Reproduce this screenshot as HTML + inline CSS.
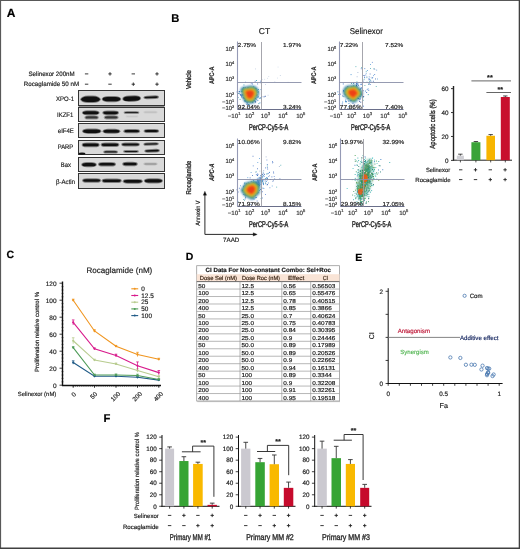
<!DOCTYPE html>
<html><head><meta charset="utf-8"><style>
html,body{margin:0;padding:0;background:#fff;}
body{width:520px;height:549px;overflow:hidden;position:relative;}
svg{position:absolute;left:0;top:0;font-family:"Liberation Sans", sans-serif;will-change:transform;text-rendering:geometricPrecision;}
</style></head><body>
<svg width="520" height="549" viewBox="0 0 520 549">
<defs>
<filter id="bl" x="-20%" y="-100%" width="140%" height="300%"><feGaussianBlur stdDeviation="0.9"/></filter>
<filter id="fb" x="-50%" y="-50%" width="200%" height="200%"><feGaussianBlur stdDeviation="1.1"/></filter>
<filter id="fb2" x="-80%" y="-80%" width="260%" height="260%"><feGaussianBlur stdDeviation="0.6"/></filter>
</defs>
<rect x="0" y="0" width="520" height="549" fill="#fff"/>
<text x="6.80" y="16.80" font-size="12" text-anchor="start" fill="#000" font-weight="bold" stroke="#000" stroke-width="0.18">A</text>
<text x="171.20" y="21.80" font-size="11.2" text-anchor="start" fill="#000" font-weight="bold" stroke="#000" stroke-width="0.18">B</text>
<text x="6.50" y="257.80" font-size="10.5" text-anchor="start" fill="#000" font-weight="bold" stroke="#000" stroke-width="0.18">C</text>
<text x="185.80" y="260.20" font-size="10.5" text-anchor="start" fill="#000" font-weight="bold" stroke="#000" stroke-width="0.18">D</text>
<text x="355.20" y="260.90" font-size="10.5" text-anchor="start" fill="#000" font-weight="bold" stroke="#000" stroke-width="0.18">E</text>
<text x="103.50" y="422.10" font-size="11.3" text-anchor="start" fill="#000" font-weight="bold" stroke="#000" stroke-width="0.18">F</text>
<text x="74.60" y="76.20" font-size="6.3" text-anchor="end" fill="#222" textLength="46.10" lengthAdjust="spacingAndGlyphs" stroke="#222" stroke-width="0.18">Selinexor 200nM</text>
<text x="79.20" y="86.40" font-size="6.3" text-anchor="end" fill="#222" textLength="55.40" lengthAdjust="spacingAndGlyphs" stroke="#222" stroke-width="0.18">Rocaglamide 50 nM</text>
<line x1="84.90" y1="73.90" x2="88.30" y2="73.90" stroke="#222" stroke-width="0.9"/>
<line x1="108.30" y1="73.90" x2="111.70" y2="73.90" stroke="#222" stroke-width="0.9"/>
<line x1="110.00" y1="72.20" x2="110.00" y2="75.60" stroke="#222" stroke-width="0.9"/>
<line x1="131.60" y1="73.90" x2="135.00" y2="73.90" stroke="#222" stroke-width="0.9"/>
<line x1="155.30" y1="73.90" x2="158.70" y2="73.90" stroke="#222" stroke-width="0.9"/>
<line x1="157.00" y1="72.20" x2="157.00" y2="75.60" stroke="#222" stroke-width="0.9"/>
<line x1="84.90" y1="84.20" x2="88.30" y2="84.20" stroke="#222" stroke-width="0.9"/>
<line x1="108.30" y1="84.20" x2="111.70" y2="84.20" stroke="#222" stroke-width="0.9"/>
<line x1="131.60" y1="84.20" x2="135.00" y2="84.20" stroke="#222" stroke-width="0.9"/>
<line x1="133.30" y1="82.50" x2="133.30" y2="85.90" stroke="#222" stroke-width="0.9"/>
<line x1="155.30" y1="84.20" x2="158.70" y2="84.20" stroke="#222" stroke-width="0.9"/>
<line x1="157.00" y1="82.50" x2="157.00" y2="85.90" stroke="#222" stroke-width="0.9"/>
<rect x="78.50" y="105.50" width="86.00" height="2.00" fill="#8a8a8a"/>
<rect x="78.50" y="90.50" width="86.00" height="15.00" fill="#d9d9d9" stroke="#333" stroke-width="1"/>
<text x="74.00" y="101.00" font-size="6.5" text-anchor="end" fill="#222" textLength="17.90" lengthAdjust="spacingAndGlyphs" stroke="#222" stroke-width="0.18">XPO-1</text>
<rect x="78.50" y="107.50" width="86.00" height="14.00" fill="#d9d9d9" stroke="#333" stroke-width="1"/>
<text x="73.30" y="116.80" font-size="6.5" text-anchor="end" fill="#222" textLength="16.30" lengthAdjust="spacingAndGlyphs" stroke="#222" stroke-width="0.18">IKZF1</text>
<rect x="78.50" y="123.50" width="86.00" height="14.00" fill="#d9d9d9" stroke="#333" stroke-width="1"/>
<text x="73.90" y="133.00" font-size="6.5" text-anchor="end" fill="#222" textLength="16.10" lengthAdjust="spacingAndGlyphs" stroke="#222" stroke-width="0.18">eIF4E</text>
<rect x="78.50" y="140.50" width="86.00" height="14.00" fill="#d9d9d9" stroke="#333" stroke-width="1"/>
<text x="73.20" y="148.60" font-size="6.5" text-anchor="end" fill="#222" textLength="15.40" lengthAdjust="spacingAndGlyphs" stroke="#222" stroke-width="0.18">PARP</text>
<rect x="78.50" y="157.50" width="86.00" height="14.00" fill="#d9d9d9" stroke="#333" stroke-width="1"/>
<text x="71.00" y="166.90" font-size="6.5" text-anchor="end" fill="#222" textLength="10.20" lengthAdjust="spacingAndGlyphs" stroke="#222" stroke-width="0.18">Bax</text>
<rect x="78.50" y="173.50" width="86.00" height="15.00" fill="#d9d9d9" stroke="#333" stroke-width="1"/>
<text x="75.10" y="184.10" font-size="6.5" text-anchor="end" fill="#222" textLength="19.10" lengthAdjust="spacingAndGlyphs" stroke="#222" stroke-width="0.18">β-Actin</text>
<g>
<rect x="80.20" y="95.60" width="20.60" height="7.40" rx="8.14" ry="3.70" fill="#101010" opacity="0.450"/>
<rect x="81.20" y="96.60" width="18.60" height="5.40" rx="5.94" ry="2.70" fill="#101010" opacity="1.0"/>
<rect x="101.60" y="96.00" width="19.70" height="6.20" rx="6.82" ry="3.10" fill="#101010" opacity="0.450"/>
<rect x="102.60" y="97.00" width="17.70" height="4.20" rx="4.62" ry="2.10" fill="#101010" opacity="1.0"/>
<rect x="122.20" y="95.40" width="19.00" height="6.40" rx="7.04" ry="3.20" fill="#101010" opacity="0.450" transform="rotate(-2 131.70 98.60)"/>
<rect x="123.20" y="96.40" width="17.00" height="4.40" rx="4.84" ry="2.20" fill="#101010" opacity="1.0" transform="rotate(-2 131.70 98.60)"/>
<rect x="143.40" y="95.50" width="15.60" height="3.60" rx="3.96" ry="1.80" fill="#101010" opacity="0.450" transform="rotate(-2 151.20 97.30)"/>
<rect x="144.40" y="96.50" width="13.60" height="1.60" rx="1.76" ry="0.80" fill="#101010" opacity="1.0" transform="rotate(-2 151.20 97.30)"/>
<rect x="81.90" y="110.30" width="17.70" height="5.00" rx="5.50" ry="2.50" fill="#101010" opacity="0.450"/>
<rect x="82.90" y="111.30" width="15.70" height="3.00" rx="3.30" ry="1.50" fill="#101010" opacity="1.0"/>
<rect x="102.30" y="110.40" width="16.70" height="4.80" rx="5.28" ry="2.40" fill="#101010" opacity="0.450"/>
<rect x="103.30" y="111.40" width="14.70" height="2.80" rx="3.08" ry="1.40" fill="#101010" opacity="1.0"/>
<rect x="123.70" y="111.00" width="15.60" height="3.00" rx="3.30" ry="1.50" fill="#101010" opacity="0.383"/>
<rect x="124.70" y="112.00" width="13.60" height="1.00" rx="1.10" ry="0.50" fill="#101010" opacity="0.85"/>
<rect x="143.40" y="110.80" width="14.20" height="2.80" rx="3.08" ry="1.40" fill="#101010" opacity="0.054"/>
<rect x="144.40" y="111.80" width="12.20" height="0.80" rx="0.88" ry="0.40" fill="#101010" opacity="0.12"/>
<rect x="84.40" y="115.20" width="14.40" height="4.40" rx="4.84" ry="2.20" fill="#101010" opacity="0.324"/>
<rect x="85.40" y="116.20" width="12.40" height="2.40" rx="2.64" ry="1.20" fill="#101010" opacity="0.72"/>
<rect x="103.80" y="115.30" width="14.80" height="4.20" rx="4.62" ry="2.10" fill="#101010" opacity="0.324"/>
<rect x="104.80" y="116.30" width="12.80" height="2.20" rx="2.42" ry="1.10" fill="#101010" opacity="0.72"/>
<rect x="125.40" y="115.10" width="13.20" height="2.60" rx="2.86" ry="1.30" fill="#101010" opacity="0.032"/>
<rect x="126.40" y="116.10" width="11.20" height="0.60" rx="0.66" ry="0.30" fill="#101010" opacity="0.07"/>
<rect x="82.10" y="128.50" width="19.30" height="5.40" rx="5.94" ry="2.70" fill="#101010" opacity="0.450"/>
<rect x="83.10" y="129.50" width="17.30" height="3.40" rx="3.74" ry="1.70" fill="#101010" opacity="1.0"/>
<rect x="102.50" y="128.65" width="17.90" height="5.10" rx="5.61" ry="2.55" fill="#101010" opacity="0.450"/>
<rect x="103.50" y="129.65" width="15.90" height="3.10" rx="3.41" ry="1.55" fill="#101010" opacity="1.0"/>
<rect x="123.40" y="129.10" width="16.70" height="4.20" rx="4.62" ry="2.10" fill="#101010" opacity="0.450"/>
<rect x="124.40" y="130.10" width="14.70" height="2.20" rx="2.42" ry="1.10" fill="#101010" opacity="1.0"/>
<rect x="143.60" y="128.90" width="15.60" height="4.20" rx="4.62" ry="2.10" fill="#101010" opacity="0.450"/>
<rect x="144.60" y="129.90" width="13.60" height="2.20" rx="2.42" ry="1.10" fill="#101010" opacity="1.0"/>
<rect x="81.70" y="142.50" width="18.00" height="4.80" rx="5.28" ry="2.40" fill="#101010" opacity="0.450"/>
<rect x="82.70" y="143.50" width="16.00" height="2.80" rx="3.08" ry="1.40" fill="#101010" opacity="1.0"/>
<rect x="100.60" y="142.40" width="18.80" height="4.60" rx="5.06" ry="2.30" fill="#101010" opacity="0.450"/>
<rect x="101.60" y="143.40" width="16.80" height="2.60" rx="2.86" ry="1.30" fill="#101010" opacity="1.0"/>
<rect x="121.20" y="142.60" width="18.70" height="3.80" rx="4.18" ry="1.90" fill="#101010" opacity="0.450"/>
<rect x="122.20" y="143.60" width="16.70" height="1.80" rx="1.98" ry="0.90" fill="#101010" opacity="1.0"/>
<rect x="143.40" y="142.35" width="15.40" height="3.30" rx="3.63" ry="1.65" fill="#101010" opacity="0.450" transform="rotate(-2 151.10 144.00)"/>
<rect x="144.40" y="143.35" width="13.40" height="1.30" rx="1.43" ry="0.65" fill="#101010" opacity="1.0" transform="rotate(-2 151.10 144.00)"/>
<rect x="103.30" y="150.35" width="14.60" height="3.10" rx="3.41" ry="1.55" fill="#101010" opacity="0.427"/>
<rect x="104.30" y="151.35" width="12.60" height="1.10" rx="1.21" ry="0.55" fill="#101010" opacity="0.95"/>
<rect x="123.20" y="150.05" width="15.60" height="2.90" rx="3.19" ry="1.45" fill="#101010" opacity="0.427"/>
<rect x="124.20" y="151.05" width="13.60" height="0.90" rx="0.99" ry="0.45" fill="#101010" opacity="0.95"/>
<rect x="144.30" y="149.00" width="15.60" height="3.60" rx="3.96" ry="1.80" fill="#101010" opacity="0.450" transform="rotate(-2 152.10 150.80)"/>
<rect x="145.30" y="150.00" width="13.60" height="1.60" rx="1.76" ry="0.80" fill="#101010" opacity="1.0" transform="rotate(-2 152.10 150.80)"/>
<ellipse cx="82.0" cy="153.6" rx="3.4" ry="1.2" fill="#101010"/>
<rect x="81.20" y="162.10" width="15.60" height="5.20" rx="5.72" ry="2.60" fill="#101010" opacity="0.450"/>
<rect x="82.20" y="163.10" width="13.60" height="3.20" rx="3.52" ry="1.60" fill="#101010" opacity="1.0"/>
<rect x="98.00" y="162.00" width="18.00" height="4.60" rx="5.06" ry="2.30" fill="#101010" opacity="0.450"/>
<rect x="99.00" y="163.00" width="16.00" height="2.60" rx="2.86" ry="1.30" fill="#101010" opacity="1.0"/>
<rect x="122.20" y="161.65" width="15.60" height="4.70" rx="5.17" ry="2.35" fill="#101010" opacity="0.450"/>
<rect x="123.20" y="162.65" width="13.60" height="2.70" rx="2.97" ry="1.35" fill="#101010" opacity="1.0"/>
<rect x="143.40" y="162.60" width="14.20" height="2.80" rx="3.08" ry="1.40" fill="#101010" opacity="0.135"/>
<rect x="144.40" y="163.60" width="12.20" height="0.80" rx="0.88" ry="0.40" fill="#101010" opacity="0.3"/>
<rect x="82.10" y="178.20" width="19.00" height="4.60" rx="5.06" ry="2.30" fill="#101010" opacity="0.450"/>
<rect x="83.10" y="179.20" width="17.00" height="2.60" rx="2.86" ry="1.30" fill="#101010" opacity="1.0"/>
<rect x="101.60" y="178.50" width="20.20" height="4.60" rx="5.06" ry="2.30" fill="#101010" opacity="0.450"/>
<rect x="102.60" y="179.50" width="18.20" height="2.60" rx="2.86" ry="1.30" fill="#101010" opacity="1.0"/>
<rect x="122.70" y="178.90" width="20.10" height="4.80" rx="5.28" ry="2.40" fill="#101010" opacity="0.450"/>
<rect x="123.70" y="179.90" width="18.10" height="2.80" rx="3.08" ry="1.40" fill="#101010" opacity="1.0"/>
<rect x="143.80" y="178.20" width="19.20" height="5.20" rx="5.72" ry="2.60" fill="#101010" opacity="0.450"/>
<rect x="144.80" y="179.20" width="17.20" height="3.20" rx="3.52" ry="1.60" fill="#101010" opacity="1.0"/>
</g>
<text x="264.50" y="34.00" font-size="8.5" text-anchor="middle" fill="#222" stroke="#222" stroke-width="0.18">CT</text>
<text x="366.30" y="34.40" font-size="8.5" text-anchor="middle" fill="#222" textLength="33.00" lengthAdjust="spacingAndGlyphs" stroke="#222" stroke-width="0.18">Selinexor</text>
<text x="190.80" y="79.60" font-size="7" text-anchor="middle" fill="#222" textLength="19.00" lengthAdjust="spacingAndGlyphs" transform="rotate(-90 190.80 79.60)" stroke="#222" stroke-width="0.3">Vehicle</text>
<text x="191.40" y="177.70" font-size="7" text-anchor="middle" fill="#222" textLength="33.80" lengthAdjust="spacingAndGlyphs" transform="rotate(-90 191.40 177.70)" stroke="#222" stroke-width="0.3">Rocaglamide</text>
<rect x="248.6" y="97.3" width="0.9" height="0.9" fill="#1a3a8a"/>
<rect x="259.9" y="97.5" width="0.9" height="0.9" fill="#2a64c0"/>
<rect x="248.7" y="95.9" width="0.9" height="0.9" fill="#1f50b0"/>
<rect x="250.5" y="96.7" width="0.9" height="0.9" fill="#4070c8"/>
<rect x="252.2" y="95.5" width="0.9" height="0.9" fill="#4070c8"/>
<rect x="256.7" y="97.0" width="0.9" height="0.9" fill="#3a8ad0"/>
<rect x="245.0" y="89.3" width="0.9" height="0.9" fill="#2a64c0"/>
<rect x="245.0" y="92.0" width="0.9" height="0.9" fill="#3a8ad0"/>
<rect x="260.6" y="97.6" width="0.9" height="0.9" fill="#2a9aa0"/>
<rect x="243.9" y="97.8" width="0.9" height="0.9" fill="#1f50b0"/>
<rect x="246.3" y="103.8" width="0.9" height="0.9" fill="#3a8ad0"/>
<rect x="255.8" y="98.7" width="0.9" height="0.9" fill="#3a8ad0"/>
<rect x="245.1" y="99.4" width="0.9" height="0.9" fill="#2a64c0"/>
<rect x="242.8" y="91.5" width="0.9" height="0.9" fill="#4070c8"/>
<rect x="247.5" y="89.3" width="0.9" height="0.9" fill="#2a9aa0"/>
<rect x="237.6" y="97.1" width="0.9" height="0.9" fill="#2a9aa0"/>
<rect x="246.9" y="103.6" width="0.9" height="0.9" fill="#1a3a8a"/>
<rect x="250.4" y="92.3" width="0.9" height="0.9" fill="#2a9aa0"/>
<rect x="238.7" y="92.8" width="0.9" height="0.9" fill="#1a3a8a"/>
<rect x="242.7" y="96.8" width="0.9" height="0.9" fill="#2a64c0"/>
<rect x="254.3" y="98.3" width="0.9" height="0.9" fill="#2a9ab0"/>
<rect x="242.9" y="105.0" width="0.9" height="0.9" fill="#4070c8"/>
<rect x="258.1" y="96.5" width="0.9" height="0.9" fill="#2a9ab0"/>
<rect x="240.8" y="91.1" width="0.9" height="0.9" fill="#2a9ab0"/>
<rect x="246.6" y="102.2" width="0.9" height="0.9" fill="#1f50b0"/>
<rect x="240.0" y="94.7" width="0.9" height="0.9" fill="#2a64c0"/>
<rect x="257.2" y="83.5" width="0.9" height="0.9" fill="#4070c8"/>
<rect x="249.3" y="92.6" width="0.9" height="0.9" fill="#1a3a8a"/>
<rect x="247.6" y="87.1" width="0.9" height="0.9" fill="#1a3a8a"/>
<rect x="252.0" y="90.5" width="0.9" height="0.9" fill="#4070c8"/>
<rect x="253.9" y="91.3" width="0.9" height="0.9" fill="#4070c8"/>
<rect x="245.3" y="100.3" width="0.9" height="0.9" fill="#4070c8"/>
<rect x="258.9" y="97.8" width="0.9" height="0.9" fill="#3a8ad0"/>
<rect x="249.6" y="89.1" width="0.9" height="0.9" fill="#2a9ab0"/>
<rect x="246.6" y="94.6" width="0.9" height="0.9" fill="#4070c8"/>
<rect x="238.9" y="91.1" width="0.9" height="0.9" fill="#2a9ab0"/>
<rect x="243.6" y="97.4" width="0.9" height="0.9" fill="#1a3a8a"/>
<rect x="245.5" y="97.1" width="0.9" height="0.9" fill="#4070c8"/>
<rect x="253.1" y="93.7" width="0.9" height="0.9" fill="#3a8ad0"/>
<rect x="254.8" y="100.9" width="0.9" height="0.9" fill="#2a64c0"/>
<rect x="242.6" y="95.2" width="0.9" height="0.9" fill="#2a9aa0"/>
<rect x="249.4" y="97.5" width="0.9" height="0.9" fill="#1f50b0"/>
<rect x="245.1" y="99.6" width="0.9" height="0.9" fill="#3a8ad0"/>
<rect x="247.5" y="88.4" width="0.9" height="0.9" fill="#1f50b0"/>
<rect x="244.8" y="87.2" width="0.9" height="0.9" fill="#4070c8"/>
<rect x="257.9" y="89.0" width="0.9" height="0.9" fill="#2a9ab0"/>
<rect x="247.0" y="88.2" width="0.9" height="0.9" fill="#4070c8"/>
<rect x="247.9" y="96.0" width="0.9" height="0.9" fill="#1a3a8a"/>
<rect x="247.0" y="96.6" width="0.9" height="0.9" fill="#3a8ad0"/>
<rect x="247.5" y="95.4" width="0.9" height="0.9" fill="#1f50b0"/>
<rect x="250.1" y="94.5" width="0.9" height="0.9" fill="#3a8ad0"/>
<rect x="236.7" y="91.5" width="0.9" height="0.9" fill="#1f50b0"/>
<rect x="261.3" y="96.3" width="0.9" height="0.9" fill="#1f50b0"/>
<rect x="244.3" y="99.9" width="0.9" height="0.9" fill="#2a9aa0"/>
<rect x="244.9" y="90.8" width="0.9" height="0.9" fill="#2a64c0"/>
<rect x="260.3" y="80.7" width="0.9" height="0.9" fill="#4070c8"/>
<rect x="245.2" y="95.1" width="0.9" height="0.9" fill="#3a8ad0"/>
<rect x="254.1" y="97.5" width="0.9" height="0.9" fill="#2a9aa0"/>
<rect x="241.5" y="95.6" width="0.9" height="0.9" fill="#1f50b0"/>
<rect x="263.6" y="96.4" width="0.9" height="0.9" fill="#1f50b0"/>
<rect x="244.5" y="100.8" width="0.9" height="0.9" fill="#2a64c0"/>
<rect x="250.2" y="90.0" width="0.9" height="0.9" fill="#1a3a8a"/>
<rect x="255.6" y="88.2" width="0.9" height="0.9" fill="#2a9aa0"/>
<rect x="237.8" y="93.1" width="0.9" height="0.9" fill="#2a9aa0"/>
<rect x="250.9" y="87.9" width="0.9" height="0.9" fill="#2a9ab0"/>
<rect x="242.0" y="94.4" width="0.9" height="0.9" fill="#1f50b0"/>
<rect x="256.1" y="80.0" width="0.9" height="0.9" fill="#2a9ab0"/>
<rect x="251.4" y="98.3" width="0.9" height="0.9" fill="#4070c8"/>
<rect x="249.7" y="90.6" width="0.9" height="0.9" fill="#1f50b0"/>
<rect x="240.9" y="94.9" width="0.9" height="0.9" fill="#2a64c0"/>
<rect x="251.6" y="88.6" width="0.9" height="0.9" fill="#3a8ad0"/>
<rect x="245.0" y="81.8" width="0.9" height="0.9" fill="#4070c8"/>
<rect x="253.2" y="86.4" width="0.9" height="0.9" fill="#2a9aa0"/>
<rect x="255.1" y="93.1" width="0.9" height="0.9" fill="#3a8ad0"/>
<rect x="255.1" y="98.1" width="0.9" height="0.9" fill="#2a9aa0"/>
<rect x="252.2" y="101.7" width="0.9" height="0.9" fill="#1f50b0"/>
<rect x="253.4" y="89.3" width="0.9" height="0.9" fill="#1a3a8a"/>
<rect x="245.5" y="100.9" width="0.9" height="0.9" fill="#2a9ab0"/>
<rect x="243.5" y="84.5" width="0.9" height="0.9" fill="#2a9ab0"/>
<rect x="249.1" y="91.0" width="0.9" height="0.9" fill="#3a8ad0"/>
<rect x="242.7" y="97.6" width="0.9" height="0.9" fill="#2a64c0"/>
<rect x="254.7" y="80.8" width="0.9" height="0.9" fill="#4070c8"/>
<rect x="241.0" y="96.5" width="0.9" height="0.9" fill="#2a64c0"/>
<rect x="249.5" y="91.2" width="0.9" height="0.9" fill="#3a8ad0"/>
<rect x="257.4" y="95.7" width="0.9" height="0.9" fill="#4070c8"/>
<rect x="251.1" y="91.7" width="0.9" height="0.9" fill="#2a9ab0"/>
<rect x="244.8" y="91.0" width="0.9" height="0.9" fill="#2a9aa0"/>
<rect x="253.9" y="100.2" width="0.9" height="0.9" fill="#2a64c0"/>
<rect x="264.8" y="95.8" width="0.9" height="0.9" fill="#1a3a8a"/>
<rect x="257.4" y="99.9" width="0.9" height="0.9" fill="#3a8ad0"/>
<rect x="239.6" y="98.9" width="0.9" height="0.9" fill="#2a9ab0"/>
<rect x="250.9" y="93.6" width="0.9" height="0.9" fill="#3a8ad0"/>
<rect x="248.9" y="98.4" width="0.9" height="0.9" fill="#1f50b0"/>
<rect x="246.8" y="100.5" width="0.9" height="0.9" fill="#2a9ab0"/>
<rect x="258.4" y="103.2" width="0.9" height="0.9" fill="#2a9aa0"/>
<rect x="256.6" y="89.7" width="0.9" height="0.9" fill="#2a9ab0"/>
<rect x="254.8" y="91.3" width="0.9" height="0.9" fill="#1f50b0"/>
<rect x="252.2" y="96.8" width="0.9" height="0.9" fill="#1f50b0"/>
<rect x="256.0" y="95.2" width="0.9" height="0.9" fill="#3a8ad0"/>
<rect x="242.5" y="88.6" width="0.9" height="0.9" fill="#3a8ad0"/>
<rect x="253.0" y="99.9" width="0.9" height="0.9" fill="#1a3a8a"/>
<rect x="251.5" y="95.8" width="0.9" height="0.9" fill="#1a3a8a"/>
<rect x="242.9" y="93.7" width="0.9" height="0.9" fill="#2a9ab0"/>
<rect x="251.9" y="83.5" width="0.9" height="0.9" fill="#2a64c0"/>
<rect x="250.0" y="98.8" width="0.9" height="0.9" fill="#2a9ab0"/>
<rect x="255.0" y="97.9" width="0.9" height="0.9" fill="#2a64c0"/>
<rect x="250.8" y="82.6" width="0.9" height="0.9" fill="#4070c8"/>
<rect x="243.1" y="107.4" width="0.9" height="0.9" fill="#1f50b0"/>
<rect x="241.4" y="93.9" width="0.9" height="0.9" fill="#4070c8"/>
<rect x="239.8" y="94.0" width="0.9" height="0.9" fill="#1f50b0"/>
<rect x="258.1" y="91.5" width="0.9" height="0.9" fill="#2a9aa0"/>
<rect x="260.5" y="89.2" width="0.9" height="0.9" fill="#3a8ad0"/>
<rect x="251.6" y="92.0" width="0.9" height="0.9" fill="#2a64c0"/>
<rect x="246.2" y="97.4" width="0.9" height="0.9" fill="#1a3a8a"/>
<rect x="250.1" y="96.6" width="0.9" height="0.9" fill="#1a3a8a"/>
<rect x="249.1" y="97.1" width="0.9" height="0.9" fill="#2a9ab0"/>
<rect x="255.0" y="101.6" width="0.9" height="0.9" fill="#1a3a8a"/>
<rect x="247.1" y="97.6" width="0.9" height="0.9" fill="#3a8ad0"/>
<rect x="253.9" y="93.7" width="0.9" height="0.9" fill="#2a64c0"/>
<rect x="244.8" y="98.2" width="0.9" height="0.9" fill="#1a3a8a"/>
<rect x="251.6" y="91.7" width="0.9" height="0.9" fill="#4070c8"/>
<rect x="255.7" y="94.3" width="0.9" height="0.9" fill="#4070c8"/>
<rect x="251.6" y="99.0" width="0.9" height="0.9" fill="#1a3a8a"/>
<rect x="246.6" y="98.2" width="0.9" height="0.9" fill="#4070c8"/>
<rect x="249.0" y="94.9" width="0.9" height="0.9" fill="#2a9aa0"/>
<rect x="245.3" y="94.0" width="0.9" height="0.9" fill="#2a64c0"/>
<rect x="259.5" y="102.4" width="0.9" height="0.9" fill="#3a8ad0"/>
<rect x="252.6" y="94.1" width="0.9" height="0.9" fill="#2a9aa0"/>
<rect x="248.3" y="106.1" width="0.9" height="0.9" fill="#3a8ad0"/>
<rect x="249.6" y="97.3" width="0.9" height="0.9" fill="#4070c8"/>
<rect x="254.9" y="87.9" width="0.9" height="0.9" fill="#2a9aa0"/>
<rect x="244.2" y="98.2" width="0.9" height="0.9" fill="#1f50b0"/>
<rect x="242.1" y="90.9" width="0.9" height="0.9" fill="#2a64c0"/>
<rect x="248.2" y="104.0" width="0.9" height="0.9" fill="#3a8ad0"/>
<rect x="248.1" y="95.4" width="0.9" height="0.9" fill="#2a64c0"/>
<rect x="243.3" y="87.2" width="0.9" height="0.9" fill="#2a64c0"/>
<rect x="246.9" y="92.1" width="0.9" height="0.9" fill="#2a9aa0"/>
<rect x="254.0" y="90.0" width="0.9" height="0.9" fill="#2a9aa0"/>
<rect x="255.8" y="94.3" width="0.9" height="0.9" fill="#2a9aa0"/>
<rect x="248.8" y="93.4" width="0.9" height="0.9" fill="#1a3a8a"/>
<rect x="250.2" y="97.1" width="0.9" height="0.9" fill="#3a8ad0"/>
<rect x="249.7" y="97.9" width="0.9" height="0.9" fill="#2a9aa0"/>
<rect x="245.2" y="89.7" width="0.9" height="0.9" fill="#3a8ad0"/>
<rect x="248.4" y="100.7" width="0.9" height="0.9" fill="#3a8ad0"/>
<rect x="248.7" y="104.2" width="0.9" height="0.9" fill="#2a9aa0"/>
<rect x="251.1" y="94.7" width="0.9" height="0.9" fill="#1f50b0"/>
<rect x="246.6" y="93.4" width="0.9" height="0.9" fill="#4070c8"/>
<rect x="250.2" y="100.4" width="0.9" height="0.9" fill="#1a3a8a"/>
<rect x="252.5" y="89.3" width="0.9" height="0.9" fill="#4070c8"/>
<rect x="238.7" y="91.3" width="0.9" height="0.9" fill="#1f50b0"/>
<g filter="url(#fb)">
<path d="M258.86,94.10 L258.55,95.21 L257.98,96.22 L257.31,97.10 L256.72,97.95 L256.30,98.90 L255.94,100.01 L255.46,101.19 L254.70,102.23 L253.65,102.96 L252.43,103.33 L251.16,103.43 L249.90,103.41 L248.66,103.33 L247.42,103.13 L246.25,102.72 L245.22,102.03 L244.38,101.14 L243.73,100.14 L243.21,99.12 L242.81,98.10 L242.50,97.10 L242.28,96.10 L242.07,95.11 L241.77,94.10 L241.33,93.00 L240.86,91.73 L240.59,90.33 L240.79,88.96 L241.57,87.85 L242.81,87.16 L244.22,86.86 L245.56,86.75 L246.73,86.62 L247.78,86.37 L248.82,86.05 L249.90,85.79 L251.03,85.69 L252.19,85.75 L253.36,85.93 L254.53,86.25 L255.67,86.75 L256.68,87.47 L257.47,88.42 L258.03,89.51 L258.42,90.65 L258.71,91.79 L258.88,92.94 Z" fill="#2350a8"/>
<path d="M258.14,94.10 L257.86,95.12 L257.34,96.05 L256.72,96.86 L256.18,97.64 L255.79,98.52 L255.46,99.54 L255.02,100.62 L254.32,101.58 L253.35,102.25 L252.23,102.59 L251.06,102.69 L249.90,102.67 L248.76,102.59 L247.62,102.41 L246.54,102.03 L245.59,101.40 L244.82,100.57 L244.22,99.65 L243.75,98.71 L243.37,97.78 L243.09,96.86 L242.89,95.94 L242.70,95.03 L242.42,94.10 L242.02,93.09 L241.58,91.92 L241.33,90.63 L241.52,89.37 L242.24,88.35 L243.37,87.72 L244.67,87.44 L245.91,87.34 L246.99,87.22 L247.95,86.99 L248.90,86.69 L249.90,86.45 L250.94,86.36 L252.01,86.41 L253.08,86.59 L254.16,86.88 L255.21,87.34 L256.13,88.00 L256.86,88.88 L257.38,89.88 L257.74,90.92 L258.00,91.98 L258.16,93.04 Z" fill="#178c9c"/>
<path d="M257.33,94.10 L257.08,95.02 L256.61,95.86 L256.05,96.59 L255.56,97.30 L255.21,98.08 L254.92,99.00 L254.52,99.98 L253.89,100.85 L253.02,101.46 L252.00,101.76 L250.94,101.85 L249.90,101.83 L248.87,101.76 L247.84,101.60 L246.87,101.25 L246.01,100.68 L245.32,99.94 L244.78,99.11 L244.35,98.26 L244.01,97.42 L243.76,96.59 L243.57,95.76 L243.40,94.94 L243.15,94.10 L242.79,93.18 L242.39,92.13 L242.17,90.97 L242.34,89.83 L242.99,88.91 L244.01,88.34 L245.19,88.09 L246.30,88.00 L247.27,87.89 L248.14,87.68 L249.00,87.42 L249.90,87.20 L250.84,87.12 L251.80,87.17 L252.77,87.32 L253.75,87.59 L254.69,88.00 L255.52,88.60 L256.18,89.39 L256.65,90.29 L256.97,91.24 L257.21,92.18 L257.36,93.14 Z" fill="#35ad3c"/>
<path d="M256.26,94.10 L256.04,94.89 L255.64,95.60 L255.16,96.23 L254.75,96.84 L254.44,97.51 L254.19,98.29 L253.85,99.13 L253.31,99.87 L252.57,100.39 L251.70,100.65 L250.79,100.73 L249.90,100.71 L249.02,100.66 L248.14,100.51 L247.31,100.22 L246.57,99.73 L245.98,99.10 L245.52,98.39 L245.15,97.66 L244.86,96.94 L244.65,96.23 L244.49,95.52 L244.34,94.82 L244.13,94.10 L243.82,93.32 L243.48,92.42 L243.29,91.42 L243.43,90.45 L243.99,89.66 L244.86,89.18 L245.87,88.96 L246.82,88.88 L247.65,88.79 L248.40,88.61 L249.13,88.38 L249.90,88.20 L250.70,88.13 L251.53,88.17 L252.36,88.30 L253.19,88.53 L254.00,88.88 L254.71,89.40 L255.27,90.07 L255.67,90.84 L255.95,91.65 L256.15,92.46 L256.28,93.28 Z" fill="#d6d126"/>
<path d="M255.19,94.10 L255.00,94.76 L254.67,95.35 L254.27,95.87 L253.93,96.37 L253.68,96.93 L253.47,97.59 L253.18,98.28 L252.73,98.90 L252.12,99.33 L251.39,99.55 L250.64,99.61 L249.90,99.60 L249.17,99.55 L248.44,99.43 L247.75,99.18 L247.14,98.78 L246.64,98.25 L246.26,97.66 L245.96,97.06 L245.71,96.46 L245.53,95.87 L245.40,95.28 L245.28,94.69 L245.11,94.10 L244.85,93.45 L244.56,92.70 L244.41,91.88 L244.53,91.07 L244.99,90.41 L245.71,90.01 L246.55,89.83 L247.34,89.77 L248.03,89.69 L248.65,89.54 L249.26,89.35 L249.90,89.20 L250.57,89.14 L251.25,89.17 L251.94,89.28 L252.63,89.47 L253.30,89.76 L253.90,90.19 L254.36,90.75 L254.70,91.39 L254.93,92.06 L255.10,92.74 L255.20,93.42 Z" fill="#f28a1c"/>
<path d="M253.93,94.10 L253.79,94.60 L253.54,95.05 L253.24,95.45 L252.97,95.83 L252.78,96.26 L252.62,96.76 L252.40,97.29 L252.06,97.76 L251.59,98.09 L251.04,98.25 L250.47,98.30 L249.90,98.29 L249.34,98.26 L248.79,98.17 L248.26,97.98 L247.79,97.67 L247.42,97.27 L247.12,96.82 L246.89,96.36 L246.71,95.90 L246.57,95.45 L246.47,95.00 L246.38,94.55 L246.24,94.10 L246.04,93.60 L245.83,93.03 L245.71,92.40 L245.80,91.79 L246.15,91.29 L246.71,90.98 L247.34,90.84 L247.95,90.79 L248.47,90.74 L248.95,90.62 L249.41,90.48 L249.90,90.36 L250.41,90.31 L250.93,90.34 L251.46,90.43 L251.99,90.57 L252.50,90.79 L252.95,91.12 L253.31,91.54 L253.56,92.03 L253.73,92.55 L253.86,93.06 L253.94,93.58 Z" fill="#ee3f15"/>
</g>
<rect x="265.0" y="84.0" width="0.7" height="0.7" fill="#9ab0d0"/>
<rect x="257.1" y="93.3" width="0.7" height="0.7" fill="#9ab0d0"/>
<rect x="259.9" y="82.7" width="0.7" height="0.7" fill="#9ab0d0"/>
<rect x="268.4" y="76.1" width="0.7" height="0.7" fill="#b8c8e0"/>
<rect x="264.4" y="78.9" width="0.7" height="0.7" fill="#b8c8e0"/>
<rect x="277.7" y="66.7" width="0.7" height="0.7" fill="#b8c8e0"/>
<rect x="255.0" y="68.6" width="0.7" height="0.7" fill="#9ab0d0"/>
<rect x="261.8" y="79.0" width="0.7" height="0.7" fill="#b8c8e0"/>
<rect x="277.0" y="77.7" width="0.7" height="0.7" fill="#b8c8e0"/>
<rect x="279.9" y="75.3" width="0.7" height="0.7" fill="#9ab0d0"/>
<rect x="287.7" y="81.9" width="0.7" height="0.7" fill="#9ab0d0"/>
<rect x="267.2" y="77.9" width="0.7" height="0.7" fill="#b8c8e0"/>
<rect x="274.5" y="81.6" width="0.7" height="0.7" fill="#9ab0d0"/>
<rect x="267.7" y="94.8" width="0.7" height="0.7" fill="#9ab0d0"/>
<line x1="237.50" y1="41.50" x2="237.50" y2="109.50" stroke="#959ab5" stroke-width="1.1"/>
<line x1="237.50" y1="109.50" x2="301.50" y2="109.50" stroke="#6a6f8a" stroke-width="1.0"/>
<line x1="261.50" y1="42.00" x2="261.50" y2="109.50" stroke="#9c9ca4" stroke-width="0.9"/>
<line x1="237.50" y1="82.50" x2="301.50" y2="82.50" stroke="#8a90a8" stroke-width="0.9"/>
<text x="234.20" y="51.30" font-size="5.9" text-anchor="end" fill="#333" stroke="#333" stroke-width="0.18">10<tspan font-size="3.89" dy="-2.48">5</tspan></text>
<text x="234.20" y="66.00" font-size="5.9" text-anchor="end" fill="#333" stroke="#333" stroke-width="0.18">10<tspan font-size="3.89" dy="-2.48">4</tspan></text>
<text x="234.20" y="81.30" font-size="5.9" text-anchor="end" fill="#333" stroke="#333" stroke-width="0.18">10<tspan font-size="3.89" dy="-2.48">3</tspan></text>
<text x="234.20" y="97.30" font-size="5.9" text-anchor="end" fill="#333" stroke="#333" stroke-width="0.18">10<tspan font-size="3.89" dy="-2.48">2</tspan></text>
<text x="234.20" y="104.10" font-size="5.9" text-anchor="end" fill="#333" stroke="#333" stroke-width="0.18">−10<tspan font-size="3.89" dy="-2.48">1</tspan></text>
<text x="234.20" y="110.10" font-size="5.9" text-anchor="end" fill="#333" stroke="#333" stroke-width="0.18">−10<tspan font-size="3.89" dy="-2.48">2</tspan></text>
<text x="240.50" y="117.90" font-size="6.2" text-anchor="end" fill="#333" stroke="#333" stroke-width="0.18">−10<tspan font-size="4.09" dy="-2.60">1</tspan></text>
<text x="254.20" y="117.90" font-size="6.2" text-anchor="end" fill="#333" stroke="#333" stroke-width="0.18">10<tspan font-size="4.09" dy="-2.60">2</tspan></text>
<text x="270.00" y="117.90" font-size="6.2" text-anchor="end" fill="#333" stroke="#333" stroke-width="0.18">10<tspan font-size="4.09" dy="-2.60">3</tspan></text>
<text x="287.50" y="117.90" font-size="6.2" text-anchor="end" fill="#333" stroke="#333" stroke-width="0.18">10<tspan font-size="4.09" dy="-2.60">4</tspan></text>
<text x="305.30" y="117.90" font-size="6.2" text-anchor="end" fill="#333" stroke="#333" stroke-width="0.18">10<tspan font-size="4.09" dy="-2.60">5</tspan></text>
<text x="237.80" y="47.00" font-size="5.8" text-anchor="start" fill="#222" textLength="18.29" lengthAdjust="spacingAndGlyphs" stroke="#222" stroke-width="0.18">2.75%</text>
<text x="301.30" y="47.00" font-size="5.8" text-anchor="end" fill="#222" textLength="18.29" lengthAdjust="spacingAndGlyphs" stroke="#222" stroke-width="0.18">1.97%</text>
<text x="237.80" y="108.90" font-size="5.8" text-anchor="start" fill="#222" textLength="21.87" lengthAdjust="spacingAndGlyphs" stroke="#222" stroke-width="0.18">92.04%</text>
<text x="301.30" y="108.90" font-size="5.8" text-anchor="end" fill="#222" textLength="18.29" lengthAdjust="spacingAndGlyphs" stroke="#222" stroke-width="0.18">3.24%</text>
<text x="214.30" y="75.30" font-size="6.8" text-anchor="middle" fill="#222" font-weight="bold" textLength="17.50" lengthAdjust="spacingAndGlyphs" transform="rotate(-90 214.30 75.30)" stroke="#222" stroke-width="0.18">APC-A</text>
<text x="268.70" y="129.70" font-size="8.4" text-anchor="middle" fill="#222" textLength="39.20" lengthAdjust="spacingAndGlyphs" stroke="#222" stroke-width="0.4">PerCP-Cy5-5-A</text>
<rect x="352.8" y="95.9" width="0.9" height="0.9" fill="#4070c8"/>
<rect x="347.5" y="90.6" width="0.9" height="0.9" fill="#2a9aa0"/>
<rect x="351.4" y="97.3" width="0.9" height="0.9" fill="#1f50b0"/>
<rect x="365.1" y="90.6" width="0.9" height="0.9" fill="#3a8ad0"/>
<rect x="347.4" y="86.1" width="0.9" height="0.9" fill="#1f50b0"/>
<rect x="348.6" y="96.7" width="0.9" height="0.9" fill="#4070c8"/>
<rect x="359.1" y="100.8" width="0.9" height="0.9" fill="#1a3a8a"/>
<rect x="360.3" y="101.7" width="0.9" height="0.9" fill="#1a3a8a"/>
<rect x="360.0" y="88.6" width="0.9" height="0.9" fill="#1a3a8a"/>
<rect x="350.7" y="87.2" width="0.9" height="0.9" fill="#1f50b0"/>
<rect x="353.1" y="86.2" width="0.9" height="0.9" fill="#2a9ab0"/>
<rect x="357.0" y="83.6" width="0.9" height="0.9" fill="#1f50b0"/>
<rect x="356.0" y="85.1" width="0.9" height="0.9" fill="#1a3a8a"/>
<rect x="351.3" y="91.7" width="0.9" height="0.9" fill="#2a64c0"/>
<rect x="357.1" y="97.4" width="0.9" height="0.9" fill="#2a64c0"/>
<rect x="348.0" y="97.8" width="0.9" height="0.9" fill="#2a64c0"/>
<rect x="346.8" y="87.8" width="0.9" height="0.9" fill="#1a3a8a"/>
<rect x="353.2" y="97.9" width="0.9" height="0.9" fill="#4070c8"/>
<rect x="356.1" y="84.6" width="0.9" height="0.9" fill="#1f50b0"/>
<rect x="355.3" y="92.0" width="0.9" height="0.9" fill="#1f50b0"/>
<rect x="362.6" y="97.2" width="0.9" height="0.9" fill="#2a9aa0"/>
<rect x="357.5" y="83.4" width="0.9" height="0.9" fill="#3a8ad0"/>
<rect x="352.4" y="89.7" width="0.9" height="0.9" fill="#1a3a8a"/>
<rect x="348.8" y="88.5" width="0.9" height="0.9" fill="#2a9ab0"/>
<rect x="347.6" y="97.8" width="0.9" height="0.9" fill="#1a3a8a"/>
<rect x="352.5" y="95.2" width="0.9" height="0.9" fill="#1a3a8a"/>
<rect x="351.4" y="91.7" width="0.9" height="0.9" fill="#3a8ad0"/>
<rect x="348.4" y="100.6" width="0.9" height="0.9" fill="#1a3a8a"/>
<rect x="350.2" y="100.3" width="0.9" height="0.9" fill="#2a64c0"/>
<rect x="345.7" y="94.2" width="0.9" height="0.9" fill="#1a3a8a"/>
<rect x="356.6" y="95.8" width="0.9" height="0.9" fill="#4070c8"/>
<rect x="351.0" y="100.0" width="0.9" height="0.9" fill="#4070c8"/>
<rect x="342.3" y="95.5" width="0.9" height="0.9" fill="#1f50b0"/>
<rect x="358.5" y="108.2" width="0.9" height="0.9" fill="#4070c8"/>
<rect x="360.1" y="94.2" width="0.9" height="0.9" fill="#2a9ab0"/>
<rect x="332.3" y="92.7" width="0.9" height="0.9" fill="#2a9aa0"/>
<rect x="342.2" y="101.6" width="0.9" height="0.9" fill="#3a8ad0"/>
<rect x="355.5" y="94.6" width="0.9" height="0.9" fill="#1a3a8a"/>
<rect x="337.4" y="91.4" width="0.9" height="0.9" fill="#3a8ad0"/>
<rect x="345.8" y="88.7" width="0.9" height="0.9" fill="#2a9aa0"/>
<rect x="360.6" y="87.8" width="0.9" height="0.9" fill="#3a8ad0"/>
<rect x="339.9" y="93.7" width="0.9" height="0.9" fill="#4070c8"/>
<rect x="353.5" y="93.6" width="0.9" height="0.9" fill="#4070c8"/>
<rect x="350.3" y="88.3" width="0.9" height="0.9" fill="#1a3a8a"/>
<rect x="356.7" y="97.5" width="0.9" height="0.9" fill="#2a9aa0"/>
<rect x="357.2" y="97.0" width="0.9" height="0.9" fill="#2a9aa0"/>
<rect x="353.1" y="82.8" width="0.9" height="0.9" fill="#2a64c0"/>
<rect x="356.9" y="92.1" width="0.9" height="0.9" fill="#2a64c0"/>
<rect x="357.3" y="90.8" width="0.9" height="0.9" fill="#2a9aa0"/>
<rect x="358.8" y="95.7" width="0.9" height="0.9" fill="#2a9ab0"/>
<rect x="347.9" y="90.7" width="0.9" height="0.9" fill="#4070c8"/>
<rect x="353.4" y="82.5" width="0.9" height="0.9" fill="#2a9aa0"/>
<rect x="362.7" y="99.8" width="0.9" height="0.9" fill="#2a9aa0"/>
<rect x="350.6" y="91.1" width="0.9" height="0.9" fill="#2a9aa0"/>
<rect x="347.9" y="95.4" width="0.9" height="0.9" fill="#2a9ab0"/>
<rect x="341.8" y="103.5" width="0.9" height="0.9" fill="#2a64c0"/>
<rect x="356.4" y="86.2" width="0.9" height="0.9" fill="#1f50b0"/>
<rect x="343.3" y="90.8" width="0.9" height="0.9" fill="#2a64c0"/>
<rect x="359.0" y="91.2" width="0.9" height="0.9" fill="#1f50b0"/>
<rect x="353.2" y="85.4" width="0.9" height="0.9" fill="#2a9aa0"/>
<rect x="339.0" y="94.6" width="0.9" height="0.9" fill="#1f50b0"/>
<rect x="358.0" y="98.0" width="0.9" height="0.9" fill="#2a9aa0"/>
<rect x="352.0" y="97.7" width="0.9" height="0.9" fill="#1a3a8a"/>
<rect x="357.9" y="92.9" width="0.9" height="0.9" fill="#1a3a8a"/>
<rect x="353.5" y="99.9" width="0.9" height="0.9" fill="#1a3a8a"/>
<rect x="349.9" y="95.6" width="0.9" height="0.9" fill="#3a8ad0"/>
<rect x="359.7" y="96.5" width="0.9" height="0.9" fill="#2a9ab0"/>
<rect x="348.5" y="93.6" width="0.9" height="0.9" fill="#2a9aa0"/>
<rect x="360.0" y="93.4" width="0.9" height="0.9" fill="#3a8ad0"/>
<rect x="348.4" y="92.3" width="0.9" height="0.9" fill="#3a8ad0"/>
<rect x="351.5" y="95.6" width="0.9" height="0.9" fill="#3a8ad0"/>
<rect x="345.1" y="101.0" width="0.9" height="0.9" fill="#3a8ad0"/>
<rect x="361.1" y="87.4" width="0.9" height="0.9" fill="#4070c8"/>
<rect x="345.1" y="99.7" width="0.9" height="0.9" fill="#3a8ad0"/>
<rect x="348.8" y="97.1" width="0.9" height="0.9" fill="#2a64c0"/>
<rect x="344.6" y="93.6" width="0.9" height="0.9" fill="#2a9aa0"/>
<rect x="358.3" y="98.2" width="0.9" height="0.9" fill="#1a3a8a"/>
<rect x="356.1" y="83.0" width="0.9" height="0.9" fill="#2a64c0"/>
<rect x="352.4" y="97.7" width="0.9" height="0.9" fill="#4070c8"/>
<rect x="348.9" y="88.8" width="0.9" height="0.9" fill="#2a9aa0"/>
<rect x="360.6" y="84.2" width="0.9" height="0.9" fill="#2a64c0"/>
<rect x="357.7" y="97.7" width="0.9" height="0.9" fill="#2a9ab0"/>
<rect x="358.7" y="89.6" width="0.9" height="0.9" fill="#1f50b0"/>
<rect x="350.5" y="93.6" width="0.9" height="0.9" fill="#2a9ab0"/>
<rect x="345.9" y="92.4" width="0.9" height="0.9" fill="#4070c8"/>
<rect x="353.0" y="96.2" width="0.9" height="0.9" fill="#3a8ad0"/>
<rect x="362.9" y="105.7" width="0.9" height="0.9" fill="#2a64c0"/>
<rect x="362.6" y="90.3" width="0.9" height="0.9" fill="#1a3a8a"/>
<rect x="360.7" y="83.7" width="0.9" height="0.9" fill="#2a64c0"/>
<rect x="351.3" y="93.0" width="0.9" height="0.9" fill="#2a9ab0"/>
<rect x="358.9" y="98.7" width="0.9" height="0.9" fill="#2a64c0"/>
<rect x="349.7" y="89.7" width="0.9" height="0.9" fill="#3a8ad0"/>
<rect x="347.5" y="88.6" width="0.9" height="0.9" fill="#4070c8"/>
<rect x="352.0" y="90.9" width="0.9" height="0.9" fill="#2a64c0"/>
<rect x="348.2" y="106.3" width="0.9" height="0.9" fill="#3a8ad0"/>
<rect x="349.5" y="96.1" width="0.9" height="0.9" fill="#1f50b0"/>
<rect x="360.9" y="93.6" width="0.9" height="0.9" fill="#4070c8"/>
<rect x="352.0" y="98.3" width="0.9" height="0.9" fill="#2a9ab0"/>
<rect x="358.4" y="89.3" width="0.9" height="0.9" fill="#3a8ad0"/>
<rect x="351.5" y="93.1" width="0.9" height="0.9" fill="#4070c8"/>
<rect x="351.5" y="88.9" width="0.9" height="0.9" fill="#2a64c0"/>
<rect x="357.6" y="104.4" width="0.9" height="0.9" fill="#1a3a8a"/>
<rect x="348.7" y="95.6" width="0.9" height="0.9" fill="#1a3a8a"/>
<rect x="347.5" y="96.0" width="0.9" height="0.9" fill="#4070c8"/>
<rect x="358.7" y="94.6" width="0.9" height="0.9" fill="#4070c8"/>
<rect x="348.8" y="97.8" width="0.9" height="0.9" fill="#2a64c0"/>
<rect x="356.1" y="84.7" width="0.9" height="0.9" fill="#1f50b0"/>
<rect x="359.8" y="96.2" width="0.9" height="0.9" fill="#3a8ad0"/>
<rect x="348.5" y="103.1" width="0.9" height="0.9" fill="#3a8ad0"/>
<rect x="348.1" y="94.5" width="0.9" height="0.9" fill="#2a9aa0"/>
<rect x="359.9" y="98.5" width="0.9" height="0.9" fill="#1f50b0"/>
<rect x="354.7" y="97.2" width="0.9" height="0.9" fill="#4070c8"/>
<rect x="354.8" y="92.5" width="0.9" height="0.9" fill="#1f50b0"/>
<rect x="356.9" y="98.0" width="0.9" height="0.9" fill="#3a8ad0"/>
<rect x="361.5" y="94.6" width="0.9" height="0.9" fill="#4070c8"/>
<rect x="355.1" y="94.1" width="0.9" height="0.9" fill="#4070c8"/>
<rect x="343.4" y="96.2" width="0.9" height="0.9" fill="#2a9aa0"/>
<rect x="350.6" y="74.2" width="0.9" height="0.9" fill="#3a8ad0"/>
<rect x="351.0" y="96.7" width="0.9" height="0.9" fill="#1f50b0"/>
<rect x="353.0" y="92.1" width="0.9" height="0.9" fill="#1a3a8a"/>
<rect x="351.1" y="82.9" width="0.9" height="0.9" fill="#2a9aa0"/>
<rect x="350.1" y="94.5" width="0.9" height="0.9" fill="#2a64c0"/>
<rect x="351.9" y="98.6" width="0.9" height="0.9" fill="#2a64c0"/>
<rect x="343.0" y="90.0" width="0.9" height="0.9" fill="#4070c8"/>
<rect x="345.6" y="101.6" width="0.9" height="0.9" fill="#2a9ab0"/>
<rect x="353.9" y="91.2" width="0.9" height="0.9" fill="#1a3a8a"/>
<rect x="346.9" y="94.4" width="0.9" height="0.9" fill="#4070c8"/>
<rect x="355.1" y="98.5" width="0.9" height="0.9" fill="#4070c8"/>
<rect x="359.5" y="94.6" width="0.9" height="0.9" fill="#2a9ab0"/>
<rect x="348.4" y="89.5" width="0.9" height="0.9" fill="#4070c8"/>
<rect x="355.2" y="93.9" width="0.9" height="0.9" fill="#2a64c0"/>
<rect x="352.5" y="102.8" width="0.9" height="0.9" fill="#1f50b0"/>
<rect x="350.3" y="97.3" width="0.9" height="0.9" fill="#1f50b0"/>
<rect x="363.2" y="96.0" width="0.9" height="0.9" fill="#1a3a8a"/>
<rect x="350.9" y="97.6" width="0.9" height="0.9" fill="#2a64c0"/>
<rect x="351.5" y="86.1" width="0.9" height="0.9" fill="#2a9ab0"/>
<rect x="342.8" y="83.5" width="0.9" height="0.9" fill="#2a64c0"/>
<rect x="354.4" y="91.1" width="0.9" height="0.9" fill="#1a3a8a"/>
<rect x="368.3" y="89.8" width="0.9" height="0.9" fill="#4070c8"/>
<rect x="356.5" y="81.5" width="0.9" height="0.9" fill="#2a9ab0"/>
<rect x="338.3" y="94.0" width="0.9" height="0.9" fill="#3a8ad0"/>
<rect x="367.8" y="94.2" width="0.9" height="0.9" fill="#2a9aa0"/>
<rect x="357.9" y="84.8" width="0.9" height="0.9" fill="#1f50b0"/>
<rect x="354.1" y="104.6" width="0.9" height="0.9" fill="#4070c8"/>
<rect x="345.8" y="101.0" width="0.9" height="0.9" fill="#2a64c0"/>
<rect x="346.6" y="93.1" width="0.9" height="0.9" fill="#3a8ad0"/>
<rect x="353.0" y="95.5" width="0.9" height="0.9" fill="#2a64c0"/>
<rect x="345.0" y="94.3" width="0.9" height="0.9" fill="#3a8ad0"/>
<rect x="366.2" y="92.1" width="0.9" height="0.9" fill="#2a64c0"/>
<rect x="352.7" y="95.8" width="0.9" height="0.9" fill="#2a64c0"/>
<rect x="351.7" y="86.9" width="0.8" height="0.8" fill="#4070c8"/>
<rect x="369.0" y="79.3" width="0.8" height="0.8" fill="#4070c8"/>
<rect x="361.0" y="67.3" width="0.8" height="0.8" fill="#2a9aa0"/>
<rect x="357.5" y="72.2" width="0.8" height="0.8" fill="#8aa0c8"/>
<rect x="375.8" y="86.1" width="0.8" height="0.8" fill="#2a9aa0"/>
<rect x="366.6" y="81.7" width="0.8" height="0.8" fill="#2a9aa0"/>
<rect x="367.2" y="70.2" width="0.8" height="0.8" fill="#3a8ad0"/>
<rect x="369.2" y="80.9" width="0.8" height="0.8" fill="#2a9aa0"/>
<rect x="373.4" y="68.5" width="0.8" height="0.8" fill="#2a9aa0"/>
<rect x="371.7" y="77.9" width="0.8" height="0.8" fill="#3a8ad0"/>
<rect x="363.2" y="75.2" width="0.8" height="0.8" fill="#8aa0c8"/>
<rect x="372.9" y="80.8" width="0.8" height="0.8" fill="#2a64c0"/>
<rect x="372.9" y="80.9" width="0.8" height="0.8" fill="#8aa0c8"/>
<rect x="368.3" y="84.2" width="0.8" height="0.8" fill="#2a9aa0"/>
<rect x="372.3" y="77.2" width="0.8" height="0.8" fill="#2a64c0"/>
<rect x="375.2" y="78.9" width="0.8" height="0.8" fill="#8aa0c8"/>
<rect x="355.5" y="66.3" width="0.8" height="0.8" fill="#2a9aa0"/>
<rect x="363.8" y="75.1" width="0.8" height="0.8" fill="#1f50b0"/>
<rect x="366.8" y="89.3" width="0.8" height="0.8" fill="#2a64c0"/>
<rect x="373.9" y="82.1" width="0.8" height="0.8" fill="#1f50b0"/>
<rect x="366.5" y="77.3" width="0.8" height="0.8" fill="#2a9aa0"/>
<rect x="370.1" y="79.7" width="0.8" height="0.8" fill="#2a9aa0"/>
<rect x="377.0" y="78.6" width="0.8" height="0.8" fill="#3a8ad0"/>
<rect x="371.9" y="61.9" width="0.8" height="0.8" fill="#4070c8"/>
<rect x="365.8" y="70.9" width="0.8" height="0.8" fill="#2a9aa0"/>
<rect x="368.8" y="76.5" width="0.8" height="0.8" fill="#4070c8"/>
<rect x="365.4" y="74.6" width="0.8" height="0.8" fill="#2a64c0"/>
<rect x="370.0" y="64.2" width="0.8" height="0.8" fill="#3a8ad0"/>
<rect x="365.8" y="72.8" width="0.8" height="0.8" fill="#3a8ad0"/>
<rect x="363.7" y="79.3" width="0.8" height="0.8" fill="#2a9aa0"/>
<rect x="364.4" y="68.3" width="0.8" height="0.8" fill="#2a64c0"/>
<rect x="364.5" y="85.1" width="0.8" height="0.8" fill="#2a9aa0"/>
<rect x="366.5" y="76.3" width="0.8" height="0.8" fill="#8aa0c8"/>
<rect x="373.2" y="75.3" width="0.8" height="0.8" fill="#3a8ad0"/>
<rect x="362.8" y="80.7" width="0.8" height="0.8" fill="#2a64c0"/>
<rect x="364.3" y="77.4" width="0.8" height="0.8" fill="#2a64c0"/>
<rect x="370.1" y="68.1" width="0.8" height="0.8" fill="#2a9aa0"/>
<rect x="364.0" y="76.7" width="0.8" height="0.8" fill="#2a64c0"/>
<rect x="370.7" y="76.9" width="0.8" height="0.8" fill="#8aa0c8"/>
<rect x="369.7" y="73.6" width="0.8" height="0.8" fill="#1f50b0"/>
<rect x="376.3" y="69.7" width="0.8" height="0.8" fill="#3a8ad0"/>
<rect x="370.5" y="80.7" width="0.8" height="0.8" fill="#1f50b0"/>
<rect x="368.6" y="78.1" width="0.8" height="0.8" fill="#4070c8"/>
<rect x="356.7" y="76.4" width="0.8" height="0.8" fill="#8aa0c8"/>
<rect x="368.5" y="79.4" width="0.8" height="0.8" fill="#2a64c0"/>
<rect x="374.3" y="74.1" width="0.8" height="0.8" fill="#2a64c0"/>
<rect x="360.8" y="68.4" width="0.8" height="0.8" fill="#2a64c0"/>
<rect x="374.4" y="69.2" width="0.8" height="0.8" fill="#8aa0c8"/>
<rect x="374.2" y="68.3" width="0.8" height="0.8" fill="#8aa0c8"/>
<rect x="368.6" y="83.5" width="0.8" height="0.8" fill="#8aa0c8"/>
<rect x="369.8" y="84.0" width="0.8" height="0.8" fill="#1f50b0"/>
<rect x="368.7" y="83.4" width="0.8" height="0.8" fill="#1f50b0"/>
<rect x="370.6" y="81.8" width="0.8" height="0.8" fill="#3a8ad0"/>
<rect x="367.7" y="88.4" width="0.8" height="0.8" fill="#3a8ad0"/>
<rect x="375.0" y="78.1" width="0.8" height="0.8" fill="#8aa0c8"/>
<g filter="url(#fb)">
<path d="M362.72,93.10 L362.66,94.26 L362.30,95.37 L361.63,96.37 L360.72,97.19 L359.74,97.86 L358.85,98.51 L358.12,99.30 L357.44,100.29 L356.62,101.35 L355.53,102.21 L354.20,102.62 L352.80,102.49 L351.50,101.94 L350.37,101.22 L349.36,100.51 L348.42,99.87 L347.53,99.24 L346.72,98.53 L346.02,97.75 L345.41,96.91 L344.80,96.06 L344.17,95.17 L343.59,94.18 L343.19,93.10 L343.06,91.95 L343.20,90.80 L343.54,89.67 L344.03,88.57 L344.69,87.54 L345.59,86.66 L346.74,86.04 L348.04,85.73 L349.33,85.62 L350.53,85.53 L351.65,85.30 L352.80,84.96 L354.04,84.69 L355.31,84.72 L356.49,85.15 L357.45,85.90 L358.24,86.77 L358.95,87.60 L359.73,88.35 L360.57,89.09 L361.39,89.92 L362.07,90.88 L362.52,91.96 Z" fill="#2350a8"/>
<path d="M361.93,93.10 L361.87,94.17 L361.54,95.19 L360.92,96.11 L360.09,96.86 L359.18,97.48 L358.37,98.08 L357.70,98.80 L357.07,99.71 L356.32,100.69 L355.31,101.48 L354.09,101.86 L352.80,101.74 L351.60,101.23 L350.56,100.57 L349.64,99.92 L348.77,99.33 L347.95,98.75 L347.21,98.10 L346.57,97.38 L346.00,96.61 L345.44,95.83 L344.86,95.00 L344.33,94.10 L343.96,93.10 L343.84,92.05 L343.97,90.99 L344.28,89.95 L344.73,88.94 L345.34,87.98 L346.17,87.17 L347.22,86.61 L348.42,86.32 L349.61,86.22 L350.71,86.13 L351.74,85.93 L352.80,85.61 L353.94,85.37 L355.11,85.39 L356.19,85.78 L357.08,86.47 L357.80,87.28 L358.46,88.04 L359.17,88.73 L359.95,89.41 L360.71,90.17 L361.33,91.06 L361.75,92.05 Z" fill="#178c9c"/>
<path d="M361.04,93.10 L360.98,94.06 L360.68,94.99 L360.13,95.81 L359.37,96.49 L358.56,97.05 L357.82,97.59 L357.22,98.24 L356.65,99.06 L355.97,99.95 L355.07,100.66 L353.96,101.00 L352.80,100.89 L351.72,100.44 L350.78,99.84 L349.95,99.25 L349.17,98.72 L348.42,98.20 L347.75,97.61 L347.18,96.96 L346.66,96.27 L346.16,95.56 L345.64,94.82 L345.16,94.00 L344.83,93.10 L344.72,92.15 L344.83,91.19 L345.11,90.25 L345.52,89.34 L346.07,88.48 L346.82,87.75 L347.77,87.24 L348.85,86.98 L349.92,86.89 L350.92,86.82 L351.85,86.63 L352.80,86.35 L353.83,86.12 L354.89,86.14 L355.86,86.50 L356.66,87.12 L357.31,87.85 L357.91,88.54 L358.55,89.16 L359.25,89.77 L359.93,90.46 L360.50,91.26 L360.87,92.15 Z" fill="#35ad3c"/>
<path d="M359.85,93.10 L359.80,93.92 L359.54,94.71 L359.07,95.42 L358.42,96.00 L357.73,96.48 L357.10,96.94 L356.58,97.50 L356.10,98.20 L355.51,98.96 L354.74,99.57 L353.80,99.86 L352.80,99.76 L351.88,99.37 L351.07,98.86 L350.36,98.36 L349.69,97.91 L349.06,97.46 L348.48,96.96 L347.99,96.40 L347.55,95.81 L347.12,95.20 L346.67,94.57 L346.26,93.87 L345.98,93.10 L345.89,92.29 L345.99,91.47 L346.22,90.67 L346.57,89.89 L347.04,89.15 L347.68,88.53 L348.50,88.09 L349.42,87.87 L350.34,87.79 L351.19,87.72 L351.98,87.56 L352.80,87.32 L353.68,87.13 L354.58,87.15 L355.42,87.45 L356.10,87.99 L356.66,88.61 L357.17,89.20 L357.72,89.73 L358.32,90.25 L358.90,90.84 L359.38,91.52 L359.70,92.29 Z" fill="#d6d126"/>
<path d="M358.66,93.10 L358.62,93.78 L358.40,94.44 L358.01,95.03 L357.47,95.51 L356.89,95.91 L356.37,96.29 L355.94,96.76 L355.54,97.34 L355.06,97.97 L354.41,98.48 L353.63,98.72 L352.80,98.64 L352.03,98.31 L351.36,97.89 L350.77,97.47 L350.22,97.10 L349.69,96.72 L349.21,96.31 L348.80,95.84 L348.44,95.35 L348.08,94.85 L347.71,94.32 L347.37,93.74 L347.13,93.10 L347.06,92.42 L347.14,91.74 L347.34,91.08 L347.62,90.43 L348.01,89.82 L348.55,89.30 L349.22,88.94 L349.99,88.75 L350.75,88.69 L351.46,88.63 L352.12,88.50 L352.80,88.30 L353.53,88.14 L354.28,88.16 L354.97,88.41 L355.55,88.85 L356.01,89.36 L356.43,89.86 L356.89,90.30 L357.39,90.73 L357.87,91.22 L358.27,91.79 L358.54,92.43 Z" fill="#f28a1c"/>
<path d="M357.27,93.10 L357.24,93.62 L357.07,94.12 L356.77,94.57 L356.36,94.94 L355.92,95.24 L355.52,95.53 L355.19,95.89 L354.89,96.33 L354.52,96.81 L354.03,97.20 L353.43,97.38 L352.80,97.32 L352.21,97.08 L351.70,96.75 L351.25,96.44 L350.83,96.15 L350.43,95.86 L350.06,95.55 L349.75,95.19 L349.47,94.82 L349.20,94.43 L348.92,94.03 L348.66,93.59 L348.48,93.10 L348.42,92.58 L348.48,92.07 L348.63,91.56 L348.85,91.06 L349.15,90.60 L349.56,90.20 L350.07,89.92 L350.66,89.78 L351.24,89.73 L351.78,89.69 L352.28,89.59 L352.80,89.44 L353.36,89.32 L353.93,89.33 L354.46,89.52 L354.89,89.86 L355.25,90.25 L355.57,90.63 L355.92,90.96 L356.30,91.30 L356.67,91.67 L356.97,92.10 L357.18,92.59 Z" fill="#ee3f15"/>
</g>
<line x1="339.50" y1="41.50" x2="339.50" y2="109.50" stroke="#959ab5" stroke-width="1.1"/>
<line x1="339.50" y1="109.50" x2="403.50" y2="109.50" stroke="#6a6f8a" stroke-width="1.0"/>
<line x1="362.50" y1="42.00" x2="362.50" y2="109.50" stroke="#9c9ca4" stroke-width="0.9"/>
<line x1="339.50" y1="82.50" x2="403.50" y2="82.50" stroke="#8a90a8" stroke-width="0.9"/>
<text x="336.20" y="51.30" font-size="5.9" text-anchor="end" fill="#333" stroke="#333" stroke-width="0.18">10<tspan font-size="3.89" dy="-2.48">5</tspan></text>
<text x="336.20" y="66.00" font-size="5.9" text-anchor="end" fill="#333" stroke="#333" stroke-width="0.18">10<tspan font-size="3.89" dy="-2.48">4</tspan></text>
<text x="336.20" y="81.30" font-size="5.9" text-anchor="end" fill="#333" stroke="#333" stroke-width="0.18">10<tspan font-size="3.89" dy="-2.48">3</tspan></text>
<text x="336.20" y="97.30" font-size="5.9" text-anchor="end" fill="#333" stroke="#333" stroke-width="0.18">10<tspan font-size="3.89" dy="-2.48">2</tspan></text>
<text x="336.20" y="104.10" font-size="5.9" text-anchor="end" fill="#333" stroke="#333" stroke-width="0.18">−10<tspan font-size="3.89" dy="-2.48">1</tspan></text>
<text x="336.20" y="110.10" font-size="5.9" text-anchor="end" fill="#333" stroke="#333" stroke-width="0.18">−10<tspan font-size="3.89" dy="-2.48">2</tspan></text>
<text x="342.50" y="117.90" font-size="6.2" text-anchor="end" fill="#333" stroke="#333" stroke-width="0.18">−10<tspan font-size="4.09" dy="-2.60">1</tspan></text>
<text x="356.20" y="117.90" font-size="6.2" text-anchor="end" fill="#333" stroke="#333" stroke-width="0.18">10<tspan font-size="4.09" dy="-2.60">2</tspan></text>
<text x="372.00" y="117.90" font-size="6.2" text-anchor="end" fill="#333" stroke="#333" stroke-width="0.18">10<tspan font-size="4.09" dy="-2.60">3</tspan></text>
<text x="389.50" y="117.90" font-size="6.2" text-anchor="end" fill="#333" stroke="#333" stroke-width="0.18">10<tspan font-size="4.09" dy="-2.60">4</tspan></text>
<text x="407.30" y="117.90" font-size="6.2" text-anchor="end" fill="#333" stroke="#333" stroke-width="0.18">10<tspan font-size="4.09" dy="-2.60">5</tspan></text>
<text x="339.80" y="47.00" font-size="5.8" text-anchor="start" fill="#222" textLength="18.29" lengthAdjust="spacingAndGlyphs" stroke="#222" stroke-width="0.18">7.22%</text>
<text x="403.30" y="47.00" font-size="5.8" text-anchor="end" fill="#222" textLength="18.29" lengthAdjust="spacingAndGlyphs" stroke="#222" stroke-width="0.18">7.52%</text>
<text x="339.80" y="108.90" font-size="5.8" text-anchor="start" fill="#222" textLength="21.87" lengthAdjust="spacingAndGlyphs" stroke="#222" stroke-width="0.18">77.86%</text>
<text x="403.30" y="108.90" font-size="5.8" text-anchor="end" fill="#222" textLength="18.29" lengthAdjust="spacingAndGlyphs" stroke="#222" stroke-width="0.18">7.40%</text>
<text x="316.30" y="75.30" font-size="6.8" text-anchor="middle" fill="#222" font-weight="bold" textLength="17.50" lengthAdjust="spacingAndGlyphs" transform="rotate(-90 316.30 75.30)" stroke="#222" stroke-width="0.18">APC-A</text>
<text x="370.70" y="129.70" font-size="8.4" text-anchor="middle" fill="#222" textLength="39.20" lengthAdjust="spacingAndGlyphs" stroke="#222" stroke-width="0.4">PerCP-Cy5-5-A</text>
<rect x="260.6" y="163.0" width="0.8" height="0.8" fill="#2a9aa0"/>
<rect x="272.5" y="180.8" width="0.8" height="0.8" fill="#1f50b0"/>
<rect x="272.6" y="162.2" width="0.8" height="0.8" fill="#8aa0c8"/>
<rect x="257.4" y="178.6" width="0.8" height="0.8" fill="#4070c8"/>
<rect x="260.4" y="178.4" width="0.8" height="0.8" fill="#1f50b0"/>
<rect x="264.1" y="174.2" width="0.8" height="0.8" fill="#1f50b0"/>
<rect x="273.3" y="172.7" width="0.8" height="0.8" fill="#4070c8"/>
<rect x="266.5" y="159.6" width="0.8" height="0.8" fill="#4070c8"/>
<rect x="272.1" y="161.0" width="0.8" height="0.8" fill="#4070c8"/>
<rect x="268.4" y="176.1" width="0.8" height="0.8" fill="#4070c8"/>
<rect x="257.1" y="184.3" width="0.8" height="0.8" fill="#1f50b0"/>
<rect x="263.5" y="173.4" width="0.8" height="0.8" fill="#8aa0c8"/>
<rect x="276.3" y="186.7" width="0.8" height="0.8" fill="#2a9aa0"/>
<rect x="266.9" y="164.1" width="0.8" height="0.8" fill="#2a64c0"/>
<rect x="265.7" y="156.5" width="0.8" height="0.8" fill="#8aa0c8"/>
<rect x="269.1" y="172.2" width="0.8" height="0.8" fill="#1f50b0"/>
<rect x="274.3" y="178.0" width="0.8" height="0.8" fill="#8aa0c8"/>
<rect x="267.3" y="168.7" width="0.8" height="0.8" fill="#4070c8"/>
<rect x="262.5" y="187.7" width="0.8" height="0.8" fill="#1f50b0"/>
<rect x="271.8" y="185.6" width="0.8" height="0.8" fill="#3a8ad0"/>
<rect x="271.5" y="176.5" width="0.8" height="0.8" fill="#1f50b0"/>
<rect x="265.4" y="180.6" width="0.8" height="0.8" fill="#1f50b0"/>
<rect x="263.5" y="188.0" width="0.8" height="0.8" fill="#3a8ad0"/>
<rect x="265.0" y="194.1" width="0.8" height="0.8" fill="#4070c8"/>
<rect x="266.9" y="179.5" width="0.8" height="0.8" fill="#1f50b0"/>
<rect x="266.0" y="181.2" width="0.8" height="0.8" fill="#3a8ad0"/>
<rect x="267.2" y="177.8" width="0.8" height="0.8" fill="#2a9aa0"/>
<rect x="259.1" y="158.1" width="0.8" height="0.8" fill="#3a8ad0"/>
<rect x="266.9" y="167.4" width="0.8" height="0.8" fill="#1f50b0"/>
<rect x="255.7" y="171.3" width="0.8" height="0.8" fill="#2a9aa0"/>
<rect x="273.0" y="171.6" width="0.8" height="0.8" fill="#1f50b0"/>
<rect x="252.8" y="165.5" width="0.8" height="0.8" fill="#2a64c0"/>
<rect x="265.4" y="183.4" width="0.8" height="0.8" fill="#1f50b0"/>
<rect x="255.6" y="182.3" width="0.8" height="0.8" fill="#2a9aa0"/>
<rect x="260.7" y="178.9" width="0.8" height="0.8" fill="#3a8ad0"/>
<rect x="257.9" y="184.0" width="0.8" height="0.8" fill="#4070c8"/>
<rect x="266.7" y="184.5" width="0.8" height="0.8" fill="#2a64c0"/>
<rect x="263.1" y="182.7" width="0.8" height="0.8" fill="#2a9aa0"/>
<rect x="252.6" y="155.8" width="0.8" height="0.8" fill="#1f50b0"/>
<rect x="278.9" y="166.1" width="0.8" height="0.8" fill="#8aa0c8"/>
<rect x="267.3" y="173.5" width="0.8" height="0.8" fill="#3a8ad0"/>
<rect x="263.0" y="184.3" width="0.8" height="0.8" fill="#4070c8"/>
<rect x="250.7" y="172.1" width="0.8" height="0.8" fill="#3a8ad0"/>
<rect x="255.9" y="174.3" width="0.8" height="0.8" fill="#2a64c0"/>
<rect x="266.0" y="173.6" width="0.8" height="0.8" fill="#2a9aa0"/>
<rect x="262.7" y="182.7" width="0.8" height="0.8" fill="#1f50b0"/>
<rect x="267.0" y="184.0" width="0.8" height="0.8" fill="#1f50b0"/>
<rect x="270.0" y="179.2" width="0.8" height="0.8" fill="#1f50b0"/>
<rect x="261.8" y="174.2" width="0.8" height="0.8" fill="#1f50b0"/>
<rect x="265.7" y="178.0" width="0.8" height="0.8" fill="#2a64c0"/>
<rect x="269.1" y="175.2" width="0.8" height="0.8" fill="#8aa0c8"/>
<rect x="266.9" y="165.6" width="0.8" height="0.8" fill="#2a9aa0"/>
<rect x="267.8" y="172.9" width="0.8" height="0.8" fill="#1f50b0"/>
<rect x="259.5" y="170.7" width="0.8" height="0.8" fill="#8aa0c8"/>
<rect x="257.1" y="168.4" width="0.8" height="0.8" fill="#1f50b0"/>
<rect x="265.0" y="167.5" width="0.8" height="0.8" fill="#2a64c0"/>
<rect x="273.8" y="176.2" width="0.8" height="0.8" fill="#4070c8"/>
<rect x="267.1" y="177.8" width="0.8" height="0.8" fill="#1f50b0"/>
<rect x="273.1" y="180.2" width="0.8" height="0.8" fill="#8aa0c8"/>
<rect x="269.1" y="171.9" width="0.8" height="0.8" fill="#3a8ad0"/>
<rect x="255.5" y="172.2" width="0.8" height="0.8" fill="#8aa0c8"/>
<rect x="257.4" y="162.1" width="0.8" height="0.8" fill="#3a8ad0"/>
<rect x="263.0" y="173.3" width="0.8" height="0.8" fill="#8aa0c8"/>
<rect x="279.5" y="178.5" width="0.8" height="0.8" fill="#1f50b0"/>
<rect x="256.9" y="174.9" width="0.8" height="0.8" fill="#4070c8"/>
<rect x="272.0" y="162.5" width="0.8" height="0.8" fill="#4070c8"/>
<rect x="274.4" y="179.2" width="0.8" height="0.8" fill="#3a8ad0"/>
<rect x="266.0" y="177.2" width="0.8" height="0.8" fill="#3a8ad0"/>
<rect x="263.3" y="170.3" width="0.8" height="0.8" fill="#8aa0c8"/>
<rect x="280.4" y="164.8" width="0.8" height="0.8" fill="#2a9aa0"/>
<rect x="258.8" y="177.4" width="0.8" height="0.8" fill="#1f50b0"/>
<rect x="257.2" y="175.0" width="0.8" height="0.8" fill="#1f50b0"/>
<rect x="262.4" y="179.9" width="0.8" height="0.8" fill="#3a8ad0"/>
<rect x="263.1" y="182.9" width="0.8" height="0.8" fill="#3a8ad0"/>
<rect x="259.3" y="183.4" width="0.8" height="0.8" fill="#3a8ad0"/>
<rect x="264.9" y="178.2" width="0.8" height="0.8" fill="#2a9aa0"/>
<rect x="260.7" y="184.2" width="0.8" height="0.8" fill="#1f50b0"/>
<rect x="260.0" y="189.2" width="0.8" height="0.8" fill="#1f50b0"/>
<rect x="252.9" y="182.0" width="0.8" height="0.8" fill="#2a64c0"/>
<rect x="261.8" y="177.2" width="0.8" height="0.8" fill="#3a8ad0"/>
<rect x="256.8" y="179.0" width="0.8" height="0.8" fill="#3a8ad0"/>
<rect x="255.9" y="183.8" width="0.8" height="0.8" fill="#1f50b0"/>
<rect x="261.2" y="179.3" width="0.8" height="0.8" fill="#2a64c0"/>
<rect x="263.2" y="184.1" width="0.8" height="0.8" fill="#3a8ad0"/>
<rect x="258.4" y="182.3" width="0.8" height="0.8" fill="#2a64c0"/>
<rect x="261.4" y="180.9" width="0.8" height="0.8" fill="#2a64c0"/>
<rect x="257.6" y="174.3" width="0.8" height="0.8" fill="#2a64c0"/>
<rect x="263.2" y="175.2" width="0.8" height="0.8" fill="#3a8ad0"/>
<rect x="262.2" y="173.8" width="0.8" height="0.8" fill="#2a64c0"/>
<rect x="263.8" y="175.9" width="0.8" height="0.8" fill="#4070c8"/>
<rect x="261.4" y="182.2" width="0.8" height="0.8" fill="#2a64c0"/>
<rect x="267.9" y="182.6" width="0.8" height="0.8" fill="#2a64c0"/>
<rect x="261.7" y="175.5" width="0.8" height="0.8" fill="#2a9aa0"/>
<rect x="257.7" y="180.8" width="0.8" height="0.8" fill="#3a8ad0"/>
<rect x="258.6" y="184.0" width="0.8" height="0.8" fill="#2a9aa0"/>
<rect x="262.2" y="180.9" width="0.8" height="0.8" fill="#2a9aa0"/>
<rect x="265.1" y="182.5" width="0.8" height="0.8" fill="#2a9aa0"/>
<rect x="260.1" y="175.1" width="0.8" height="0.8" fill="#4070c8"/>
<rect x="262.4" y="176.0" width="0.8" height="0.8" fill="#2a64c0"/>
<rect x="259.7" y="179.5" width="0.8" height="0.8" fill="#1f50b0"/>
<rect x="260.0" y="176.8" width="0.8" height="0.8" fill="#2a64c0"/>
<rect x="257.1" y="179.8" width="0.8" height="0.8" fill="#2a64c0"/>
<rect x="256.9" y="179.0" width="0.8" height="0.8" fill="#4070c8"/>
<rect x="261.9" y="180.5" width="0.8" height="0.8" fill="#2a64c0"/>
<rect x="263.6" y="180.6" width="0.8" height="0.8" fill="#4070c8"/>
<rect x="257.3" y="173.5" width="0.8" height="0.8" fill="#4070c8"/>
<rect x="252.2" y="175.0" width="0.8" height="0.8" fill="#1f50b0"/>
<rect x="258.9" y="190.1" width="0.8" height="0.8" fill="#2a9aa0"/>
<rect x="262.8" y="171.8" width="0.8" height="0.8" fill="#3a8ad0"/>
<rect x="257.8" y="180.5" width="0.8" height="0.8" fill="#2a64c0"/>
<g filter="url(#fb)" opacity="0.75">
<path d="M261.73,177.68 L261.97,177.92 L262.15,178.24 L262.26,178.65 L262.29,179.13 L262.25,179.68 L262.14,180.29 L261.96,180.94 L261.71,181.63 L261.39,182.34 L261.02,183.06 L260.60,183.78 L260.13,184.49 L259.62,185.17 L259.09,185.82 L258.54,186.42 L257.98,186.95 L257.42,187.42 L256.87,187.82 L256.34,188.13 L255.84,188.36 L255.37,188.49 L254.95,188.53 L254.58,188.47 L254.27,188.32 L254.03,188.08 L253.85,187.76 L253.74,187.35 L253.71,186.87 L253.75,186.32 L253.86,185.71 L254.04,185.06 L254.29,184.37 L254.61,183.66 L254.98,182.94 L255.40,182.22 L255.87,181.51 L256.38,180.83 L256.91,180.18 L257.46,179.58 L258.02,179.05 L258.58,178.58 L259.13,178.18 L259.66,177.87 L260.16,177.64 L260.63,177.51 L261.05,177.47 L261.42,177.53 Z" fill="#2a7ab8"/>
</g>
<rect x="232.1" y="191.5" width="0.8" height="0.8" fill="#1f50b0"/>
<rect x="252.4" y="183.0" width="0.8" height="0.8" fill="#2a9aa0"/>
<rect x="261.9" y="197.6" width="0.8" height="0.8" fill="#2a64c0"/>
<rect x="242.9" y="194.2" width="0.8" height="0.8" fill="#2a9aa0"/>
<rect x="251.8" y="194.6" width="0.8" height="0.8" fill="#1f50b0"/>
<rect x="244.6" y="190.5" width="0.8" height="0.8" fill="#3a8ad0"/>
<rect x="253.4" y="189.5" width="0.8" height="0.8" fill="#1f50b0"/>
<rect x="250.8" y="181.3" width="0.8" height="0.8" fill="#2a64c0"/>
<rect x="247.4" y="194.5" width="0.8" height="0.8" fill="#3a8ad0"/>
<rect x="254.9" y="186.1" width="0.8" height="0.8" fill="#1f50b0"/>
<rect x="250.3" y="187.2" width="0.8" height="0.8" fill="#4070c8"/>
<rect x="248.8" y="186.6" width="0.8" height="0.8" fill="#3a8ad0"/>
<rect x="255.2" y="194.9" width="0.8" height="0.8" fill="#3a8ad0"/>
<rect x="245.8" y="190.3" width="0.8" height="0.8" fill="#1f50b0"/>
<rect x="252.5" y="193.1" width="0.8" height="0.8" fill="#3a8ad0"/>
<rect x="249.1" y="183.1" width="0.8" height="0.8" fill="#2a9aa0"/>
<rect x="253.3" y="194.7" width="0.8" height="0.8" fill="#3a8ad0"/>
<rect x="249.7" y="204.2" width="0.8" height="0.8" fill="#2a64c0"/>
<rect x="255.0" y="197.4" width="0.8" height="0.8" fill="#3a8ad0"/>
<rect x="237.6" y="201.0" width="0.8" height="0.8" fill="#2a9aa0"/>
<rect x="249.8" y="184.7" width="0.8" height="0.8" fill="#3a8ad0"/>
<rect x="260.7" y="198.2" width="0.8" height="0.8" fill="#2a9aa0"/>
<rect x="252.1" y="195.8" width="0.8" height="0.8" fill="#2a64c0"/>
<rect x="262.2" y="191.4" width="0.8" height="0.8" fill="#4070c8"/>
<rect x="248.0" y="184.4" width="0.8" height="0.8" fill="#2a9aa0"/>
<rect x="247.3" y="191.2" width="0.8" height="0.8" fill="#1f50b0"/>
<rect x="250.5" y="189.9" width="0.8" height="0.8" fill="#3a8ad0"/>
<rect x="255.8" y="187.3" width="0.8" height="0.8" fill="#1f50b0"/>
<rect x="243.1" y="186.4" width="0.8" height="0.8" fill="#3a8ad0"/>
<rect x="246.2" y="183.5" width="0.8" height="0.8" fill="#1f50b0"/>
<rect x="255.9" y="183.9" width="0.8" height="0.8" fill="#2a64c0"/>
<rect x="245.5" y="191.9" width="0.8" height="0.8" fill="#2a64c0"/>
<rect x="254.0" y="188.0" width="0.8" height="0.8" fill="#4070c8"/>
<rect x="248.6" y="183.0" width="0.8" height="0.8" fill="#2a9aa0"/>
<rect x="254.5" y="185.4" width="0.8" height="0.8" fill="#2a64c0"/>
<rect x="246.1" y="186.6" width="0.8" height="0.8" fill="#3a8ad0"/>
<rect x="254.7" y="187.5" width="0.8" height="0.8" fill="#2a64c0"/>
<rect x="245.2" y="194.6" width="0.8" height="0.8" fill="#2a64c0"/>
<rect x="257.8" y="192.1" width="0.8" height="0.8" fill="#3a8ad0"/>
<rect x="247.4" y="177.3" width="0.8" height="0.8" fill="#3a8ad0"/>
<rect x="247.8" y="190.2" width="0.8" height="0.8" fill="#1f50b0"/>
<rect x="246.6" y="191.5" width="0.8" height="0.8" fill="#4070c8"/>
<rect x="242.0" y="189.9" width="0.8" height="0.8" fill="#2a9aa0"/>
<rect x="244.4" y="189.7" width="0.8" height="0.8" fill="#4070c8"/>
<rect x="252.8" y="198.6" width="0.8" height="0.8" fill="#4070c8"/>
<rect x="236.6" y="189.4" width="0.8" height="0.8" fill="#1f50b0"/>
<rect x="249.2" y="192.0" width="0.8" height="0.8" fill="#2a9aa0"/>
<rect x="248.9" y="191.8" width="0.8" height="0.8" fill="#2a64c0"/>
<rect x="245.0" y="193.3" width="0.8" height="0.8" fill="#2a9aa0"/>
<rect x="248.0" y="189.2" width="0.8" height="0.8" fill="#2a9aa0"/>
<rect x="249.7" y="177.5" width="0.8" height="0.8" fill="#1f50b0"/>
<rect x="269.5" y="187.4" width="0.8" height="0.8" fill="#4070c8"/>
<rect x="247.0" y="191.3" width="0.8" height="0.8" fill="#2a64c0"/>
<rect x="253.6" y="183.2" width="0.8" height="0.8" fill="#4070c8"/>
<rect x="244.5" y="183.7" width="0.8" height="0.8" fill="#3a8ad0"/>
<rect x="245.3" y="196.8" width="0.8" height="0.8" fill="#4070c8"/>
<rect x="245.6" y="191.4" width="0.8" height="0.8" fill="#1f50b0"/>
<rect x="244.3" y="182.8" width="0.8" height="0.8" fill="#4070c8"/>
<rect x="243.3" y="199.0" width="0.8" height="0.8" fill="#2a9aa0"/>
<rect x="247.9" y="182.5" width="0.8" height="0.8" fill="#4070c8"/>
<rect x="247.5" y="184.8" width="0.8" height="0.8" fill="#2a9aa0"/>
<rect x="245.0" y="196.7" width="0.8" height="0.8" fill="#2a9aa0"/>
<rect x="244.2" y="191.2" width="0.8" height="0.8" fill="#2a64c0"/>
<rect x="247.4" y="186.1" width="0.8" height="0.8" fill="#2a9aa0"/>
<rect x="251.8" y="189.0" width="0.8" height="0.8" fill="#1f50b0"/>
<rect x="259.2" y="185.1" width="0.8" height="0.8" fill="#3a8ad0"/>
<rect x="245.1" y="189.5" width="0.8" height="0.8" fill="#1f50b0"/>
<rect x="251.4" y="190.6" width="0.8" height="0.8" fill="#2a64c0"/>
<rect x="248.0" y="187.0" width="0.8" height="0.8" fill="#2a64c0"/>
<rect x="240.1" y="185.4" width="0.8" height="0.8" fill="#3a8ad0"/>
<rect x="251.4" y="185.5" width="0.8" height="0.8" fill="#3a8ad0"/>
<rect x="252.1" y="195.9" width="0.8" height="0.8" fill="#1f50b0"/>
<rect x="256.7" y="200.6" width="0.8" height="0.8" fill="#1f50b0"/>
<rect x="253.1" y="190.2" width="0.8" height="0.8" fill="#1f50b0"/>
<rect x="253.2" y="180.3" width="0.8" height="0.8" fill="#3a8ad0"/>
<rect x="246.3" y="190.6" width="0.8" height="0.8" fill="#2a64c0"/>
<rect x="250.2" y="184.6" width="0.8" height="0.8" fill="#2a64c0"/>
<rect x="246.1" y="189.0" width="0.8" height="0.8" fill="#3a8ad0"/>
<rect x="253.7" y="185.0" width="0.8" height="0.8" fill="#1f50b0"/>
<rect x="256.8" y="192.7" width="0.8" height="0.8" fill="#3a8ad0"/>
<rect x="249.1" y="186.6" width="0.8" height="0.8" fill="#3a8ad0"/>
<rect x="238.9" y="187.8" width="0.8" height="0.8" fill="#2a64c0"/>
<rect x="253.3" y="194.6" width="0.8" height="0.8" fill="#1f50b0"/>
<rect x="245.5" y="190.6" width="0.8" height="0.8" fill="#4070c8"/>
<rect x="246.1" y="194.6" width="0.8" height="0.8" fill="#2a64c0"/>
<rect x="252.9" y="195.2" width="0.8" height="0.8" fill="#2a64c0"/>
<rect x="252.3" y="190.7" width="0.8" height="0.8" fill="#2a9aa0"/>
<rect x="251.5" y="188.2" width="0.8" height="0.8" fill="#4070c8"/>
<rect x="237.8" y="191.6" width="0.8" height="0.8" fill="#2a64c0"/>
<rect x="251.9" y="196.1" width="0.8" height="0.8" fill="#3a8ad0"/>
<rect x="244.2" y="199.8" width="0.8" height="0.8" fill="#2a9aa0"/>
<rect x="244.8" y="198.5" width="0.8" height="0.8" fill="#1f50b0"/>
<rect x="251.0" y="186.7" width="0.8" height="0.8" fill="#4070c8"/>
<rect x="248.0" y="194.0" width="0.8" height="0.8" fill="#2a64c0"/>
<rect x="252.8" y="186.4" width="0.8" height="0.8" fill="#4070c8"/>
<rect x="244.7" y="194.2" width="0.8" height="0.8" fill="#2a9aa0"/>
<rect x="254.4" y="186.9" width="0.8" height="0.8" fill="#3a8ad0"/>
<rect x="244.5" y="182.5" width="0.8" height="0.8" fill="#2a9aa0"/>
<rect x="253.9" y="198.6" width="0.8" height="0.8" fill="#3a8ad0"/>
<rect x="243.2" y="186.5" width="0.8" height="0.8" fill="#2a64c0"/>
<rect x="244.4" y="194.6" width="0.8" height="0.8" fill="#4070c8"/>
<rect x="248.7" y="190.0" width="0.8" height="0.8" fill="#2a9aa0"/>
<rect x="251.9" y="191.6" width="0.8" height="0.8" fill="#4070c8"/>
<rect x="243.7" y="185.4" width="0.8" height="0.8" fill="#1f50b0"/>
<rect x="257.5" y="186.4" width="0.8" height="0.8" fill="#1f50b0"/>
<rect x="255.9" y="197.1" width="0.8" height="0.8" fill="#1f50b0"/>
<rect x="252.3" y="188.9" width="0.8" height="0.8" fill="#2a64c0"/>
<rect x="247.2" y="185.2" width="0.8" height="0.8" fill="#3a8ad0"/>
<rect x="253.6" y="192.6" width="0.8" height="0.8" fill="#2a64c0"/>
<rect x="248.1" y="191.7" width="0.8" height="0.8" fill="#2a64c0"/>
<g filter="url(#fb)">
<path d="M260.24,186.37 L260.10,187.56 L259.79,188.69 L259.60,189.72 L259.61,190.76 L259.64,191.86 L259.40,192.97 L258.75,193.95 L257.83,194.75 L256.90,195.49 L256.10,196.37 L255.31,197.47 L254.34,198.59 L253.07,199.36 L251.64,199.51 L250.27,199.06 L249.09,198.34 L248.05,197.69 L247.01,197.23 L245.95,196.84 L244.96,196.30 L244.18,195.53 L243.59,194.64 L243.03,193.75 L242.34,192.89 L241.57,191.96 L241.03,190.87 L241.00,189.68 L241.54,188.51 L242.40,187.50 L243.21,186.59 L243.78,185.63 L244.23,184.55 L244.85,183.47 L245.80,182.63 L247.02,182.16 L248.29,181.98 L249.49,181.80 L250.64,181.41 L251.88,180.89 L253.23,180.53 L254.57,180.61 L255.73,181.17 L256.66,181.99 L257.50,182.82 L258.37,183.57 L259.26,184.33 L259.96,185.25 Z" fill="#2350a8"/>
<path d="M259.51,186.64 L259.38,187.73 L259.10,188.77 L258.92,189.72 L258.93,190.67 L258.96,191.69 L258.73,192.71 L258.14,193.61 L257.29,194.35 L256.44,195.02 L255.70,195.83 L254.97,196.85 L254.08,197.88 L252.92,198.59 L251.60,198.72 L250.34,198.31 L249.25,197.65 L248.29,197.05 L247.34,196.63 L246.36,196.27 L245.45,195.77 L244.74,195.07 L244.19,194.24 L243.68,193.43 L243.04,192.63 L242.33,191.78 L241.83,190.78 L241.81,189.68 L242.31,188.61 L243.10,187.68 L243.84,186.84 L244.36,185.95 L244.78,184.96 L245.35,183.97 L246.22,183.19 L247.34,182.77 L248.51,182.60 L249.61,182.43 L250.68,182.08 L251.82,181.60 L253.06,181.27 L254.30,181.34 L255.36,181.85 L256.22,182.61 L256.98,183.37 L257.79,184.06 L258.61,184.76 L259.25,185.61 Z" fill="#178c9c"/>
<path d="M258.69,186.94 L258.57,187.93 L258.31,188.86 L258.15,189.72 L258.16,190.58 L258.19,191.49 L257.99,192.42 L257.45,193.23 L256.69,193.89 L255.92,194.50 L255.25,195.23 L254.59,196.15 L253.79,197.08 L252.74,197.72 L251.55,197.84 L250.41,197.47 L249.43,196.87 L248.57,196.33 L247.71,195.95 L246.83,195.63 L246.01,195.18 L245.36,194.54 L244.87,193.80 L244.40,193.06 L243.83,192.35 L243.19,191.58 L242.74,190.68 L242.72,189.68 L243.17,188.72 L243.88,187.87 L244.55,187.12 L245.02,186.32 L245.40,185.42 L245.91,184.53 L246.70,183.83 L247.71,183.45 L248.77,183.29 L249.76,183.14 L250.72,182.82 L251.75,182.39 L252.87,182.09 L253.98,182.16 L254.94,182.62 L255.72,183.30 L256.41,183.99 L257.14,184.61 L257.88,185.24 L258.45,186.01 Z" fill="#35ad3c"/>
<path d="M257.59,187.34 L257.49,188.18 L257.27,188.98 L257.13,189.71 L257.14,190.45 L257.16,191.23 L256.99,192.02 L256.53,192.72 L255.88,193.29 L255.22,193.81 L254.65,194.43 L254.09,195.22 L253.40,196.01 L252.50,196.56 L251.48,196.66 L250.51,196.35 L249.67,195.84 L248.93,195.37 L248.20,195.05 L247.44,194.77 L246.74,194.39 L246.19,193.84 L245.77,193.21 L245.37,192.58 L244.88,191.96 L244.34,191.31 L243.95,190.53 L243.93,189.68 L244.32,188.86 L244.92,188.14 L245.50,187.49 L245.90,186.81 L246.23,186.04 L246.66,185.27 L247.34,184.68 L248.20,184.35 L249.10,184.22 L249.95,184.09 L250.77,183.82 L251.65,183.45 L252.62,183.19 L253.57,183.25 L254.39,183.64 L255.05,184.23 L255.64,184.82 L256.26,185.35 L256.90,185.89 L257.39,186.54 Z" fill="#d6d126"/>
<path d="M256.49,187.74 L256.41,188.44 L256.23,189.10 L256.11,189.71 L256.12,190.32 L256.14,190.97 L255.99,191.63 L255.61,192.21 L255.07,192.68 L254.52,193.11 L254.05,193.63 L253.58,194.28 L253.01,194.94 L252.26,195.40 L251.42,195.49 L250.61,195.22 L249.91,194.80 L249.30,194.42 L248.69,194.15 L248.06,193.91 L247.48,193.59 L247.02,193.14 L246.67,192.61 L246.34,192.09 L245.93,191.58 L245.48,191.03 L245.16,190.39 L245.14,189.69 L245.46,189.00 L245.97,188.40 L246.44,187.86 L246.78,187.30 L247.05,186.66 L247.41,186.02 L247.97,185.53 L248.69,185.25 L249.44,185.14 L250.15,185.04 L250.83,184.81 L251.56,184.50 L252.36,184.29 L253.15,184.34 L253.83,184.66 L254.38,185.15 L254.87,185.64 L255.39,186.08 L255.92,186.53 L256.33,187.08 Z" fill="#f28a1c"/>
<path d="M255.21,188.20 L255.15,188.74 L255.01,189.24 L254.92,189.71 L254.93,190.18 L254.94,190.67 L254.83,191.17 L254.54,191.61 L254.13,191.97 L253.71,192.30 L253.35,192.70 L252.99,193.20 L252.56,193.70 L251.99,194.05 L251.34,194.11 L250.73,193.91 L250.19,193.59 L249.73,193.30 L249.26,193.09 L248.78,192.91 L248.34,192.67 L247.99,192.33 L247.72,191.92 L247.47,191.52 L247.16,191.14 L246.81,190.72 L246.57,190.23 L246.56,189.69 L246.80,189.17 L247.19,188.71 L247.55,188.30 L247.81,187.87 L248.01,187.38 L248.29,186.90 L248.72,186.52 L249.26,186.31 L249.84,186.23 L250.37,186.14 L250.89,185.97 L251.45,185.74 L252.06,185.58 L252.66,185.61 L253.18,185.86 L253.60,186.23 L253.98,186.61 L254.37,186.94 L254.77,187.28 L255.09,187.70 Z" fill="#ee3f15"/>
</g>
<line x1="237.50" y1="138.50" x2="237.50" y2="206.50" stroke="#959ab5" stroke-width="1.1"/>
<line x1="237.50" y1="206.50" x2="301.50" y2="206.50" stroke="#6a6f8a" stroke-width="1.0"/>
<line x1="261.50" y1="139.00" x2="261.50" y2="206.50" stroke="#9c9ca4" stroke-width="0.9"/>
<line x1="237.50" y1="179.50" x2="301.50" y2="179.50" stroke="#8a90a8" stroke-width="0.9"/>
<text x="234.20" y="148.30" font-size="5.9" text-anchor="end" fill="#333" stroke="#333" stroke-width="0.18">10<tspan font-size="3.89" dy="-2.48">5</tspan></text>
<text x="234.20" y="163.00" font-size="5.9" text-anchor="end" fill="#333" stroke="#333" stroke-width="0.18">10<tspan font-size="3.89" dy="-2.48">4</tspan></text>
<text x="234.20" y="178.30" font-size="5.9" text-anchor="end" fill="#333" stroke="#333" stroke-width="0.18">10<tspan font-size="3.89" dy="-2.48">3</tspan></text>
<text x="234.20" y="194.30" font-size="5.9" text-anchor="end" fill="#333" stroke="#333" stroke-width="0.18">10<tspan font-size="3.89" dy="-2.48">2</tspan></text>
<text x="234.20" y="201.10" font-size="5.9" text-anchor="end" fill="#333" stroke="#333" stroke-width="0.18">−10<tspan font-size="3.89" dy="-2.48">1</tspan></text>
<text x="234.20" y="207.10" font-size="5.9" text-anchor="end" fill="#333" stroke="#333" stroke-width="0.18">−10<tspan font-size="3.89" dy="-2.48">2</tspan></text>
<text x="240.50" y="214.90" font-size="6.2" text-anchor="end" fill="#333" stroke="#333" stroke-width="0.18">−10<tspan font-size="4.09" dy="-2.60">1</tspan></text>
<text x="254.20" y="214.90" font-size="6.2" text-anchor="end" fill="#333" stroke="#333" stroke-width="0.18">10<tspan font-size="4.09" dy="-2.60">2</tspan></text>
<text x="270.00" y="214.90" font-size="6.2" text-anchor="end" fill="#333" stroke="#333" stroke-width="0.18">10<tspan font-size="4.09" dy="-2.60">3</tspan></text>
<text x="287.50" y="214.90" font-size="6.2" text-anchor="end" fill="#333" stroke="#333" stroke-width="0.18">10<tspan font-size="4.09" dy="-2.60">4</tspan></text>
<text x="305.30" y="214.90" font-size="6.2" text-anchor="end" fill="#333" stroke="#333" stroke-width="0.18">10<tspan font-size="4.09" dy="-2.60">5</tspan></text>
<text x="237.80" y="144.00" font-size="5.8" text-anchor="start" fill="#222" textLength="21.87" lengthAdjust="spacingAndGlyphs" stroke="#222" stroke-width="0.18">10.06%</text>
<text x="301.30" y="144.00" font-size="5.8" text-anchor="end" fill="#222" textLength="18.29" lengthAdjust="spacingAndGlyphs" stroke="#222" stroke-width="0.18">9.82%</text>
<text x="237.80" y="205.90" font-size="5.8" text-anchor="start" fill="#222" textLength="21.87" lengthAdjust="spacingAndGlyphs" stroke="#222" stroke-width="0.18">71.97%</text>
<text x="301.30" y="205.90" font-size="5.8" text-anchor="end" fill="#222" textLength="18.29" lengthAdjust="spacingAndGlyphs" stroke="#222" stroke-width="0.18">8.15%</text>
<text x="214.30" y="172.30" font-size="6.8" text-anchor="middle" fill="#222" font-weight="bold" textLength="17.50" lengthAdjust="spacingAndGlyphs" transform="rotate(-90 214.30 172.30)" style="font-style:italic" stroke="#222" stroke-width="0.18">APC-A</text>
<text x="268.70" y="226.70" font-size="8.4" text-anchor="middle" fill="#222" textLength="39.20" lengthAdjust="spacingAndGlyphs" stroke="#222" stroke-width="0.4">PerCP-Cy5-5-A</text>
<rect x="359.4" y="195.2" width="0.9" height="0.9" fill="#2aa8a8"/>
<rect x="360.3" y="182.8" width="0.9" height="0.9" fill="#1f7a70"/>
<rect x="372.3" y="169.2" width="0.9" height="0.9" fill="#5ab8b0"/>
<rect x="360.0" y="170.9" width="0.9" height="0.9" fill="#1f7a70"/>
<rect x="373.1" y="184.0" width="0.9" height="0.9" fill="#1f7a70"/>
<rect x="354.4" y="195.4" width="0.9" height="0.9" fill="#2aa8a8"/>
<rect x="361.9" y="182.2" width="0.9" height="0.9" fill="#3a9a60"/>
<rect x="380.0" y="171.5" width="0.9" height="0.9" fill="#1f7a70"/>
<rect x="360.5" y="201.3" width="0.9" height="0.9" fill="#3a9a60"/>
<rect x="353.3" y="191.1" width="0.9" height="0.9" fill="#3a9a60"/>
<rect x="367.2" y="191.7" width="0.9" height="0.9" fill="#40c0c0"/>
<rect x="363.3" y="187.7" width="0.9" height="0.9" fill="#2a70c0"/>
<rect x="371.0" y="160.9" width="0.9" height="0.9" fill="#5ab8b0"/>
<rect x="356.0" y="182.0" width="0.9" height="0.9" fill="#5ab8b0"/>
<rect x="359.2" y="178.1" width="0.9" height="0.9" fill="#1f7a70"/>
<rect x="373.3" y="178.2" width="0.9" height="0.9" fill="#2aa8a8"/>
<rect x="362.2" y="191.2" width="0.9" height="0.9" fill="#40c0c0"/>
<rect x="367.6" y="174.9" width="0.9" height="0.9" fill="#2aa8a8"/>
<rect x="367.4" y="174.5" width="0.9" height="0.9" fill="#5ab8b0"/>
<rect x="363.7" y="200.0" width="0.9" height="0.9" fill="#40c0c0"/>
<rect x="362.2" y="186.9" width="0.9" height="0.9" fill="#40c0c0"/>
<rect x="361.3" y="157.4" width="0.9" height="0.9" fill="#2a70c0"/>
<rect x="373.3" y="178.7" width="0.9" height="0.9" fill="#3a9a60"/>
<rect x="366.3" y="173.7" width="0.9" height="0.9" fill="#5ab8b0"/>
<rect x="361.9" y="203.6" width="0.9" height="0.9" fill="#1f7a70"/>
<rect x="354.5" y="164.8" width="0.9" height="0.9" fill="#2a70c0"/>
<rect x="367.2" y="170.6" width="0.9" height="0.9" fill="#5ab8b0"/>
<rect x="361.6" y="161.8" width="0.9" height="0.9" fill="#2a70c0"/>
<rect x="358.2" y="189.9" width="0.9" height="0.9" fill="#2aa8a8"/>
<rect x="362.0" y="172.2" width="0.9" height="0.9" fill="#2aa8a8"/>
<rect x="362.5" y="189.1" width="0.9" height="0.9" fill="#5ab8b0"/>
<rect x="361.5" y="166.9" width="0.9" height="0.9" fill="#2aa8a8"/>
<rect x="365.5" y="202.7" width="0.9" height="0.9" fill="#2a70c0"/>
<rect x="374.8" y="174.6" width="0.9" height="0.9" fill="#40c0c0"/>
<rect x="364.0" y="159.1" width="0.9" height="0.9" fill="#40c0c0"/>
<rect x="366.5" y="169.8" width="0.9" height="0.9" fill="#2a70c0"/>
<rect x="363.2" y="200.7" width="0.9" height="0.9" fill="#3a9a60"/>
<rect x="363.1" y="194.9" width="0.9" height="0.9" fill="#3a9a60"/>
<rect x="370.6" y="166.1" width="0.9" height="0.9" fill="#40c0c0"/>
<rect x="369.6" y="158.4" width="0.9" height="0.9" fill="#5ab8b0"/>
<rect x="359.2" y="195.6" width="0.9" height="0.9" fill="#2a70c0"/>
<rect x="363.1" y="178.7" width="0.9" height="0.9" fill="#5ab8b0"/>
<rect x="365.0" y="160.0" width="0.9" height="0.9" fill="#1f7a70"/>
<rect x="356.7" y="196.2" width="0.9" height="0.9" fill="#2aa8a8"/>
<rect x="365.8" y="174.6" width="0.9" height="0.9" fill="#1f7a70"/>
<rect x="365.9" y="164.5" width="0.9" height="0.9" fill="#1f7a70"/>
<rect x="365.4" y="161.2" width="0.9" height="0.9" fill="#2aa8a8"/>
<rect x="360.3" y="186.8" width="0.9" height="0.9" fill="#40c0c0"/>
<rect x="363.9" y="163.5" width="0.9" height="0.9" fill="#2aa8a8"/>
<rect x="365.3" y="179.8" width="0.9" height="0.9" fill="#2a70c0"/>
<rect x="369.3" y="165.6" width="0.9" height="0.9" fill="#2aa8a8"/>
<rect x="364.2" y="175.8" width="0.9" height="0.9" fill="#3a9a60"/>
<rect x="364.4" y="161.0" width="0.9" height="0.9" fill="#5ab8b0"/>
<rect x="364.5" y="163.7" width="0.9" height="0.9" fill="#5ab8b0"/>
<rect x="371.4" y="184.8" width="0.9" height="0.9" fill="#3a9a60"/>
<rect x="362.6" y="192.4" width="0.9" height="0.9" fill="#40c0c0"/>
<rect x="371.8" y="157.9" width="0.9" height="0.9" fill="#40c0c0"/>
<rect x="372.0" y="174.3" width="0.9" height="0.9" fill="#3a9a60"/>
<rect x="363.1" y="180.9" width="0.9" height="0.9" fill="#3a9a60"/>
<rect x="363.2" y="193.4" width="0.9" height="0.9" fill="#2a70c0"/>
<rect x="367.8" y="179.0" width="0.9" height="0.9" fill="#2aa8a8"/>
<rect x="369.8" y="176.0" width="0.9" height="0.9" fill="#3a9a60"/>
<rect x="367.5" y="195.9" width="0.9" height="0.9" fill="#40c0c0"/>
<rect x="371.2" y="183.0" width="0.9" height="0.9" fill="#5ab8b0"/>
<rect x="361.3" y="178.7" width="0.9" height="0.9" fill="#5ab8b0"/>
<rect x="363.1" y="181.7" width="0.9" height="0.9" fill="#5ab8b0"/>
<rect x="367.9" y="165.5" width="0.9" height="0.9" fill="#5ab8b0"/>
<rect x="359.9" y="201.9" width="0.9" height="0.9" fill="#3a9a60"/>
<rect x="364.1" y="179.7" width="0.9" height="0.9" fill="#40c0c0"/>
<rect x="362.6" y="195.3" width="0.9" height="0.9" fill="#1f7a70"/>
<rect x="363.3" y="165.0" width="0.9" height="0.9" fill="#1f7a70"/>
<rect x="358.0" y="171.8" width="0.9" height="0.9" fill="#1f7a70"/>
<rect x="366.5" y="181.9" width="0.9" height="0.9" fill="#3a9a60"/>
<rect x="369.4" y="167.4" width="0.9" height="0.9" fill="#40c0c0"/>
<rect x="363.1" y="198.0" width="0.9" height="0.9" fill="#2a70c0"/>
<rect x="363.5" y="163.3" width="0.9" height="0.9" fill="#2a70c0"/>
<rect x="346.7" y="188.1" width="0.9" height="0.9" fill="#40c0c0"/>
<rect x="367.7" y="171.2" width="0.9" height="0.9" fill="#5ab8b0"/>
<rect x="357.0" y="173.7" width="0.9" height="0.9" fill="#40c0c0"/>
<rect x="366.2" y="175.0" width="0.9" height="0.9" fill="#3a9a60"/>
<rect x="366.7" y="173.6" width="0.9" height="0.9" fill="#2aa8a8"/>
<rect x="359.8" y="178.0" width="0.9" height="0.9" fill="#2a70c0"/>
<rect x="352.2" y="194.6" width="0.9" height="0.9" fill="#3a9a60"/>
<rect x="361.0" y="201.5" width="0.9" height="0.9" fill="#3a9a60"/>
<rect x="366.5" y="182.2" width="0.9" height="0.9" fill="#2aa8a8"/>
<rect x="366.8" y="174.1" width="0.9" height="0.9" fill="#5ab8b0"/>
<rect x="358.8" y="193.5" width="0.9" height="0.9" fill="#2a70c0"/>
<rect x="368.3" y="197.7" width="0.9" height="0.9" fill="#1f7a70"/>
<rect x="359.9" y="186.4" width="0.9" height="0.9" fill="#40c0c0"/>
<rect x="365.3" y="165.2" width="0.9" height="0.9" fill="#3a9a60"/>
<rect x="362.1" y="186.4" width="0.9" height="0.9" fill="#2a70c0"/>
<rect x="370.0" y="174.5" width="0.9" height="0.9" fill="#1f7a70"/>
<rect x="366.4" y="171.4" width="0.9" height="0.9" fill="#2aa8a8"/>
<rect x="359.7" y="163.5" width="0.9" height="0.9" fill="#2aa8a8"/>
<rect x="361.4" y="196.8" width="0.9" height="0.9" fill="#2aa8a8"/>
<rect x="368.2" y="176.0" width="0.9" height="0.9" fill="#40c0c0"/>
<rect x="370.7" y="167.5" width="0.9" height="0.9" fill="#40c0c0"/>
<rect x="360.6" y="179.9" width="0.9" height="0.9" fill="#1f7a70"/>
<rect x="361.6" y="175.3" width="0.9" height="0.9" fill="#2a70c0"/>
<rect x="372.0" y="179.4" width="0.9" height="0.9" fill="#1f7a70"/>
<rect x="369.2" y="173.1" width="0.9" height="0.9" fill="#3a9a60"/>
<rect x="368.9" y="159.1" width="0.9" height="0.9" fill="#5ab8b0"/>
<rect x="356.8" y="172.3" width="0.9" height="0.9" fill="#40c0c0"/>
<rect x="361.8" y="187.0" width="0.9" height="0.9" fill="#3a9a60"/>
<rect x="357.4" y="157.6" width="0.9" height="0.9" fill="#2aa8a8"/>
<rect x="369.8" y="181.5" width="0.9" height="0.9" fill="#3a9a60"/>
<rect x="363.3" y="191.4" width="0.9" height="0.9" fill="#2aa8a8"/>
<rect x="363.8" y="199.5" width="0.9" height="0.9" fill="#3a9a60"/>
<rect x="363.0" y="185.8" width="0.9" height="0.9" fill="#40c0c0"/>
<rect x="361.0" y="183.7" width="0.9" height="0.9" fill="#2aa8a8"/>
<rect x="361.0" y="181.0" width="0.9" height="0.9" fill="#2aa8a8"/>
<rect x="364.2" y="196.2" width="0.9" height="0.9" fill="#40c0c0"/>
<rect x="374.2" y="167.3" width="0.9" height="0.9" fill="#3a9a60"/>
<rect x="366.8" y="192.4" width="0.9" height="0.9" fill="#2aa8a8"/>
<rect x="359.9" y="197.1" width="0.9" height="0.9" fill="#40c0c0"/>
<rect x="362.8" y="188.6" width="0.9" height="0.9" fill="#2a70c0"/>
<rect x="370.9" y="159.6" width="0.9" height="0.9" fill="#1f7a70"/>
<rect x="364.2" y="161.1" width="0.9" height="0.9" fill="#2aa8a8"/>
<rect x="368.8" y="189.7" width="0.9" height="0.9" fill="#40c0c0"/>
<rect x="365.8" y="188.4" width="0.9" height="0.9" fill="#2a70c0"/>
<rect x="363.3" y="171.6" width="0.9" height="0.9" fill="#40c0c0"/>
<rect x="356.4" y="203.3" width="0.9" height="0.9" fill="#2a70c0"/>
<rect x="355.3" y="197.9" width="0.9" height="0.9" fill="#2aa8a8"/>
<rect x="361.3" y="202.2" width="0.9" height="0.9" fill="#3a9a60"/>
<rect x="364.8" y="186.5" width="0.9" height="0.9" fill="#2a70c0"/>
<rect x="361.3" y="191.6" width="0.9" height="0.9" fill="#3a9a60"/>
<rect x="368.7" y="170.1" width="0.9" height="0.9" fill="#2a70c0"/>
<rect x="366.3" y="169.0" width="0.9" height="0.9" fill="#2aa8a8"/>
<rect x="365.1" y="176.5" width="0.9" height="0.9" fill="#3a9a60"/>
<rect x="375.3" y="175.8" width="0.9" height="0.9" fill="#2aa8a8"/>
<rect x="361.7" y="194.9" width="0.9" height="0.9" fill="#5ab8b0"/>
<rect x="378.0" y="169.5" width="0.9" height="0.9" fill="#2a70c0"/>
<rect x="361.5" y="193.7" width="0.9" height="0.9" fill="#1f7a70"/>
<rect x="358.6" y="202.7" width="0.9" height="0.9" fill="#40c0c0"/>
<rect x="369.7" y="170.7" width="0.9" height="0.9" fill="#40c0c0"/>
<rect x="369.4" y="188.4" width="0.9" height="0.9" fill="#40c0c0"/>
<rect x="362.6" y="203.1" width="0.9" height="0.9" fill="#3a9a60"/>
<rect x="360.2" y="198.8" width="0.9" height="0.9" fill="#5ab8b0"/>
<rect x="368.1" y="187.5" width="0.9" height="0.9" fill="#40c0c0"/>
<rect x="362.7" y="188.5" width="0.9" height="0.9" fill="#2aa8a8"/>
<rect x="364.8" y="171.9" width="0.9" height="0.9" fill="#3a9a60"/>
<rect x="362.7" y="171.7" width="0.9" height="0.9" fill="#5ab8b0"/>
<rect x="371.7" y="174.3" width="0.9" height="0.9" fill="#5ab8b0"/>
<rect x="367.7" y="188.0" width="0.9" height="0.9" fill="#40c0c0"/>
<rect x="371.2" y="162.1" width="0.9" height="0.9" fill="#1f7a70"/>
<rect x="362.4" y="155.2" width="0.9" height="0.9" fill="#5ab8b0"/>
<rect x="369.6" y="179.3" width="0.9" height="0.9" fill="#2aa8a8"/>
<rect x="359.9" y="188.2" width="0.9" height="0.9" fill="#40c0c0"/>
<rect x="355.7" y="160.5" width="0.9" height="0.9" fill="#3a9a60"/>
<rect x="364.9" y="184.5" width="0.9" height="0.9" fill="#40c0c0"/>
<rect x="364.9" y="168.6" width="0.9" height="0.9" fill="#2a70c0"/>
<rect x="368.6" y="190.1" width="0.9" height="0.9" fill="#2a70c0"/>
<rect x="371.6" y="174.8" width="0.9" height="0.9" fill="#1f7a70"/>
<rect x="354.7" y="159.1" width="0.9" height="0.9" fill="#5ab8b0"/>
<rect x="361.0" y="190.4" width="0.9" height="0.9" fill="#40c0c0"/>
<rect x="371.3" y="163.4" width="0.9" height="0.9" fill="#40c0c0"/>
<rect x="367.9" y="175.5" width="0.9" height="0.9" fill="#5ab8b0"/>
<rect x="368.6" y="185.5" width="0.9" height="0.9" fill="#3a9a60"/>
<rect x="360.4" y="198.8" width="0.9" height="0.9" fill="#2a70c0"/>
<rect x="357.1" y="185.2" width="0.9" height="0.9" fill="#5ab8b0"/>
<rect x="359.9" y="177.3" width="0.9" height="0.9" fill="#40c0c0"/>
<rect x="360.2" y="170.1" width="0.9" height="0.9" fill="#2aa8a8"/>
<rect x="366.2" y="193.1" width="0.9" height="0.9" fill="#2aa8a8"/>
<rect x="369.8" y="181.2" width="0.9" height="0.9" fill="#5ab8b0"/>
<rect x="361.0" y="159.6" width="0.9" height="0.9" fill="#5ab8b0"/>
<rect x="364.6" y="191.0" width="0.9" height="0.9" fill="#5ab8b0"/>
<rect x="371.8" y="173.1" width="0.9" height="0.9" fill="#2a70c0"/>
<rect x="376.4" y="178.7" width="0.9" height="0.9" fill="#2aa8a8"/>
<rect x="367.7" y="174.2" width="0.9" height="0.9" fill="#1f7a70"/>
<rect x="367.1" y="181.6" width="0.9" height="0.9" fill="#2aa8a8"/>
<rect x="363.2" y="176.4" width="0.9" height="0.9" fill="#5ab8b0"/>
<rect x="351.8" y="179.2" width="0.9" height="0.9" fill="#2aa8a8"/>
<rect x="359.8" y="204.2" width="0.9" height="0.9" fill="#2aa8a8"/>
<rect x="359.5" y="173.1" width="0.9" height="0.9" fill="#5ab8b0"/>
<rect x="353.1" y="199.3" width="0.9" height="0.9" fill="#2aa8a8"/>
<rect x="354.8" y="177.9" width="0.9" height="0.9" fill="#2aa8a8"/>
<rect x="366.9" y="184.7" width="0.9" height="0.9" fill="#3a9a60"/>
<rect x="375.4" y="167.1" width="0.9" height="0.9" fill="#40c0c0"/>
<rect x="371.7" y="176.0" width="0.9" height="0.9" fill="#1f7a70"/>
<rect x="355.2" y="198.3" width="0.9" height="0.9" fill="#5ab8b0"/>
<rect x="357.3" y="161.5" width="0.9" height="0.9" fill="#2aa8a8"/>
<rect x="367.0" y="179.4" width="0.9" height="0.9" fill="#2a70c0"/>
<rect x="360.2" y="188.6" width="0.9" height="0.9" fill="#1f7a70"/>
<rect x="364.6" y="156.4" width="0.9" height="0.9" fill="#2a70c0"/>
<rect x="356.9" y="175.4" width="0.9" height="0.9" fill="#2a70c0"/>
<rect x="364.3" y="186.9" width="0.9" height="0.9" fill="#3a9a60"/>
<rect x="366.1" y="169.7" width="0.9" height="0.9" fill="#5ab8b0"/>
<rect x="366.3" y="190.3" width="0.9" height="0.9" fill="#2a70c0"/>
<rect x="360.0" y="204.4" width="0.9" height="0.9" fill="#3a9a60"/>
<rect x="363.7" y="195.3" width="0.9" height="0.9" fill="#3a9a60"/>
<rect x="372.5" y="167.4" width="0.9" height="0.9" fill="#3a9a60"/>
<rect x="360.0" y="192.4" width="0.9" height="0.9" fill="#2aa8a8"/>
<rect x="364.2" y="183.9" width="0.9" height="0.9" fill="#3a9a60"/>
<rect x="362.0" y="183.8" width="0.9" height="0.9" fill="#2a70c0"/>
<rect x="364.4" y="173.5" width="0.9" height="0.9" fill="#3a9a60"/>
<rect x="372.9" y="173.8" width="0.9" height="0.9" fill="#2aa8a8"/>
<rect x="389.3" y="162.1" width="0.9" height="0.9" fill="#2aa8a8"/>
<rect x="367.9" y="181.5" width="0.9" height="0.9" fill="#5ab8b0"/>
<rect x="358.2" y="197.7" width="0.9" height="0.9" fill="#1f7a70"/>
<rect x="371.8" y="165.6" width="0.9" height="0.9" fill="#3a9a60"/>
<rect x="374.6" y="173.1" width="0.9" height="0.9" fill="#40c0c0"/>
<rect x="362.5" y="194.3" width="0.9" height="0.9" fill="#40c0c0"/>
<rect x="352.6" y="168.1" width="0.9" height="0.9" fill="#40c0c0"/>
<rect x="369.3" y="188.4" width="0.9" height="0.9" fill="#5ab8b0"/>
<rect x="361.6" y="180.9" width="0.9" height="0.9" fill="#2a70c0"/>
<rect x="361.2" y="161.9" width="0.9" height="0.9" fill="#3a9a60"/>
<rect x="367.4" y="186.7" width="0.9" height="0.9" fill="#3a9a60"/>
<rect x="357.7" y="170.0" width="0.9" height="0.9" fill="#40c0c0"/>
<rect x="369.0" y="168.9" width="0.9" height="0.9" fill="#5ab8b0"/>
<rect x="369.2" y="161.9" width="0.9" height="0.9" fill="#1f7a70"/>
<rect x="358.3" y="174.3" width="0.9" height="0.9" fill="#1f7a70"/>
<rect x="364.2" y="174.1" width="0.9" height="0.9" fill="#40c0c0"/>
<rect x="371.2" y="190.2" width="0.9" height="0.9" fill="#2aa8a8"/>
<rect x="365.6" y="195.2" width="0.9" height="0.9" fill="#1f7a70"/>
<rect x="362.0" y="190.7" width="0.9" height="0.9" fill="#1f7a70"/>
<rect x="361.8" y="194.5" width="0.9" height="0.9" fill="#5ab8b0"/>
<rect x="354.7" y="174.0" width="0.9" height="0.9" fill="#2aa8a8"/>
<rect x="367.0" y="174.5" width="0.9" height="0.9" fill="#3a9a60"/>
<rect x="363.8" y="172.2" width="0.9" height="0.9" fill="#40c0c0"/>
<rect x="359.7" y="196.6" width="0.9" height="0.9" fill="#1f7a70"/>
<rect x="360.0" y="195.7" width="0.9" height="0.9" fill="#1f7a70"/>
<rect x="360.3" y="201.3" width="0.9" height="0.9" fill="#1f7a70"/>
<rect x="362.5" y="172.7" width="0.9" height="0.9" fill="#3a9a60"/>
<rect x="357.1" y="189.7" width="0.9" height="0.9" fill="#3a9a60"/>
<rect x="370.5" y="183.5" width="0.9" height="0.9" fill="#1f7a70"/>
<rect x="368.4" y="160.3" width="0.9" height="0.9" fill="#3a9a60"/>
<rect x="354.6" y="192.9" width="0.9" height="0.9" fill="#5ab8b0"/>
<rect x="362.6" y="169.8" width="0.9" height="0.9" fill="#1f7a70"/>
<rect x="361.3" y="194.4" width="0.9" height="0.9" fill="#1f7a70"/>
<rect x="362.5" y="195.5" width="0.9" height="0.9" fill="#2a70c0"/>
<rect x="357.9" y="199.3" width="0.9" height="0.9" fill="#5ab8b0"/>
<rect x="355.8" y="171.3" width="0.9" height="0.9" fill="#3a9a60"/>
<rect x="379.6" y="165.4" width="0.9" height="0.9" fill="#1f7a70"/>
<rect x="370.1" y="191.7" width="0.9" height="0.9" fill="#2aa8a8"/>
<rect x="360.4" y="185.1" width="0.9" height="0.9" fill="#40c0c0"/>
<rect x="367.3" y="161.3" width="0.9" height="0.9" fill="#2aa8a8"/>
<rect x="356.4" y="183.2" width="0.9" height="0.9" fill="#3a9a60"/>
<rect x="354.7" y="180.0" width="0.9" height="0.9" fill="#5ab8b0"/>
<rect x="365.6" y="181.9" width="0.9" height="0.9" fill="#40c0c0"/>
<rect x="369.7" y="172.2" width="0.9" height="0.9" fill="#2aa8a8"/>
<rect x="363.5" y="200.2" width="0.9" height="0.9" fill="#2a70c0"/>
<rect x="358.2" y="185.6" width="0.9" height="0.9" fill="#2aa8a8"/>
<rect x="368.4" y="194.0" width="0.9" height="0.9" fill="#5ab8b0"/>
<rect x="357.1" y="188.6" width="0.9" height="0.9" fill="#3a9a60"/>
<rect x="372.6" y="185.2" width="0.9" height="0.9" fill="#2aa8a8"/>
<rect x="360.3" y="195.7" width="0.9" height="0.9" fill="#5ab8b0"/>
<rect x="364.9" y="177.3" width="0.9" height="0.9" fill="#5ab8b0"/>
<rect x="373.7" y="178.7" width="0.9" height="0.9" fill="#40c0c0"/>
<rect x="359.4" y="198.2" width="0.9" height="0.9" fill="#1f7a70"/>
<rect x="366.8" y="165.8" width="0.9" height="0.9" fill="#1f7a70"/>
<rect x="357.2" y="191.1" width="0.9" height="0.9" fill="#2a70c0"/>
<rect x="373.0" y="170.7" width="0.9" height="0.9" fill="#5ab8b0"/>
<rect x="371.1" y="172.7" width="0.9" height="0.9" fill="#40c0c0"/>
<rect x="363.3" y="171.3" width="0.9" height="0.9" fill="#1f7a70"/>
<rect x="368.7" y="168.2" width="0.9" height="0.9" fill="#40c0c0"/>
<rect x="361.7" y="180.8" width="0.9" height="0.9" fill="#1f7a70"/>
<rect x="368.6" y="196.0" width="0.9" height="0.9" fill="#5ab8b0"/>
<rect x="368.1" y="166.0" width="0.9" height="0.9" fill="#2aa8a8"/>
<rect x="359.9" y="177.2" width="0.9" height="0.9" fill="#3a9a60"/>
<rect x="360.8" y="161.5" width="0.9" height="0.9" fill="#5ab8b0"/>
<rect x="365.8" y="193.2" width="0.9" height="0.9" fill="#40c0c0"/>
<rect x="362.0" y="192.7" width="0.9" height="0.9" fill="#5ab8b0"/>
<rect x="359.6" y="173.6" width="0.9" height="0.9" fill="#2aa8a8"/>
<rect x="362.5" y="172.8" width="0.9" height="0.9" fill="#1f7a70"/>
<rect x="364.7" y="188.0" width="0.9" height="0.9" fill="#2a70c0"/>
<rect x="359.9" y="173.0" width="0.9" height="0.9" fill="#3a9a60"/>
<rect x="360.5" y="175.9" width="0.9" height="0.9" fill="#3a9a60"/>
<rect x="377.8" y="172.5" width="0.9" height="0.9" fill="#5ab8b0"/>
<rect x="374.1" y="159.6" width="0.9" height="0.9" fill="#40c0c0"/>
<rect x="367.1" y="171.0" width="0.9" height="0.9" fill="#5ab8b0"/>
<rect x="363.0" y="185.4" width="0.9" height="0.9" fill="#3a9a60"/>
<rect x="362.6" y="182.2" width="0.9" height="0.9" fill="#5ab8b0"/>
<rect x="363.9" y="199.4" width="0.9" height="0.9" fill="#5ab8b0"/>
<rect x="371.3" y="176.9" width="0.9" height="0.9" fill="#40c0c0"/>
<rect x="366.0" y="177.3" width="0.9" height="0.9" fill="#40c0c0"/>
<rect x="364.0" y="194.4" width="0.9" height="0.9" fill="#3a9a60"/>
<rect x="358.3" y="166.0" width="0.9" height="0.9" fill="#1f7a70"/>
<rect x="360.4" y="186.9" width="0.9" height="0.9" fill="#2a70c0"/>
<rect x="372.2" y="157.5" width="0.9" height="0.9" fill="#40c0c0"/>
<rect x="360.1" y="183.2" width="0.9" height="0.9" fill="#2aa8a8"/>
<rect x="364.5" y="161.0" width="0.9" height="0.9" fill="#1f7a70"/>
<rect x="367.2" y="175.2" width="0.9" height="0.9" fill="#5ab8b0"/>
<rect x="368.0" y="169.2" width="0.9" height="0.9" fill="#3a9a60"/>
<rect x="360.5" y="174.9" width="0.9" height="0.9" fill="#3a9a60"/>
<rect x="365.1" y="157.6" width="0.9" height="0.9" fill="#5ab8b0"/>
<rect x="361.0" y="204.5" width="0.9" height="0.9" fill="#40c0c0"/>
<rect x="361.5" y="202.8" width="0.9" height="0.9" fill="#1f7a70"/>
<rect x="355.5" y="197.2" width="0.9" height="0.9" fill="#3a9a60"/>
<rect x="362.9" y="163.7" width="0.9" height="0.9" fill="#3a9a60"/>
<rect x="365.1" y="183.6" width="0.9" height="0.9" fill="#2aa8a8"/>
<rect x="362.6" y="170.2" width="0.9" height="0.9" fill="#3a9a60"/>
<rect x="380.4" y="159.0" width="0.9" height="0.9" fill="#2a70c0"/>
<rect x="374.1" y="161.3" width="0.9" height="0.9" fill="#2a70c0"/>
<rect x="357.8" y="194.0" width="0.9" height="0.9" fill="#2aa8a8"/>
<rect x="359.1" y="174.9" width="0.9" height="0.9" fill="#2aa8a8"/>
<rect x="368.1" y="201.2" width="0.9" height="0.9" fill="#3a9a60"/>
<rect x="370.4" y="177.9" width="0.9" height="0.9" fill="#3a9a60"/>
<rect x="362.5" y="189.4" width="0.9" height="0.9" fill="#1f7a70"/>
<rect x="367.0" y="179.2" width="0.9" height="0.9" fill="#3a9a60"/>
<rect x="382.3" y="169.3" width="0.9" height="0.9" fill="#2a70c0"/>
<g filter="url(#fb)">
<path d="M372.34,181.06 L371.70,183.73 L370.96,186.32 L370.11,188.80 L369.17,191.12 L368.16,193.24 L367.10,195.13 L366.00,196.75 L364.89,198.07 L363.77,199.07 L362.68,199.74 L361.63,200.07 L360.63,200.04 L359.71,199.66 L358.88,198.94 L358.16,197.88 L357.55,196.51 L357.07,194.85 L356.73,192.92 L356.52,190.77 L356.46,188.42 L356.55,185.92 L356.78,183.31 L357.16,180.64 L357.66,177.94 L358.30,175.27 L359.04,172.68 L359.89,170.20 L360.83,167.88 L361.84,165.76 L362.90,163.87 L364.00,162.25 L365.11,160.93 L366.23,159.93 L367.32,159.26 L368.37,158.93 L369.37,158.96 L370.29,159.34 L371.12,160.06 L371.84,161.12 L372.45,162.49 L372.93,164.15 L373.27,166.08 L373.48,168.23 L373.54,170.58 L373.45,173.08 L373.22,175.69 L372.84,178.36 Z" fill="#3a9a80" opacity="0.45"/>
<path d="M369.20,181.00 L368.69,183.16 L368.12,185.27 L367.49,187.29 L366.80,189.18 L366.07,190.91 L365.32,192.46 L364.55,193.80 L363.79,194.90 L363.03,195.74 L362.30,196.32 L361.61,196.62 L360.97,196.63 L360.38,196.36 L359.87,195.80 L359.44,194.98 L359.09,193.90 L358.84,192.58 L358.68,191.05 L358.62,189.33 L358.67,187.45 L358.81,185.44 L359.05,183.34 L359.38,181.18 L359.80,179.00 L360.31,176.84 L360.88,174.73 L361.51,172.71 L362.20,170.82 L362.93,169.09 L363.68,167.54 L364.45,166.20 L365.21,165.10 L365.97,164.26 L366.70,163.68 L367.39,163.38 L368.03,163.37 L368.62,163.64 L369.13,164.20 L369.56,165.02 L369.91,166.10 L370.16,167.42 L370.32,168.95 L370.38,170.67 L370.33,172.55 L370.19,174.56 L369.95,176.66 L369.62,178.82 Z" fill="#3a8a48" opacity="0.7"/>
</g>
<rect x="362.1" y="190.3" width="0.9" height="0.9" fill="#1f7a70"/>
<rect x="361.5" y="157.5" width="0.9" height="0.9" fill="#6aa040"/>
<rect x="361.3" y="198.5" width="0.9" height="0.9" fill="#1f7a70"/>
<rect x="360.7" y="182.3" width="0.9" height="0.9" fill="#48c0b8"/>
<rect x="371.9" y="180.1" width="0.9" height="0.9" fill="#ffffff"/>
<rect x="361.0" y="183.2" width="0.9" height="0.9" fill="#2aa8a8"/>
<rect x="370.0" y="161.9" width="0.9" height="0.9" fill="#2a8a50"/>
<rect x="360.2" y="200.1" width="0.9" height="0.9" fill="#6aa040"/>
<rect x="369.9" y="174.3" width="0.9" height="0.9" fill="#1f7a70"/>
<rect x="360.2" y="193.3" width="0.9" height="0.9" fill="#3a9a48"/>
<rect x="366.2" y="183.8" width="0.9" height="0.9" fill="#2aa8a8"/>
<rect x="357.3" y="194.9" width="0.9" height="0.9" fill="#48c0b8"/>
<rect x="356.7" y="185.1" width="0.9" height="0.9" fill="#ffffff"/>
<rect x="378.3" y="161.0" width="0.9" height="0.9" fill="#2aa8a8"/>
<rect x="366.1" y="190.5" width="0.9" height="0.9" fill="#48c0b8"/>
<rect x="369.1" y="178.6" width="0.9" height="0.9" fill="#2aa8a8"/>
<rect x="367.0" y="173.9" width="0.9" height="0.9" fill="#3a9a48"/>
<rect x="378.7" y="165.2" width="0.9" height="0.9" fill="#1f7a70"/>
<rect x="373.2" y="170.7" width="0.9" height="0.9" fill="#2aa8a8"/>
<rect x="363.0" y="192.6" width="0.9" height="0.9" fill="#2aa8a8"/>
<rect x="361.4" y="188.4" width="0.9" height="0.9" fill="#6aa040"/>
<rect x="371.1" y="171.4" width="0.9" height="0.9" fill="#ffffff"/>
<rect x="372.0" y="171.1" width="0.9" height="0.9" fill="#ffffff"/>
<rect x="372.2" y="167.4" width="0.9" height="0.9" fill="#48c0b8"/>
<rect x="360.0" y="175.6" width="0.9" height="0.9" fill="#1f7a70"/>
<rect x="368.6" y="187.8" width="0.9" height="0.9" fill="#6aa040"/>
<rect x="363.7" y="186.9" width="0.9" height="0.9" fill="#2a8a50"/>
<rect x="362.8" y="184.5" width="0.9" height="0.9" fill="#2a8a50"/>
<rect x="372.8" y="167.0" width="0.9" height="0.9" fill="#6aa040"/>
<rect x="363.9" y="174.7" width="0.9" height="0.9" fill="#3a9a48"/>
<rect x="365.6" y="184.0" width="0.9" height="0.9" fill="#2aa8a8"/>
<rect x="361.6" y="179.5" width="0.9" height="0.9" fill="#3a9a48"/>
<rect x="359.2" y="195.7" width="0.9" height="0.9" fill="#2a8a50"/>
<rect x="365.2" y="179.6" width="0.9" height="0.9" fill="#3a9a48"/>
<rect x="357.3" y="187.4" width="0.9" height="0.9" fill="#1f7a70"/>
<rect x="361.8" y="194.9" width="0.9" height="0.9" fill="#3a9a48"/>
<rect x="367.5" y="180.2" width="0.9" height="0.9" fill="#2a8a50"/>
<rect x="363.1" y="181.2" width="0.9" height="0.9" fill="#48c0b8"/>
<rect x="357.0" y="186.7" width="0.9" height="0.9" fill="#3a9a48"/>
<rect x="369.4" y="182.7" width="0.9" height="0.9" fill="#1f7a70"/>
<rect x="368.6" y="169.9" width="0.9" height="0.9" fill="#48c0b8"/>
<rect x="369.4" y="180.7" width="0.9" height="0.9" fill="#1f7a70"/>
<rect x="361.1" y="182.9" width="0.9" height="0.9" fill="#2aa8a8"/>
<rect x="358.3" y="195.7" width="0.9" height="0.9" fill="#2aa8a8"/>
<rect x="360.4" y="178.7" width="0.9" height="0.9" fill="#3a9a48"/>
<rect x="359.5" y="199.5" width="0.9" height="0.9" fill="#2aa8a8"/>
<rect x="357.3" y="179.8" width="0.9" height="0.9" fill="#48c0b8"/>
<rect x="356.9" y="164.8" width="0.9" height="0.9" fill="#1f7a70"/>
<rect x="366.5" y="180.7" width="0.9" height="0.9" fill="#3a9a48"/>
<rect x="356.1" y="193.6" width="0.9" height="0.9" fill="#1f7a70"/>
<rect x="370.6" y="174.1" width="0.9" height="0.9" fill="#ffffff"/>
<rect x="370.3" y="168.3" width="0.9" height="0.9" fill="#48c0b8"/>
<rect x="370.8" y="165.3" width="0.9" height="0.9" fill="#6aa040"/>
<rect x="357.3" y="184.2" width="0.9" height="0.9" fill="#48c0b8"/>
<rect x="361.2" y="179.2" width="0.9" height="0.9" fill="#2aa8a8"/>
<rect x="376.7" y="173.7" width="0.9" height="0.9" fill="#2a8a50"/>
<rect x="367.1" y="178.5" width="0.9" height="0.9" fill="#3a9a48"/>
<rect x="364.1" y="193.0" width="0.9" height="0.9" fill="#48c0b8"/>
<rect x="359.4" y="196.8" width="0.9" height="0.9" fill="#3a9a48"/>
<rect x="371.7" y="174.1" width="0.9" height="0.9" fill="#3a9a48"/>
<rect x="366.8" y="169.2" width="0.9" height="0.9" fill="#2aa8a8"/>
<rect x="370.6" y="176.9" width="0.9" height="0.9" fill="#1f7a70"/>
<rect x="362.0" y="182.9" width="0.9" height="0.9" fill="#6aa040"/>
<rect x="376.6" y="163.0" width="0.9" height="0.9" fill="#48c0b8"/>
<rect x="354.8" y="160.8" width="0.9" height="0.9" fill="#2a8a50"/>
<rect x="368.5" y="172.4" width="0.9" height="0.9" fill="#1f7a70"/>
<rect x="363.1" y="176.9" width="0.9" height="0.9" fill="#ffffff"/>
<rect x="362.6" y="171.2" width="0.9" height="0.9" fill="#48c0b8"/>
<rect x="368.6" y="171.3" width="0.9" height="0.9" fill="#1f7a70"/>
<rect x="362.5" y="170.4" width="0.9" height="0.9" fill="#1f7a70"/>
<rect x="363.3" y="173.9" width="0.9" height="0.9" fill="#6aa040"/>
<rect x="366.3" y="185.5" width="0.9" height="0.9" fill="#ffffff"/>
<rect x="362.0" y="196.0" width="0.9" height="0.9" fill="#3a9a48"/>
<rect x="362.1" y="165.6" width="0.9" height="0.9" fill="#48c0b8"/>
<rect x="361.6" y="190.3" width="0.9" height="0.9" fill="#2aa8a8"/>
<rect x="361.1" y="185.9" width="0.9" height="0.9" fill="#48c0b8"/>
<rect x="365.9" y="175.0" width="0.9" height="0.9" fill="#1f7a70"/>
<rect x="370.1" y="186.2" width="0.9" height="0.9" fill="#6aa040"/>
<rect x="361.2" y="195.9" width="0.9" height="0.9" fill="#2a8a50"/>
<rect x="366.1" y="179.6" width="0.9" height="0.9" fill="#1f7a70"/>
<rect x="365.0" y="161.8" width="0.9" height="0.9" fill="#48c0b8"/>
<rect x="362.3" y="189.9" width="0.9" height="0.9" fill="#6aa040"/>
<rect x="362.8" y="196.2" width="0.9" height="0.9" fill="#2a8a50"/>
<rect x="358.0" y="202.3" width="0.9" height="0.9" fill="#6aa040"/>
<rect x="369.0" y="180.7" width="0.9" height="0.9" fill="#3a9a48"/>
<rect x="360.2" y="193.9" width="0.9" height="0.9" fill="#2aa8a8"/>
<rect x="361.8" y="174.8" width="0.9" height="0.9" fill="#3a9a48"/>
<rect x="358.7" y="192.9" width="0.9" height="0.9" fill="#6aa040"/>
<rect x="372.3" y="180.3" width="0.9" height="0.9" fill="#6aa040"/>
<rect x="359.6" y="197.9" width="0.9" height="0.9" fill="#6aa040"/>
<rect x="376.1" y="172.4" width="0.9" height="0.9" fill="#2a8a50"/>
<rect x="356.2" y="181.9" width="0.9" height="0.9" fill="#6aa040"/>
<rect x="354.7" y="155.1" width="0.9" height="0.9" fill="#3a9a48"/>
<rect x="359.2" y="177.7" width="0.9" height="0.9" fill="#48c0b8"/>
<rect x="365.7" y="189.7" width="0.9" height="0.9" fill="#2a8a50"/>
<rect x="373.9" y="169.2" width="0.9" height="0.9" fill="#2a8a50"/>
<rect x="360.3" y="182.5" width="0.9" height="0.9" fill="#1f7a70"/>
<rect x="361.0" y="191.2" width="0.9" height="0.9" fill="#48c0b8"/>
<rect x="374.5" y="163.6" width="0.9" height="0.9" fill="#2a8a50"/>
<rect x="360.9" y="201.6" width="0.9" height="0.9" fill="#48c0b8"/>
<rect x="357.4" y="191.9" width="0.9" height="0.9" fill="#1f7a70"/>
<rect x="362.0" y="180.5" width="0.9" height="0.9" fill="#6aa040"/>
<rect x="367.4" y="173.3" width="0.9" height="0.9" fill="#6aa040"/>
<rect x="361.6" y="197.1" width="0.9" height="0.9" fill="#ffffff"/>
<rect x="365.8" y="162.1" width="0.9" height="0.9" fill="#48c0b8"/>
<rect x="374.0" y="169.3" width="0.9" height="0.9" fill="#48c0b8"/>
<rect x="365.2" y="176.7" width="0.9" height="0.9" fill="#ffffff"/>
<rect x="357.4" y="185.1" width="0.9" height="0.9" fill="#2a8a50"/>
<rect x="372.0" y="169.1" width="0.9" height="0.9" fill="#1f7a70"/>
<rect x="366.8" y="194.2" width="0.9" height="0.9" fill="#1f7a70"/>
<rect x="358.8" y="197.0" width="0.9" height="0.9" fill="#48c0b8"/>
<rect x="364.6" y="196.0" width="0.9" height="0.9" fill="#ffffff"/>
<rect x="367.6" y="171.1" width="0.9" height="0.9" fill="#48c0b8"/>
<rect x="363.1" y="175.2" width="0.9" height="0.9" fill="#1f7a70"/>
<rect x="368.7" y="189.7" width="0.9" height="0.9" fill="#6aa040"/>
<rect x="378.3" y="179.9" width="0.9" height="0.9" fill="#6aa040"/>
<rect x="363.7" y="163.2" width="0.9" height="0.9" fill="#1f7a70"/>
<rect x="372.8" y="176.5" width="0.9" height="0.9" fill="#3a9a48"/>
<rect x="375.9" y="160.6" width="0.9" height="0.9" fill="#3a9a48"/>
<rect x="364.4" y="171.6" width="0.9" height="0.9" fill="#2a8a50"/>
<rect x="364.8" y="176.8" width="0.9" height="0.9" fill="#1f7a70"/>
<rect x="366.5" y="183.9" width="0.9" height="0.9" fill="#2aa8a8"/>
<rect x="356.5" y="201.1" width="0.9" height="0.9" fill="#48c0b8"/>
<rect x="360.5" y="186.2" width="0.9" height="0.9" fill="#6aa040"/>
<rect x="366.1" y="201.5" width="0.9" height="0.9" fill="#1f7a70"/>
<rect x="368.3" y="191.2" width="0.9" height="0.9" fill="#1f7a70"/>
<rect x="359.8" y="195.5" width="0.9" height="0.9" fill="#2aa8a8"/>
<rect x="358.9" y="175.9" width="0.9" height="0.9" fill="#3a9a48"/>
<rect x="363.8" y="174.3" width="0.9" height="0.9" fill="#48c0b8"/>
<rect x="371.0" y="173.3" width="0.9" height="0.9" fill="#6aa040"/>
<rect x="358.2" y="185.9" width="0.9" height="0.9" fill="#6aa040"/>
<rect x="368.2" y="198.3" width="0.9" height="0.9" fill="#1f7a70"/>
<rect x="366.1" y="172.4" width="0.9" height="0.9" fill="#ffffff"/>
<rect x="360.0" y="181.9" width="0.9" height="0.9" fill="#2a8a50"/>
<rect x="362.9" y="170.3" width="0.9" height="0.9" fill="#3a9a48"/>
<rect x="361.9" y="169.9" width="0.9" height="0.9" fill="#2a8a50"/>
<rect x="368.0" y="172.5" width="0.9" height="0.9" fill="#2a8a50"/>
<rect x="363.9" y="168.1" width="0.9" height="0.9" fill="#48c0b8"/>
<rect x="363.1" y="182.2" width="0.9" height="0.9" fill="#1f7a70"/>
<rect x="370.2" y="163.5" width="0.9" height="0.9" fill="#2a8a50"/>
<rect x="357.7" y="179.5" width="0.9" height="0.9" fill="#ffffff"/>
<rect x="369.5" y="164.1" width="0.9" height="0.9" fill="#ffffff"/>
<rect x="362.6" y="193.3" width="0.9" height="0.9" fill="#2a8a50"/>
<rect x="363.0" y="178.5" width="0.9" height="0.9" fill="#48c0b8"/>
<rect x="370.3" y="164.9" width="0.9" height="0.9" fill="#ffffff"/>
<rect x="358.0" y="188.2" width="0.9" height="0.9" fill="#6aa040"/>
<rect x="368.3" y="176.3" width="0.9" height="0.9" fill="#48c0b8"/>
<rect x="359.9" y="174.5" width="0.9" height="0.9" fill="#1f7a70"/>
<rect x="366.9" y="168.6" width="0.9" height="0.9" fill="#1f7a70"/>
<rect x="362.1" y="184.8" width="0.9" height="0.9" fill="#1f7a70"/>
<rect x="371.6" y="170.7" width="0.9" height="0.9" fill="#48c0b8"/>
<rect x="355.0" y="189.7" width="0.9" height="0.9" fill="#6aa040"/>
<rect x="362.5" y="179.1" width="0.9" height="0.9" fill="#6aa040"/>
<rect x="370.1" y="172.7" width="0.9" height="0.9" fill="#ffffff"/>
<rect x="368.3" y="177.2" width="0.9" height="0.9" fill="#1f7a70"/>
<rect x="369.1" y="163.0" width="0.9" height="0.9" fill="#6aa040"/>
<rect x="360.1" y="182.4" width="0.9" height="0.9" fill="#ffffff"/>
<rect x="361.6" y="189.6" width="0.9" height="0.9" fill="#ffffff"/>
<rect x="369.6" y="160.4" width="0.9" height="0.9" fill="#6aa040"/>
<rect x="365.4" y="185.3" width="0.9" height="0.9" fill="#6aa040"/>
<rect x="356.3" y="185.9" width="0.9" height="0.9" fill="#1f7a70"/>
<rect x="360.2" y="161.2" width="0.9" height="0.9" fill="#48c0b8"/>
<rect x="365.3" y="187.6" width="0.9" height="0.9" fill="#ffffff"/>
<rect x="360.0" y="197.5" width="0.9" height="0.9" fill="#48c0b8"/>
<rect x="373.0" y="176.0" width="0.9" height="0.9" fill="#3a9a48"/>
<rect x="360.3" y="178.6" width="0.9" height="0.9" fill="#6aa040"/>
<rect x="363.2" y="183.2" width="0.9" height="0.9" fill="#3a9a48"/>
<rect x="371.4" y="172.8" width="0.9" height="0.9" fill="#1f7a70"/>
<rect x="364.4" y="197.8" width="0.9" height="0.9" fill="#3a9a48"/>
<rect x="363.1" y="199.4" width="0.9" height="0.9" fill="#3a9a48"/>
<rect x="357.2" y="187.3" width="0.9" height="0.9" fill="#48c0b8"/>
<rect x="364.9" y="185.3" width="0.9" height="0.9" fill="#2a8a50"/>
<rect x="363.4" y="175.2" width="0.9" height="0.9" fill="#48c0b8"/>
<rect x="365.8" y="202.7" width="0.9" height="0.9" fill="#3a9a48"/>
<rect x="361.1" y="179.0" width="0.9" height="0.9" fill="#2aa8a8"/>
<rect x="367.9" y="168.3" width="0.9" height="0.9" fill="#6aa040"/>
<rect x="369.7" y="173.2" width="0.9" height="0.9" fill="#ffffff"/>
<rect x="368.2" y="170.1" width="0.9" height="0.9" fill="#2aa8a8"/>
<rect x="363.2" y="185.6" width="0.9" height="0.9" fill="#6aa040"/>
<rect x="368.7" y="167.8" width="0.9" height="0.9" fill="#48c0b8"/>
<rect x="368.6" y="176.0" width="0.9" height="0.9" fill="#6aa040"/>
<rect x="364.9" y="189.5" width="0.9" height="0.9" fill="#ffffff"/>
<rect x="370.9" y="185.2" width="0.9" height="0.9" fill="#2aa8a8"/>
<rect x="361.4" y="192.9" width="0.9" height="0.9" fill="#ffffff"/>
<rect x="367.7" y="163.4" width="0.9" height="0.9" fill="#3a9a48"/>
<rect x="356.7" y="188.3" width="0.9" height="0.9" fill="#3a9a48"/>
<rect x="372.2" y="173.6" width="0.9" height="0.9" fill="#3a9a48"/>
<rect x="369.5" y="160.6" width="0.9" height="0.9" fill="#6aa040"/>
<rect x="358.5" y="187.4" width="0.9" height="0.9" fill="#6aa040"/>
<rect x="359.0" y="194.0" width="0.9" height="0.9" fill="#2a8a50"/>
<rect x="362.1" y="179.0" width="0.9" height="0.9" fill="#6aa040"/>
<rect x="362.7" y="189.5" width="0.9" height="0.9" fill="#6aa040"/>
<rect x="361.8" y="201.1" width="0.9" height="0.9" fill="#2a8a50"/>
<rect x="362.4" y="196.0" width="0.9" height="0.9" fill="#6aa040"/>
<rect x="369.1" y="180.2" width="0.9" height="0.9" fill="#6aa040"/>
<rect x="368.6" y="182.0" width="0.9" height="0.9" fill="#2a8a50"/>
<rect x="360.0" y="197.7" width="0.9" height="0.9" fill="#3a9a48"/>
<rect x="366.0" y="181.8" width="0.9" height="0.9" fill="#2aa8a8"/>
<rect x="367.9" y="176.9" width="0.9" height="0.9" fill="#1f7a70"/>
<rect x="357.6" y="182.5" width="0.9" height="0.9" fill="#6aa040"/>
<rect x="359.5" y="197.4" width="0.9" height="0.9" fill="#6aa040"/>
<rect x="360.2" y="192.3" width="0.9" height="0.9" fill="#3a9a48"/>
<rect x="366.0" y="181.6" width="0.9" height="0.9" fill="#48c0b8"/>
<rect x="368.6" y="166.9" width="0.9" height="0.9" fill="#1f7a70"/>
<rect x="364.8" y="182.5" width="0.9" height="0.9" fill="#6aa040"/>
<rect x="358.2" y="160.1" width="0.9" height="0.9" fill="#2aa8a8"/>
<rect x="359.6" y="170.6" width="0.9" height="0.9" fill="#1f7a70"/>
<rect x="361.0" y="181.7" width="0.9" height="0.9" fill="#1f7a70"/>
<rect x="364.4" y="183.4" width="0.9" height="0.9" fill="#ffffff"/>
<rect x="363.4" y="178.9" width="0.9" height="0.9" fill="#ffffff"/>
<rect x="371.6" y="160.4" width="0.9" height="0.9" fill="#3a9a48"/>
<rect x="366.0" y="160.5" width="0.9" height="0.9" fill="#ffffff"/>
<rect x="356.4" y="164.5" width="0.9" height="0.9" fill="#48c0b8"/>
<rect x="357.7" y="169.0" width="0.9" height="0.9" fill="#1f7a70"/>
<rect x="368.2" y="167.8" width="0.9" height="0.9" fill="#1f7a70"/>
<rect x="364.1" y="171.2" width="0.9" height="0.9" fill="#ffffff"/>
<rect x="364.6" y="198.1" width="0.9" height="0.9" fill="#3a9a48"/>
<rect x="360.6" y="192.1" width="0.9" height="0.9" fill="#48c0b8"/>
<rect x="367.8" y="195.2" width="0.9" height="0.9" fill="#ffffff"/>
<rect x="362.6" y="179.0" width="0.9" height="0.9" fill="#6aa040"/>
<g filter="url(#fb2)">
<ellipse cx="365.00" cy="178.20" rx="2.6" ry="4.0" fill="#e85a18"/>
<ellipse cx="360.30" cy="191.70" rx="2.3" ry="3.1" fill="#d86020"/>
</g>
<rect x="364.5" y="175.2" width="0.9" height="0.9" fill="#c86a30"/>
<rect x="361.7" y="189.7" width="0.9" height="0.9" fill="#e07020"/>
<rect x="362.6" y="185.4" width="0.9" height="0.9" fill="#d08040"/>
<rect x="363.3" y="182.9" width="0.9" height="0.9" fill="#c86a30"/>
<rect x="361.4" y="188.5" width="0.9" height="0.9" fill="#e07020"/>
<rect x="363.8" y="185.5" width="0.9" height="0.9" fill="#d08040"/>
<rect x="364.4" y="186.1" width="0.9" height="0.9" fill="#e07020"/>
<rect x="366.6" y="175.9" width="0.9" height="0.9" fill="#c86a30"/>
<rect x="362.5" y="183.1" width="0.9" height="0.9" fill="#e07020"/>
<rect x="365.6" y="172.8" width="0.9" height="0.9" fill="#d08040"/>
<rect x="364.8" y="183.2" width="0.9" height="0.9" fill="#e07020"/>
<rect x="362.6" y="187.8" width="0.9" height="0.9" fill="#e07020"/>
<rect x="362.1" y="190.2" width="0.9" height="0.9" fill="#d08040"/>
<rect x="368.0" y="179.0" width="0.9" height="0.9" fill="#e07020"/>
<rect x="366.8" y="178.3" width="0.9" height="0.9" fill="#d08040"/>
<rect x="363.8" y="176.2" width="0.9" height="0.9" fill="#c86a30"/>
<rect x="365.9" y="179.4" width="0.9" height="0.9" fill="#e07020"/>
<rect x="363.7" y="187.6" width="0.9" height="0.9" fill="#e07020"/>
<rect x="364.0" y="181.6" width="0.9" height="0.9" fill="#c86a30"/>
<rect x="362.2" y="186.0" width="0.9" height="0.9" fill="#c86a30"/>
<rect x="362.8" y="189.2" width="0.9" height="0.9" fill="#e07020"/>
<rect x="365.3" y="177.6" width="0.9" height="0.9" fill="#e07020"/>
<rect x="362.8" y="190.2" width="0.9" height="0.9" fill="#e07020"/>
<rect x="364.8" y="179.2" width="0.9" height="0.9" fill="#e07020"/>
<rect x="362.6" y="188.8" width="0.9" height="0.9" fill="#c86a30"/>
<rect x="364.3" y="180.0" width="0.9" height="0.9" fill="#d08040"/>
<rect x="364.5" y="180.6" width="0.9" height="0.9" fill="#e07020"/>
<rect x="359.9" y="192.4" width="0.9" height="0.9" fill="#d08040"/>
<rect x="363.6" y="186.8" width="0.9" height="0.9" fill="#d08040"/>
<rect x="363.9" y="181.4" width="0.9" height="0.9" fill="#e07020"/>
<line x1="340.50" y1="138.50" x2="340.50" y2="206.50" stroke="#959ab5" stroke-width="1.1"/>
<line x1="340.50" y1="206.50" x2="404.50" y2="206.50" stroke="#6a6f8a" stroke-width="1.0"/>
<line x1="363.50" y1="139.00" x2="363.50" y2="206.50" stroke="#9c9ca4" stroke-width="0.9"/>
<line x1="340.50" y1="179.50" x2="404.50" y2="179.50" stroke="#8a90a8" stroke-width="0.9"/>
<text x="337.20" y="148.30" font-size="5.9" text-anchor="end" fill="#333" stroke="#333" stroke-width="0.18">10<tspan font-size="3.89" dy="-2.48">5</tspan></text>
<text x="337.20" y="163.00" font-size="5.9" text-anchor="end" fill="#333" stroke="#333" stroke-width="0.18">10<tspan font-size="3.89" dy="-2.48">4</tspan></text>
<text x="337.20" y="178.30" font-size="5.9" text-anchor="end" fill="#333" stroke="#333" stroke-width="0.18">10<tspan font-size="3.89" dy="-2.48">3</tspan></text>
<text x="337.20" y="194.30" font-size="5.9" text-anchor="end" fill="#333" stroke="#333" stroke-width="0.18">10<tspan font-size="3.89" dy="-2.48">2</tspan></text>
<text x="337.20" y="201.10" font-size="5.9" text-anchor="end" fill="#333" stroke="#333" stroke-width="0.18">−10<tspan font-size="3.89" dy="-2.48">1</tspan></text>
<text x="337.20" y="207.10" font-size="5.9" text-anchor="end" fill="#333" stroke="#333" stroke-width="0.18">−10<tspan font-size="3.89" dy="-2.48">2</tspan></text>
<text x="343.50" y="214.90" font-size="6.2" text-anchor="end" fill="#333" stroke="#333" stroke-width="0.18">−10<tspan font-size="4.09" dy="-2.60">1</tspan></text>
<text x="357.20" y="214.90" font-size="6.2" text-anchor="end" fill="#333" stroke="#333" stroke-width="0.18">10<tspan font-size="4.09" dy="-2.60">2</tspan></text>
<text x="373.00" y="214.90" font-size="6.2" text-anchor="end" fill="#333" stroke="#333" stroke-width="0.18">10<tspan font-size="4.09" dy="-2.60">3</tspan></text>
<text x="390.50" y="214.90" font-size="6.2" text-anchor="end" fill="#333" stroke="#333" stroke-width="0.18">10<tspan font-size="4.09" dy="-2.60">4</tspan></text>
<text x="408.30" y="214.90" font-size="6.2" text-anchor="end" fill="#333" stroke="#333" stroke-width="0.18">10<tspan font-size="4.09" dy="-2.60">5</tspan></text>
<text x="340.80" y="144.00" font-size="5.8" text-anchor="start" fill="#222" textLength="21.87" lengthAdjust="spacingAndGlyphs" stroke="#222" stroke-width="0.18">19.97%</text>
<text x="404.30" y="144.00" font-size="5.8" text-anchor="end" fill="#222" textLength="21.87" lengthAdjust="spacingAndGlyphs" stroke="#222" stroke-width="0.18">32.99%</text>
<text x="340.80" y="205.90" font-size="5.8" text-anchor="start" fill="#222" textLength="21.87" lengthAdjust="spacingAndGlyphs" stroke="#222" stroke-width="0.18">29.99%</text>
<text x="404.30" y="205.90" font-size="5.8" text-anchor="end" fill="#222" textLength="21.87" lengthAdjust="spacingAndGlyphs" stroke="#222" stroke-width="0.18">17.05%</text>
<text x="317.30" y="172.30" font-size="6.8" text-anchor="middle" fill="#222" font-weight="bold" textLength="17.50" lengthAdjust="spacingAndGlyphs" transform="rotate(-90 317.30 172.30)" stroke="#222" stroke-width="0.18">APC-A</text>
<text x="371.70" y="226.70" font-size="8.4" text-anchor="middle" fill="#222" textLength="39.20" lengthAdjust="spacingAndGlyphs" stroke="#222" stroke-width="0.4">PerCP-Cy5-5-A</text>
<line x1="204.90" y1="193.50" x2="204.90" y2="234.40" stroke="#111" stroke-width="0.9"/>
<line x1="204.90" y1="234.40" x2="255.00" y2="234.40" stroke="#111" stroke-width="0.9"/>
<path d="M204.9 191.2 L203.2 195.2 L206.6 195.2 Z" stroke="#111" stroke-width="0.3" fill="#111"/>
<path d="M257.2 234.4 L253.2 232.7 L253.2 236.1 Z" stroke="#111" stroke-width="0.3" fill="#111"/>
<text x="199.60" y="213.10" font-size="6.2" text-anchor="middle" fill="#222" textLength="25.20" lengthAdjust="spacingAndGlyphs" transform="rotate(-90 199.60 213.10)" stroke="#222" stroke-width="0.18">Annexin V</text>
<text x="231.20" y="242.40" font-size="6.3" text-anchor="middle" fill="#222" textLength="16.20" lengthAdjust="spacingAndGlyphs" stroke="#222" stroke-width="0.18">7AAD</text>
<line x1="453.50" y1="86.00" x2="453.50" y2="160.60" stroke="#222" stroke-width="1.4"/>
<line x1="453.00" y1="160.20" x2="512.00" y2="160.20" stroke="#222" stroke-width="1.0"/>
<line x1="451.00" y1="160.40" x2="453.50" y2="160.40" stroke="#222" stroke-width="0.9"/>
<text x="448.60" y="162.60" font-size="6.3" text-anchor="end" fill="#222" stroke="#222" stroke-width="0.18">0</text>
<line x1="451.00" y1="136.48" x2="453.50" y2="136.48" stroke="#222" stroke-width="0.9"/>
<text x="448.60" y="138.68" font-size="6.3" text-anchor="end" fill="#222" stroke="#222" stroke-width="0.18">20</text>
<line x1="451.00" y1="112.56" x2="453.50" y2="112.56" stroke="#222" stroke-width="0.9"/>
<text x="448.60" y="114.76" font-size="6.3" text-anchor="end" fill="#222" stroke="#222" stroke-width="0.18">40</text>
<line x1="451.00" y1="88.64" x2="453.50" y2="88.64" stroke="#222" stroke-width="0.9"/>
<text x="448.60" y="90.84" font-size="6.3" text-anchor="end" fill="#222" stroke="#222" stroke-width="0.18">60</text>
<text x="435.40" y="124.00" font-size="7.4" text-anchor="middle" fill="#222" textLength="49.30" lengthAdjust="spacingAndGlyphs" transform="rotate(-90 435.40 124.00)" stroke="#222" stroke-width="0.3">Apoptotic cells (%)</text>
<rect x="456.80" y="155.62" width="7.10" height="4.58" fill="#cfcfd4"/>
<line x1="460.35" y1="155.62" x2="460.35" y2="154.18" stroke="#222" stroke-width="0.8"/>
<line x1="458.15" y1="154.18" x2="462.55" y2="154.18" stroke="#222" stroke-width="0.8"/>
<rect x="471.40" y="142.22" width="9.00" height="17.98" fill="#3aa338"/>
<line x1="475.90" y1="142.22" x2="475.90" y2="141.50" stroke="#222" stroke-width="0.8"/>
<line x1="473.70" y1="141.50" x2="478.10" y2="141.50" stroke="#222" stroke-width="0.8"/>
<rect x="486.40" y="135.76" width="8.60" height="24.44" fill="#f7b500"/>
<line x1="490.70" y1="135.76" x2="490.70" y2="134.57" stroke="#222" stroke-width="0.8"/>
<line x1="488.50" y1="134.57" x2="492.90" y2="134.57" stroke="#222" stroke-width="0.8"/>
<rect x="500.80" y="97.01" width="9.00" height="63.19" fill="#c8102e"/>
<line x1="505.30" y1="97.01" x2="505.30" y2="95.94" stroke="#222" stroke-width="0.8"/>
<line x1="503.10" y1="95.94" x2="507.50" y2="95.94" stroke="#222" stroke-width="0.8"/>
<line x1="460.40" y1="160.20" x2="460.40" y2="162.40" stroke="#222" stroke-width="0.8"/>
<line x1="475.90" y1="160.20" x2="475.90" y2="162.40" stroke="#222" stroke-width="0.8"/>
<line x1="490.70" y1="160.20" x2="490.70" y2="162.40" stroke="#222" stroke-width="0.8"/>
<line x1="505.30" y1="160.20" x2="505.30" y2="162.40" stroke="#222" stroke-width="0.8"/>
<line x1="471.40" y1="80.90" x2="511.00" y2="80.90" stroke="#555" stroke-width="0.9"/>
<line x1="486.40" y1="92.50" x2="511.00" y2="92.50" stroke="#555" stroke-width="0.9"/>
<text x="489.90" y="80.20" font-size="7.2" text-anchor="middle" fill="#222" font-weight="bold" stroke="#222" stroke-width="0.18">**</text>
<text x="500.30" y="91.80" font-size="7.2" text-anchor="middle" fill="#222" font-weight="bold" stroke="#222" stroke-width="0.18">**</text>
<text x="450.20" y="171.90" font-size="6.0" text-anchor="end" fill="#222" textLength="24.30" lengthAdjust="spacingAndGlyphs" stroke="#222" stroke-width="0.18">Selinexor</text>
<text x="450.60" y="181.70" font-size="6.0" text-anchor="end" fill="#222" textLength="35.30" lengthAdjust="spacingAndGlyphs" stroke="#222" stroke-width="0.18">Rocaglamide</text>
<line x1="459.00" y1="169.80" x2="462.40" y2="169.80" stroke="#222" stroke-width="0.9"/>
<line x1="473.80" y1="169.80" x2="477.20" y2="169.80" stroke="#222" stroke-width="0.9"/>
<line x1="475.50" y1="168.10" x2="475.50" y2="171.50" stroke="#222" stroke-width="0.9"/>
<line x1="488.60" y1="169.80" x2="492.00" y2="169.80" stroke="#222" stroke-width="0.9"/>
<line x1="503.40" y1="169.80" x2="506.80" y2="169.80" stroke="#222" stroke-width="0.9"/>
<line x1="505.10" y1="168.10" x2="505.10" y2="171.50" stroke="#222" stroke-width="0.9"/>
<line x1="459.00" y1="179.60" x2="462.40" y2="179.60" stroke="#222" stroke-width="0.9"/>
<line x1="473.80" y1="179.60" x2="477.20" y2="179.60" stroke="#222" stroke-width="0.9"/>
<line x1="488.60" y1="179.60" x2="492.00" y2="179.60" stroke="#222" stroke-width="0.9"/>
<line x1="490.30" y1="177.90" x2="490.30" y2="181.30" stroke="#222" stroke-width="0.9"/>
<line x1="503.40" y1="179.60" x2="506.80" y2="179.60" stroke="#222" stroke-width="0.9"/>
<line x1="505.10" y1="177.90" x2="505.10" y2="181.30" stroke="#222" stroke-width="0.9"/>
<text x="86.50" y="273.10" font-size="8.0" text-anchor="start" fill="#222" textLength="65.80" lengthAdjust="spacingAndGlyphs" stroke="#222" stroke-width="0.18">Rocaglamide (nM)</text>
<line x1="62.50" y1="281.50" x2="62.50" y2="385.90" stroke="#111" stroke-width="1.4"/>
<line x1="62.00" y1="385.50" x2="161.00" y2="385.50" stroke="#111" stroke-width="1.4"/>
<line x1="59.50" y1="385.20" x2="62.50" y2="385.20" stroke="#111" stroke-width="0.8"/>
<text x="56.60" y="387.50" font-size="6.5" text-anchor="end" fill="#222" stroke="#222" stroke-width="0.18">0</text>
<line x1="59.50" y1="368.20" x2="62.50" y2="368.20" stroke="#111" stroke-width="0.8"/>
<text x="56.60" y="370.50" font-size="6.5" text-anchor="end" fill="#222" stroke="#222" stroke-width="0.18">20</text>
<line x1="59.50" y1="351.20" x2="62.50" y2="351.20" stroke="#111" stroke-width="0.8"/>
<text x="56.60" y="353.50" font-size="6.5" text-anchor="end" fill="#222" stroke="#222" stroke-width="0.18">40</text>
<line x1="59.50" y1="334.20" x2="62.50" y2="334.20" stroke="#111" stroke-width="0.8"/>
<text x="56.60" y="336.50" font-size="6.5" text-anchor="end" fill="#222" stroke="#222" stroke-width="0.18">60</text>
<line x1="59.50" y1="317.20" x2="62.50" y2="317.20" stroke="#111" stroke-width="0.8"/>
<text x="56.60" y="319.50" font-size="6.5" text-anchor="end" fill="#222" stroke="#222" stroke-width="0.18">80</text>
<line x1="59.50" y1="300.20" x2="62.50" y2="300.20" stroke="#111" stroke-width="0.8"/>
<text x="56.60" y="302.50" font-size="6.5" text-anchor="end" fill="#222" stroke="#222" stroke-width="0.18">100</text>
<line x1="59.50" y1="283.20" x2="62.50" y2="283.20" stroke="#111" stroke-width="0.8"/>
<text x="56.60" y="285.50" font-size="6.5" text-anchor="end" fill="#222" stroke="#222" stroke-width="0.18">120</text>
<line x1="61.40" y1="381.80" x2="63.60" y2="381.80" stroke="#111" stroke-width="0.45"/>
<line x1="61.40" y1="378.40" x2="63.60" y2="378.40" stroke="#111" stroke-width="0.45"/>
<line x1="61.40" y1="375.00" x2="63.60" y2="375.00" stroke="#111" stroke-width="0.45"/>
<line x1="61.40" y1="371.60" x2="63.60" y2="371.60" stroke="#111" stroke-width="0.45"/>
<line x1="61.40" y1="364.80" x2="63.60" y2="364.80" stroke="#111" stroke-width="0.45"/>
<line x1="61.40" y1="361.40" x2="63.60" y2="361.40" stroke="#111" stroke-width="0.45"/>
<line x1="61.40" y1="358.00" x2="63.60" y2="358.00" stroke="#111" stroke-width="0.45"/>
<line x1="61.40" y1="354.60" x2="63.60" y2="354.60" stroke="#111" stroke-width="0.45"/>
<line x1="61.40" y1="347.80" x2="63.60" y2="347.80" stroke="#111" stroke-width="0.45"/>
<line x1="61.40" y1="344.40" x2="63.60" y2="344.40" stroke="#111" stroke-width="0.45"/>
<line x1="61.40" y1="341.00" x2="63.60" y2="341.00" stroke="#111" stroke-width="0.45"/>
<line x1="61.40" y1="337.60" x2="63.60" y2="337.60" stroke="#111" stroke-width="0.45"/>
<line x1="61.40" y1="330.80" x2="63.60" y2="330.80" stroke="#111" stroke-width="0.45"/>
<line x1="61.40" y1="327.40" x2="63.60" y2="327.40" stroke="#111" stroke-width="0.45"/>
<line x1="61.40" y1="324.00" x2="63.60" y2="324.00" stroke="#111" stroke-width="0.45"/>
<line x1="61.40" y1="320.60" x2="63.60" y2="320.60" stroke="#111" stroke-width="0.45"/>
<line x1="61.40" y1="313.80" x2="63.60" y2="313.80" stroke="#111" stroke-width="0.45"/>
<line x1="61.40" y1="310.40" x2="63.60" y2="310.40" stroke="#111" stroke-width="0.45"/>
<line x1="61.40" y1="307.00" x2="63.60" y2="307.00" stroke="#111" stroke-width="0.45"/>
<line x1="61.40" y1="303.60" x2="63.60" y2="303.60" stroke="#111" stroke-width="0.45"/>
<line x1="61.40" y1="296.80" x2="63.60" y2="296.80" stroke="#111" stroke-width="0.45"/>
<line x1="61.40" y1="293.40" x2="63.60" y2="293.40" stroke="#111" stroke-width="0.45"/>
<line x1="61.40" y1="290.00" x2="63.60" y2="290.00" stroke="#111" stroke-width="0.45"/>
<line x1="61.40" y1="286.60" x2="63.60" y2="286.60" stroke="#111" stroke-width="0.45"/>
<line x1="73.20" y1="385.50" x2="73.20" y2="387.80" stroke="#111" stroke-width="0.8"/>
<line x1="94.50" y1="385.50" x2="94.50" y2="387.80" stroke="#111" stroke-width="0.8"/>
<line x1="116.00" y1="385.50" x2="116.00" y2="387.80" stroke="#111" stroke-width="0.8"/>
<line x1="137.50" y1="385.50" x2="137.50" y2="387.80" stroke="#111" stroke-width="0.8"/>
<line x1="158.80" y1="385.50" x2="158.80" y2="387.80" stroke="#111" stroke-width="0.8"/>
<line x1="73.20" y1="385.50" x2="73.20" y2="386.90" stroke="#111" stroke-width="0.45"/>
<line x1="75.34" y1="385.50" x2="75.34" y2="386.90" stroke="#111" stroke-width="0.45"/>
<line x1="77.48" y1="385.50" x2="77.48" y2="386.90" stroke="#111" stroke-width="0.45"/>
<line x1="79.62" y1="385.50" x2="79.62" y2="386.90" stroke="#111" stroke-width="0.45"/>
<line x1="81.76" y1="385.50" x2="81.76" y2="386.90" stroke="#111" stroke-width="0.45"/>
<line x1="83.90" y1="385.50" x2="83.90" y2="386.90" stroke="#111" stroke-width="0.45"/>
<line x1="86.04" y1="385.50" x2="86.04" y2="386.90" stroke="#111" stroke-width="0.45"/>
<line x1="88.18" y1="385.50" x2="88.18" y2="386.90" stroke="#111" stroke-width="0.45"/>
<line x1="90.32" y1="385.50" x2="90.32" y2="386.90" stroke="#111" stroke-width="0.45"/>
<line x1="92.46" y1="385.50" x2="92.46" y2="386.90" stroke="#111" stroke-width="0.45"/>
<line x1="94.60" y1="385.50" x2="94.60" y2="386.90" stroke="#111" stroke-width="0.45"/>
<line x1="96.74" y1="385.50" x2="96.74" y2="386.90" stroke="#111" stroke-width="0.45"/>
<line x1="98.88" y1="385.50" x2="98.88" y2="386.90" stroke="#111" stroke-width="0.45"/>
<line x1="101.02" y1="385.50" x2="101.02" y2="386.90" stroke="#111" stroke-width="0.45"/>
<line x1="103.16" y1="385.50" x2="103.16" y2="386.90" stroke="#111" stroke-width="0.45"/>
<line x1="105.30" y1="385.50" x2="105.30" y2="386.90" stroke="#111" stroke-width="0.45"/>
<line x1="107.44" y1="385.50" x2="107.44" y2="386.90" stroke="#111" stroke-width="0.45"/>
<line x1="109.58" y1="385.50" x2="109.58" y2="386.90" stroke="#111" stroke-width="0.45"/>
<line x1="111.72" y1="385.50" x2="111.72" y2="386.90" stroke="#111" stroke-width="0.45"/>
<line x1="113.86" y1="385.50" x2="113.86" y2="386.90" stroke="#111" stroke-width="0.45"/>
<line x1="116.00" y1="385.50" x2="116.00" y2="386.90" stroke="#111" stroke-width="0.45"/>
<line x1="118.14" y1="385.50" x2="118.14" y2="386.90" stroke="#111" stroke-width="0.45"/>
<line x1="120.28" y1="385.50" x2="120.28" y2="386.90" stroke="#111" stroke-width="0.45"/>
<line x1="122.42" y1="385.50" x2="122.42" y2="386.90" stroke="#111" stroke-width="0.45"/>
<line x1="124.56" y1="385.50" x2="124.56" y2="386.90" stroke="#111" stroke-width="0.45"/>
<line x1="126.70" y1="385.50" x2="126.70" y2="386.90" stroke="#111" stroke-width="0.45"/>
<line x1="128.84" y1="385.50" x2="128.84" y2="386.90" stroke="#111" stroke-width="0.45"/>
<line x1="130.98" y1="385.50" x2="130.98" y2="386.90" stroke="#111" stroke-width="0.45"/>
<line x1="133.12" y1="385.50" x2="133.12" y2="386.90" stroke="#111" stroke-width="0.45"/>
<line x1="135.26" y1="385.50" x2="135.26" y2="386.90" stroke="#111" stroke-width="0.45"/>
<line x1="137.40" y1="385.50" x2="137.40" y2="386.90" stroke="#111" stroke-width="0.45"/>
<line x1="139.54" y1="385.50" x2="139.54" y2="386.90" stroke="#111" stroke-width="0.45"/>
<line x1="141.68" y1="385.50" x2="141.68" y2="386.90" stroke="#111" stroke-width="0.45"/>
<line x1="143.82" y1="385.50" x2="143.82" y2="386.90" stroke="#111" stroke-width="0.45"/>
<line x1="145.96" y1="385.50" x2="145.96" y2="386.90" stroke="#111" stroke-width="0.45"/>
<line x1="148.10" y1="385.50" x2="148.10" y2="386.90" stroke="#111" stroke-width="0.45"/>
<line x1="150.24" y1="385.50" x2="150.24" y2="386.90" stroke="#111" stroke-width="0.45"/>
<line x1="152.38" y1="385.50" x2="152.38" y2="386.90" stroke="#111" stroke-width="0.45"/>
<line x1="154.52" y1="385.50" x2="154.52" y2="386.90" stroke="#111" stroke-width="0.45"/>
<line x1="156.66" y1="385.50" x2="156.66" y2="386.90" stroke="#111" stroke-width="0.45"/>
<line x1="158.80" y1="385.50" x2="158.80" y2="386.90" stroke="#111" stroke-width="0.45"/>
<text x="38.80" y="332.00" font-size="6.0" text-anchor="middle" fill="#222" textLength="80.00" lengthAdjust="spacingAndGlyphs" transform="rotate(-90 38.80 332.00)" stroke="#222" stroke-width="0.18">Proliferation relative control %</text>
<text x="56.30" y="396.00" font-size="6.0" text-anchor="end" fill="#222" textLength="38.50" lengthAdjust="spacingAndGlyphs" stroke="#222" stroke-width="0.18">Selinexor (nM)</text>
<text x="75.26" y="396.06" font-size="6.3" text-anchor="middle" fill="#222" stroke="#222" stroke-width="0.18" transform="rotate(-45 75.26 396.06)">0</text>
<text x="95.36" y="397.06" font-size="6.3" text-anchor="middle" fill="#222" stroke="#222" stroke-width="0.18" transform="rotate(-45 95.36 397.06)">50</text>
<text x="116.96" y="397.96" font-size="6.3" text-anchor="middle" fill="#222" stroke="#222" stroke-width="0.18" transform="rotate(-45 116.96 397.96)">100</text>
<text x="138.66" y="397.96" font-size="6.3" text-anchor="middle" fill="#222" stroke="#222" stroke-width="0.18" transform="rotate(-45 138.66 397.96)">200</text>
<text x="159.86" y="397.96" font-size="6.3" text-anchor="middle" fill="#222" stroke="#222" stroke-width="0.18" transform="rotate(-45 159.86 397.96)">400</text>
<polyline points="73.20,362.50 94.50,376.27 116.00,376.27 137.50,377.30 158.80,380.10" fill="none" stroke="#1f5a86" stroke-width="1.1"/>
<circle cx="73.20" cy="362.50" r="1.1" fill="#1f5a86"/>
<line x1="73.20" y1="364.20" x2="73.20" y2="360.81" stroke="#1f5a86" stroke-width="0.8"/>
<line x1="71.90" y1="360.81" x2="74.50" y2="360.81" stroke="#1f5a86" stroke-width="0.8"/>
<circle cx="94.50" cy="376.27" r="1.1" fill="#1f5a86"/>
<line x1="94.50" y1="377.12" x2="94.50" y2="375.43" stroke="#1f5a86" stroke-width="0.8"/>
<line x1="93.20" y1="375.43" x2="95.80" y2="375.43" stroke="#1f5a86" stroke-width="0.8"/>
<circle cx="116.00" cy="376.27" r="1.1" fill="#1f5a86"/>
<line x1="116.00" y1="377.12" x2="116.00" y2="375.43" stroke="#1f5a86" stroke-width="0.8"/>
<line x1="114.70" y1="375.43" x2="117.30" y2="375.43" stroke="#1f5a86" stroke-width="0.8"/>
<circle cx="137.50" cy="377.30" r="1.1" fill="#1f5a86"/>
<line x1="137.50" y1="378.14" x2="137.50" y2="376.44" stroke="#1f5a86" stroke-width="0.8"/>
<line x1="136.20" y1="376.44" x2="138.80" y2="376.44" stroke="#1f5a86" stroke-width="0.8"/>
<circle cx="158.80" cy="380.10" r="1.1" fill="#1f5a86"/>
<line x1="158.80" y1="380.95" x2="158.80" y2="379.25" stroke="#1f5a86" stroke-width="0.8"/>
<line x1="157.50" y1="379.25" x2="160.10" y2="379.25" stroke="#1f5a86" stroke-width="0.8"/>
<polyline points="73.20,347.55 94.50,375.00 116.00,375.00 137.50,375.51 158.80,379.50" fill="none" stroke="#4f9c58" stroke-width="1.1"/>
<circle cx="73.20" cy="347.55" r="1.1" fill="#4f9c58"/>
<line x1="73.20" y1="348.39" x2="73.20" y2="346.69" stroke="#4f9c58" stroke-width="0.8"/>
<line x1="71.90" y1="346.69" x2="74.50" y2="346.69" stroke="#4f9c58" stroke-width="0.8"/>
<circle cx="94.50" cy="375.00" r="1.1" fill="#4f9c58"/>
<line x1="94.50" y1="375.85" x2="94.50" y2="374.15" stroke="#4f9c58" stroke-width="0.8"/>
<line x1="93.20" y1="374.15" x2="95.80" y2="374.15" stroke="#4f9c58" stroke-width="0.8"/>
<circle cx="116.00" cy="375.00" r="1.1" fill="#4f9c58"/>
<line x1="116.00" y1="376.02" x2="116.00" y2="373.98" stroke="#4f9c58" stroke-width="0.8"/>
<line x1="114.70" y1="373.98" x2="117.30" y2="373.98" stroke="#4f9c58" stroke-width="0.8"/>
<circle cx="137.50" cy="375.51" r="1.1" fill="#4f9c58"/>
<line x1="137.50" y1="376.78" x2="137.50" y2="374.24" stroke="#4f9c58" stroke-width="0.8"/>
<line x1="136.20" y1="374.24" x2="138.80" y2="374.24" stroke="#4f9c58" stroke-width="0.8"/>
<circle cx="158.80" cy="379.50" r="1.1" fill="#4f9c58"/>
<line x1="158.80" y1="380.35" x2="158.80" y2="378.65" stroke="#4f9c58" stroke-width="0.8"/>
<line x1="157.50" y1="378.65" x2="160.10" y2="378.65" stroke="#4f9c58" stroke-width="0.8"/>
<polyline points="73.20,340.75 94.50,360.04 116.00,363.95 137.50,370.50 158.80,376.70" fill="none" stroke="#b8cc8f" stroke-width="1.1"/>
<circle cx="73.20" cy="340.75" r="1.1" fill="#b8cc8f"/>
<line x1="73.20" y1="343.72" x2="73.20" y2="337.77" stroke="#b8cc8f" stroke-width="0.8"/>
<line x1="71.90" y1="337.77" x2="74.50" y2="337.77" stroke="#b8cc8f" stroke-width="0.8"/>
<circle cx="94.50" cy="360.04" r="1.1" fill="#b8cc8f"/>
<line x1="94.50" y1="360.89" x2="94.50" y2="359.19" stroke="#b8cc8f" stroke-width="0.8"/>
<line x1="93.20" y1="359.19" x2="95.80" y2="359.19" stroke="#b8cc8f" stroke-width="0.8"/>
<circle cx="116.00" cy="363.95" r="1.1" fill="#b8cc8f"/>
<line x1="116.00" y1="364.80" x2="116.00" y2="363.10" stroke="#b8cc8f" stroke-width="0.8"/>
<line x1="114.70" y1="363.10" x2="117.30" y2="363.10" stroke="#b8cc8f" stroke-width="0.8"/>
<circle cx="137.50" cy="370.50" r="1.1" fill="#b8cc8f"/>
<line x1="137.50" y1="372.19" x2="137.50" y2="368.79" stroke="#b8cc8f" stroke-width="0.8"/>
<line x1="136.20" y1="368.79" x2="138.80" y2="368.79" stroke="#b8cc8f" stroke-width="0.8"/>
<circle cx="158.80" cy="376.70" r="1.1" fill="#b8cc8f"/>
<line x1="158.80" y1="377.55" x2="158.80" y2="375.85" stroke="#b8cc8f" stroke-width="0.8"/>
<line x1="157.50" y1="375.85" x2="160.10" y2="375.85" stroke="#b8cc8f" stroke-width="0.8"/>
<polyline points="73.20,322.47 94.50,348.74 116.00,355.45 137.50,365.74 158.80,372.62" fill="none" stroke="#d81b8c" stroke-width="1.1"/>
<circle cx="73.20" cy="322.47" r="1.1" fill="#d81b8c"/>
<line x1="73.20" y1="325.02" x2="73.20" y2="319.92" stroke="#d81b8c" stroke-width="0.8"/>
<line x1="71.90" y1="319.92" x2="74.50" y2="319.92" stroke="#d81b8c" stroke-width="0.8"/>
<circle cx="94.50" cy="348.74" r="1.1" fill="#d81b8c"/>
<line x1="94.50" y1="349.58" x2="94.50" y2="347.88" stroke="#d81b8c" stroke-width="0.8"/>
<line x1="93.20" y1="347.88" x2="95.80" y2="347.88" stroke="#d81b8c" stroke-width="0.8"/>
<circle cx="116.00" cy="355.45" r="1.1" fill="#d81b8c"/>
<line x1="116.00" y1="356.72" x2="116.00" y2="354.18" stroke="#d81b8c" stroke-width="0.8"/>
<line x1="114.70" y1="354.18" x2="117.30" y2="354.18" stroke="#d81b8c" stroke-width="0.8"/>
<circle cx="137.50" cy="365.74" r="1.1" fill="#d81b8c"/>
<line x1="137.50" y1="369.56" x2="137.50" y2="361.91" stroke="#d81b8c" stroke-width="0.8"/>
<line x1="136.20" y1="361.91" x2="138.80" y2="361.91" stroke="#d81b8c" stroke-width="0.8"/>
<circle cx="158.80" cy="372.62" r="1.1" fill="#d81b8c"/>
<line x1="158.80" y1="374.75" x2="158.80" y2="370.50" stroke="#d81b8c" stroke-width="0.8"/>
<line x1="157.50" y1="370.50" x2="160.10" y2="370.50" stroke="#d81b8c" stroke-width="0.8"/>
<polyline points="73.20,300.20 94.50,330.97 116.00,346.27 137.50,354.43 158.80,359.27" fill="none" stroke="#f0951f" stroke-width="1.1"/>
<circle cx="73.20" cy="300.20" r="1.1" fill="#f0951f"/>
<line x1="73.20" y1="301.22" x2="73.20" y2="299.18" stroke="#f0951f" stroke-width="0.8"/>
<line x1="71.90" y1="299.18" x2="74.50" y2="299.18" stroke="#f0951f" stroke-width="0.8"/>
<circle cx="94.50" cy="330.97" r="1.1" fill="#f0951f"/>
<line x1="94.50" y1="332.25" x2="94.50" y2="329.69" stroke="#f0951f" stroke-width="0.8"/>
<line x1="93.20" y1="329.69" x2="95.80" y2="329.69" stroke="#f0951f" stroke-width="0.8"/>
<circle cx="116.00" cy="346.27" r="1.1" fill="#f0951f"/>
<line x1="116.00" y1="347.12" x2="116.00" y2="345.42" stroke="#f0951f" stroke-width="0.8"/>
<line x1="114.70" y1="345.42" x2="117.30" y2="345.42" stroke="#f0951f" stroke-width="0.8"/>
<circle cx="137.50" cy="354.43" r="1.1" fill="#f0951f"/>
<line x1="137.50" y1="356.56" x2="137.50" y2="352.31" stroke="#f0951f" stroke-width="0.8"/>
<line x1="136.20" y1="352.31" x2="138.80" y2="352.31" stroke="#f0951f" stroke-width="0.8"/>
<circle cx="158.80" cy="359.27" r="1.1" fill="#f0951f"/>
<line x1="158.80" y1="360.29" x2="158.80" y2="358.25" stroke="#f0951f" stroke-width="0.8"/>
<line x1="157.50" y1="358.25" x2="160.10" y2="358.25" stroke="#f0951f" stroke-width="0.8"/>
<line x1="131.30" y1="288.80" x2="138.20" y2="288.80" stroke="#f0951f" stroke-width="1.1"/>
<circle cx="134.75" cy="288.80" r="1.0" fill="#f0951f"/>
<text x="141.30" y="291.00" font-size="6.4" text-anchor="start" fill="#222" stroke="#222" stroke-width="0.18">0</text>
<line x1="131.30" y1="295.50" x2="138.20" y2="295.50" stroke="#d81b8c" stroke-width="1.1"/>
<circle cx="134.75" cy="295.50" r="1.0" fill="#d81b8c"/>
<text x="141.30" y="297.70" font-size="6.4" text-anchor="start" fill="#222" stroke="#222" stroke-width="0.18">12.5</text>
<line x1="131.30" y1="302.20" x2="138.20" y2="302.20" stroke="#b8cc8f" stroke-width="1.1"/>
<circle cx="134.75" cy="302.20" r="1.0" fill="#b8cc8f"/>
<text x="141.30" y="304.40" font-size="6.4" text-anchor="start" fill="#222" stroke="#222" stroke-width="0.18">25</text>
<line x1="131.30" y1="308.90" x2="138.20" y2="308.90" stroke="#4f9c58" stroke-width="1.1"/>
<circle cx="134.75" cy="308.90" r="1.0" fill="#4f9c58"/>
<text x="141.30" y="311.10" font-size="6.4" text-anchor="start" fill="#222" stroke="#222" stroke-width="0.18">50</text>
<line x1="131.30" y1="315.60" x2="138.20" y2="315.60" stroke="#1f5a86" stroke-width="1.1"/>
<circle cx="134.75" cy="315.60" r="1.0" fill="#1f5a86"/>
<text x="141.30" y="317.80" font-size="6.4" text-anchor="start" fill="#222" stroke="#222" stroke-width="0.18">100</text>
<rect x="196.70" y="265.70" width="142.80" height="135.30" fill="#fff" stroke="#9a9a9a" stroke-width="0.8"/>
<rect x="196.70" y="274.20" width="142.80" height="7.40" fill="#f9e4d6"/>
<text x="205.60" y="272.40" font-size="6.2" text-anchor="start" fill="#1a1a1a" font-weight="bold" textLength="125.30" lengthAdjust="spacingAndGlyphs" stroke="#1a1a1a" stroke-width="0.18">CI Data For Non-constant Combo: Sel+Roc</text>
<text x="199.80" y="279.80" font-size="5.9" text-anchor="start" fill="#3a2515" textLength="37.20" lengthAdjust="spacingAndGlyphs" stroke="#3a2515" stroke-width="0.18">Dose Sel (nM)</text>
<text x="242.00" y="279.80" font-size="5.9" text-anchor="start" fill="#3a2515" textLength="38.00" lengthAdjust="spacingAndGlyphs" stroke="#3a2515" stroke-width="0.18">Dose Roc (nM)</text>
<text x="296.20" y="279.80" font-size="5.9" text-anchor="middle" fill="#3a2515" textLength="16.30" lengthAdjust="spacingAndGlyphs" stroke="#3a2515" stroke-width="0.18">Effect</text>
<text x="325.40" y="279.80" font-size="5.9" text-anchor="middle" fill="#3a2515" textLength="5.40" lengthAdjust="spacingAndGlyphs" stroke="#3a2515" stroke-width="0.18">CI</text>
<line x1="196.70" y1="281.60" x2="339.50" y2="281.60" stroke="#5a5a5a" stroke-width="0.9"/>
<text x="198.20" y="287.70" font-size="5.7" text-anchor="start" fill="#1a1a1a" textLength="7.12" lengthAdjust="spacingAndGlyphs" stroke="#1a1a1a" stroke-width="0.18">50</text>
<text x="241.50" y="287.70" font-size="5.7" text-anchor="start" fill="#1a1a1a" textLength="12.46" lengthAdjust="spacingAndGlyphs" stroke="#1a1a1a" stroke-width="0.18">12.5</text>
<text x="283.30" y="287.70" font-size="5.7" text-anchor="start" fill="#1a1a1a" textLength="12.46" lengthAdjust="spacingAndGlyphs" stroke="#1a1a1a" stroke-width="0.18">0.56</text>
<text x="312.20" y="287.70" font-size="5.7" text-anchor="start" fill="#1a1a1a" textLength="23.13" lengthAdjust="spacingAndGlyphs" stroke="#1a1a1a" stroke-width="0.18">0.56503</text>
<line x1="196.70" y1="289.06" x2="339.50" y2="289.06" stroke="#9a9a9a" stroke-width="0.7"/>
<text x="198.20" y="295.16" font-size="5.7" text-anchor="start" fill="#1a1a1a" textLength="10.68" lengthAdjust="spacingAndGlyphs" stroke="#1a1a1a" stroke-width="0.18">100</text>
<text x="241.50" y="295.16" font-size="5.7" text-anchor="start" fill="#1a1a1a" textLength="12.46" lengthAdjust="spacingAndGlyphs" stroke="#1a1a1a" stroke-width="0.18">12.5</text>
<text x="283.30" y="295.16" font-size="5.7" text-anchor="start" fill="#1a1a1a" textLength="12.46" lengthAdjust="spacingAndGlyphs" stroke="#1a1a1a" stroke-width="0.18">0.65</text>
<text x="312.20" y="295.16" font-size="5.7" text-anchor="start" fill="#1a1a1a" textLength="23.13" lengthAdjust="spacingAndGlyphs" stroke="#1a1a1a" stroke-width="0.18">0.55476</text>
<line x1="196.70" y1="296.53" x2="339.50" y2="296.53" stroke="#9a9a9a" stroke-width="0.7"/>
<text x="198.20" y="302.63" font-size="5.7" text-anchor="start" fill="#1a1a1a" textLength="10.68" lengthAdjust="spacingAndGlyphs" stroke="#1a1a1a" stroke-width="0.18">200</text>
<text x="241.50" y="302.63" font-size="5.7" text-anchor="start" fill="#1a1a1a" textLength="12.46" lengthAdjust="spacingAndGlyphs" stroke="#1a1a1a" stroke-width="0.18">12.5</text>
<text x="283.30" y="302.63" font-size="5.7" text-anchor="start" fill="#1a1a1a" textLength="12.46" lengthAdjust="spacingAndGlyphs" stroke="#1a1a1a" stroke-width="0.18">0.78</text>
<text x="312.20" y="302.63" font-size="5.7" text-anchor="start" fill="#1a1a1a" textLength="23.13" lengthAdjust="spacingAndGlyphs" stroke="#1a1a1a" stroke-width="0.18">0.40515</text>
<line x1="196.70" y1="303.99" x2="339.50" y2="303.99" stroke="#9a9a9a" stroke-width="0.7"/>
<text x="198.20" y="310.09" font-size="5.7" text-anchor="start" fill="#1a1a1a" textLength="10.68" lengthAdjust="spacingAndGlyphs" stroke="#1a1a1a" stroke-width="0.18">400</text>
<text x="241.50" y="310.09" font-size="5.7" text-anchor="start" fill="#1a1a1a" textLength="12.46" lengthAdjust="spacingAndGlyphs" stroke="#1a1a1a" stroke-width="0.18">12.5</text>
<text x="283.30" y="310.09" font-size="5.7" text-anchor="start" fill="#1a1a1a" textLength="12.46" lengthAdjust="spacingAndGlyphs" stroke="#1a1a1a" stroke-width="0.18">0.85</text>
<text x="312.20" y="310.09" font-size="5.7" text-anchor="start" fill="#1a1a1a" textLength="19.57" lengthAdjust="spacingAndGlyphs" stroke="#1a1a1a" stroke-width="0.18">0.3866</text>
<line x1="196.70" y1="311.45" x2="339.50" y2="311.45" stroke="#9a9a9a" stroke-width="0.7"/>
<text x="198.20" y="317.55" font-size="5.7" text-anchor="start" fill="#1a1a1a" textLength="7.12" lengthAdjust="spacingAndGlyphs" stroke="#1a1a1a" stroke-width="0.18">50</text>
<text x="241.50" y="317.55" font-size="5.7" text-anchor="start" fill="#1a1a1a" textLength="12.46" lengthAdjust="spacingAndGlyphs" stroke="#1a1a1a" stroke-width="0.18">25.0</text>
<text x="283.30" y="317.55" font-size="5.7" text-anchor="start" fill="#1a1a1a" textLength="8.90" lengthAdjust="spacingAndGlyphs" stroke="#1a1a1a" stroke-width="0.18">0.7</text>
<text x="312.20" y="317.55" font-size="5.7" text-anchor="start" fill="#1a1a1a" textLength="23.13" lengthAdjust="spacingAndGlyphs" stroke="#1a1a1a" stroke-width="0.18">0.40624</text>
<line x1="196.70" y1="318.91" x2="339.50" y2="318.91" stroke="#9a9a9a" stroke-width="0.7"/>
<text x="198.20" y="325.01" font-size="5.7" text-anchor="start" fill="#1a1a1a" textLength="10.68" lengthAdjust="spacingAndGlyphs" stroke="#1a1a1a" stroke-width="0.18">100</text>
<text x="241.50" y="325.01" font-size="5.7" text-anchor="start" fill="#1a1a1a" textLength="12.46" lengthAdjust="spacingAndGlyphs" stroke="#1a1a1a" stroke-width="0.18">25.0</text>
<text x="283.30" y="325.01" font-size="5.7" text-anchor="start" fill="#1a1a1a" textLength="12.46" lengthAdjust="spacingAndGlyphs" stroke="#1a1a1a" stroke-width="0.18">0.75</text>
<text x="312.20" y="325.01" font-size="5.7" text-anchor="start" fill="#1a1a1a" textLength="23.13" lengthAdjust="spacingAndGlyphs" stroke="#1a1a1a" stroke-width="0.18">0.40783</text>
<line x1="196.70" y1="326.38" x2="339.50" y2="326.38" stroke="#9a9a9a" stroke-width="0.7"/>
<text x="198.20" y="332.48" font-size="5.7" text-anchor="start" fill="#1a1a1a" textLength="10.68" lengthAdjust="spacingAndGlyphs" stroke="#1a1a1a" stroke-width="0.18">200</text>
<text x="241.50" y="332.48" font-size="5.7" text-anchor="start" fill="#1a1a1a" textLength="12.46" lengthAdjust="spacingAndGlyphs" stroke="#1a1a1a" stroke-width="0.18">25.0</text>
<text x="283.30" y="332.48" font-size="5.7" text-anchor="start" fill="#1a1a1a" textLength="12.46" lengthAdjust="spacingAndGlyphs" stroke="#1a1a1a" stroke-width="0.18">0.84</text>
<text x="312.20" y="332.48" font-size="5.7" text-anchor="start" fill="#1a1a1a" textLength="23.13" lengthAdjust="spacingAndGlyphs" stroke="#1a1a1a" stroke-width="0.18">0.30395</text>
<line x1="196.70" y1="333.84" x2="339.50" y2="333.84" stroke="#9a9a9a" stroke-width="0.7"/>
<text x="198.20" y="339.94" font-size="5.7" text-anchor="start" fill="#1a1a1a" textLength="10.68" lengthAdjust="spacingAndGlyphs" stroke="#1a1a1a" stroke-width="0.18">400</text>
<text x="241.50" y="339.94" font-size="5.7" text-anchor="start" fill="#1a1a1a" textLength="12.46" lengthAdjust="spacingAndGlyphs" stroke="#1a1a1a" stroke-width="0.18">25.0</text>
<text x="283.30" y="339.94" font-size="5.7" text-anchor="start" fill="#1a1a1a" textLength="8.90" lengthAdjust="spacingAndGlyphs" stroke="#1a1a1a" stroke-width="0.18">0.9</text>
<text x="312.20" y="339.94" font-size="5.7" text-anchor="start" fill="#1a1a1a" textLength="23.13" lengthAdjust="spacingAndGlyphs" stroke="#1a1a1a" stroke-width="0.18">0.24446</text>
<line x1="196.70" y1="341.30" x2="339.50" y2="341.30" stroke="#9a9a9a" stroke-width="0.7"/>
<text x="198.20" y="347.40" font-size="5.7" text-anchor="start" fill="#1a1a1a" textLength="7.12" lengthAdjust="spacingAndGlyphs" stroke="#1a1a1a" stroke-width="0.18">50</text>
<text x="241.50" y="347.40" font-size="5.7" text-anchor="start" fill="#1a1a1a" textLength="12.46" lengthAdjust="spacingAndGlyphs" stroke="#1a1a1a" stroke-width="0.18">50.0</text>
<text x="283.30" y="347.40" font-size="5.7" text-anchor="start" fill="#1a1a1a" textLength="12.46" lengthAdjust="spacingAndGlyphs" stroke="#1a1a1a" stroke-width="0.18">0.89</text>
<text x="312.20" y="347.40" font-size="5.7" text-anchor="start" fill="#1a1a1a" textLength="23.13" lengthAdjust="spacingAndGlyphs" stroke="#1a1a1a" stroke-width="0.18">0.17989</text>
<line x1="196.70" y1="348.76" x2="339.50" y2="348.76" stroke="#9a9a9a" stroke-width="0.7"/>
<text x="198.20" y="354.86" font-size="5.7" text-anchor="start" fill="#1a1a1a" textLength="10.68" lengthAdjust="spacingAndGlyphs" stroke="#1a1a1a" stroke-width="0.18">100</text>
<text x="241.50" y="354.86" font-size="5.7" text-anchor="start" fill="#1a1a1a" textLength="12.46" lengthAdjust="spacingAndGlyphs" stroke="#1a1a1a" stroke-width="0.18">50.0</text>
<text x="283.30" y="354.86" font-size="5.7" text-anchor="start" fill="#1a1a1a" textLength="12.46" lengthAdjust="spacingAndGlyphs" stroke="#1a1a1a" stroke-width="0.18">0.89</text>
<text x="312.20" y="354.86" font-size="5.7" text-anchor="start" fill="#1a1a1a" textLength="23.13" lengthAdjust="spacingAndGlyphs" stroke="#1a1a1a" stroke-width="0.18">0.20526</text>
<line x1="196.70" y1="356.23" x2="339.50" y2="356.23" stroke="#9a9a9a" stroke-width="0.7"/>
<text x="198.20" y="362.33" font-size="5.7" text-anchor="start" fill="#1a1a1a" textLength="10.68" lengthAdjust="spacingAndGlyphs" stroke="#1a1a1a" stroke-width="0.18">200</text>
<text x="241.50" y="362.33" font-size="5.7" text-anchor="start" fill="#1a1a1a" textLength="12.46" lengthAdjust="spacingAndGlyphs" stroke="#1a1a1a" stroke-width="0.18">50.0</text>
<text x="283.30" y="362.33" font-size="5.7" text-anchor="start" fill="#1a1a1a" textLength="8.90" lengthAdjust="spacingAndGlyphs" stroke="#1a1a1a" stroke-width="0.18">0.9</text>
<text x="312.20" y="362.33" font-size="5.7" text-anchor="start" fill="#1a1a1a" textLength="23.13" lengthAdjust="spacingAndGlyphs" stroke="#1a1a1a" stroke-width="0.18">0.22662</text>
<line x1="196.70" y1="363.69" x2="339.50" y2="363.69" stroke="#9a9a9a" stroke-width="0.7"/>
<text x="198.20" y="369.79" font-size="5.7" text-anchor="start" fill="#1a1a1a" textLength="10.68" lengthAdjust="spacingAndGlyphs" stroke="#1a1a1a" stroke-width="0.18">400</text>
<text x="241.50" y="369.79" font-size="5.7" text-anchor="start" fill="#1a1a1a" textLength="12.46" lengthAdjust="spacingAndGlyphs" stroke="#1a1a1a" stroke-width="0.18">50.0</text>
<text x="283.30" y="369.79" font-size="5.7" text-anchor="start" fill="#1a1a1a" textLength="12.46" lengthAdjust="spacingAndGlyphs" stroke="#1a1a1a" stroke-width="0.18">0.94</text>
<text x="312.20" y="369.79" font-size="5.7" text-anchor="start" fill="#1a1a1a" textLength="23.13" lengthAdjust="spacingAndGlyphs" stroke="#1a1a1a" stroke-width="0.18">0.16131</text>
<line x1="196.70" y1="371.15" x2="339.50" y2="371.15" stroke="#9a9a9a" stroke-width="0.7"/>
<text x="198.20" y="377.25" font-size="5.7" text-anchor="start" fill="#1a1a1a" textLength="7.12" lengthAdjust="spacingAndGlyphs" stroke="#1a1a1a" stroke-width="0.18">50</text>
<text x="241.50" y="377.25" font-size="5.7" text-anchor="start" fill="#1a1a1a" textLength="10.68" lengthAdjust="spacingAndGlyphs" stroke="#1a1a1a" stroke-width="0.18">100</text>
<text x="283.30" y="377.25" font-size="5.7" text-anchor="start" fill="#1a1a1a" textLength="12.46" lengthAdjust="spacingAndGlyphs" stroke="#1a1a1a" stroke-width="0.18">0.89</text>
<text x="312.20" y="377.25" font-size="5.7" text-anchor="start" fill="#1a1a1a" textLength="19.57" lengthAdjust="spacingAndGlyphs" stroke="#1a1a1a" stroke-width="0.18">0.3344</text>
<line x1="196.70" y1="378.61" x2="339.50" y2="378.61" stroke="#9a9a9a" stroke-width="0.7"/>
<text x="198.20" y="384.71" font-size="5.7" text-anchor="start" fill="#1a1a1a" textLength="10.68" lengthAdjust="spacingAndGlyphs" stroke="#1a1a1a" stroke-width="0.18">100</text>
<text x="241.50" y="384.71" font-size="5.7" text-anchor="start" fill="#1a1a1a" textLength="10.68" lengthAdjust="spacingAndGlyphs" stroke="#1a1a1a" stroke-width="0.18">100</text>
<text x="283.30" y="384.71" font-size="5.7" text-anchor="start" fill="#1a1a1a" textLength="8.90" lengthAdjust="spacingAndGlyphs" stroke="#1a1a1a" stroke-width="0.18">0.9</text>
<text x="312.20" y="384.71" font-size="5.7" text-anchor="start" fill="#1a1a1a" textLength="23.13" lengthAdjust="spacingAndGlyphs" stroke="#1a1a1a" stroke-width="0.18">0.32208</text>
<line x1="196.70" y1="386.07" x2="339.50" y2="386.07" stroke="#9a9a9a" stroke-width="0.7"/>
<text x="198.20" y="392.18" font-size="5.7" text-anchor="start" fill="#1a1a1a" textLength="10.68" lengthAdjust="spacingAndGlyphs" stroke="#1a1a1a" stroke-width="0.18">200</text>
<text x="241.50" y="392.18" font-size="5.7" text-anchor="start" fill="#1a1a1a" textLength="10.68" lengthAdjust="spacingAndGlyphs" stroke="#1a1a1a" stroke-width="0.18">100</text>
<text x="283.30" y="392.18" font-size="5.7" text-anchor="start" fill="#1a1a1a" textLength="12.46" lengthAdjust="spacingAndGlyphs" stroke="#1a1a1a" stroke-width="0.18">0.91</text>
<text x="312.20" y="392.18" font-size="5.7" text-anchor="start" fill="#1a1a1a" textLength="23.13" lengthAdjust="spacingAndGlyphs" stroke="#1a1a1a" stroke-width="0.18">0.32261</text>
<line x1="196.70" y1="393.54" x2="339.50" y2="393.54" stroke="#9a9a9a" stroke-width="0.7"/>
<text x="198.20" y="399.64" font-size="5.7" text-anchor="start" fill="#1a1a1a" textLength="10.68" lengthAdjust="spacingAndGlyphs" stroke="#1a1a1a" stroke-width="0.18">400</text>
<text x="241.50" y="399.64" font-size="5.7" text-anchor="start" fill="#1a1a1a" textLength="10.68" lengthAdjust="spacingAndGlyphs" stroke="#1a1a1a" stroke-width="0.18">100</text>
<text x="283.30" y="399.64" font-size="5.7" text-anchor="start" fill="#1a1a1a" textLength="12.46" lengthAdjust="spacingAndGlyphs" stroke="#1a1a1a" stroke-width="0.18">0.95</text>
<text x="312.20" y="399.64" font-size="5.7" text-anchor="start" fill="#1a1a1a" textLength="23.13" lengthAdjust="spacingAndGlyphs" stroke="#1a1a1a" stroke-width="0.18">0.19518</text>
<line x1="240.00" y1="281.60" x2="240.00" y2="401.00" stroke="#9a9a9a" stroke-width="0.7"/>
<line x1="281.80" y1="281.60" x2="281.80" y2="401.00" stroke="#9a9a9a" stroke-width="0.7"/>
<line x1="310.70" y1="281.60" x2="310.70" y2="401.00" stroke="#9a9a9a" stroke-width="0.7"/>
<line x1="197.20" y1="401.60" x2="340.00" y2="401.60" stroke="#b8b8b8" stroke-width="1.0"/>
<line x1="388.20" y1="288.20" x2="388.20" y2="384.00" stroke="#111" stroke-width="1.0"/>
<line x1="387.70" y1="383.50" x2="502.60" y2="383.50" stroke="#111" stroke-width="1.0"/>
<line x1="385.60" y1="383.50" x2="388.20" y2="383.50" stroke="#111" stroke-width="0.8"/>
<line x1="385.60" y1="360.45" x2="388.20" y2="360.45" stroke="#111" stroke-width="0.8"/>
<line x1="385.60" y1="337.40" x2="388.20" y2="337.40" stroke="#111" stroke-width="0.8"/>
<line x1="385.60" y1="314.35" x2="388.20" y2="314.35" stroke="#111" stroke-width="0.8"/>
<line x1="385.60" y1="291.30" x2="388.20" y2="291.30" stroke="#111" stroke-width="0.8"/>
<text x="382.90" y="293.50" font-size="6.3" text-anchor="end" fill="#222" stroke="#222" stroke-width="0.18">2</text>
<text x="382.90" y="385.70" font-size="6.3" text-anchor="end" fill="#222" stroke="#222" stroke-width="0.18">0</text>
<line x1="388.20" y1="383.50" x2="388.20" y2="385.80" stroke="#111" stroke-width="0.8"/>
<line x1="399.30" y1="383.50" x2="399.30" y2="385.80" stroke="#111" stroke-width="0.8"/>
<line x1="410.40" y1="383.50" x2="410.40" y2="385.80" stroke="#111" stroke-width="0.8"/>
<line x1="421.50" y1="383.50" x2="421.50" y2="385.80" stroke="#111" stroke-width="0.8"/>
<line x1="432.60" y1="383.50" x2="432.60" y2="385.80" stroke="#111" stroke-width="0.8"/>
<line x1="443.70" y1="383.50" x2="443.70" y2="385.80" stroke="#111" stroke-width="0.8"/>
<line x1="454.80" y1="383.50" x2="454.80" y2="385.80" stroke="#111" stroke-width="0.8"/>
<line x1="465.90" y1="383.50" x2="465.90" y2="385.80" stroke="#111" stroke-width="0.8"/>
<line x1="477.00" y1="383.50" x2="477.00" y2="385.80" stroke="#111" stroke-width="0.8"/>
<line x1="488.10" y1="383.50" x2="488.10" y2="385.80" stroke="#111" stroke-width="0.8"/>
<line x1="499.20" y1="383.50" x2="499.20" y2="385.80" stroke="#111" stroke-width="0.8"/>
<text x="388.20" y="395.60" font-size="6.3" text-anchor="middle" fill="#222" stroke="#222" stroke-width="0.18">0</text>
<text x="443.70" y="395.60" font-size="6.3" text-anchor="middle" fill="#222" stroke="#222" stroke-width="0.18">0.5</text>
<text x="499.20" y="395.60" font-size="6.3" text-anchor="middle" fill="#222" stroke="#222" stroke-width="0.18">1</text>
<text x="443.70" y="407.60" font-size="7.2" text-anchor="middle" fill="#222" stroke="#222" stroke-width="0.18">Fa</text>
<text x="373.60" y="335.80" font-size="7.0" text-anchor="middle" fill="#222" transform="rotate(-90 373.60 335.80)" stroke="#222" stroke-width="0.18">CI</text>
<line x1="388.20" y1="337.40" x2="460.00" y2="337.40" stroke="#777" stroke-width="0.9"/>
<text x="397.70" y="332.70" font-size="6.2" text-anchor="start" fill="#c0203f" textLength="32.30" lengthAdjust="spacingAndGlyphs" stroke="#c0203f" stroke-width="0.18">Antagonism</text>
<text x="400.30" y="353.70" font-size="6.1" text-anchor="start" fill="#5ab85a" textLength="28.60" lengthAdjust="spacingAndGlyphs" stroke="#5ab85a" stroke-width="0.18">Synergism</text>
<text x="460.00" y="340.40" font-size="6.1" text-anchor="start" fill="#1f2f66" textLength="38.50" lengthAdjust="spacingAndGlyphs" stroke="#1f2f66" stroke-width="0.18">Additive effect</text>
<circle cx="464.6" cy="295.8" r="1.6" fill="none" stroke="#4a78b0" stroke-width="0.8"/>
<text x="469.70" y="298.00" font-size="6.2" text-anchor="start" fill="#222" textLength="12.90" lengthAdjust="spacingAndGlyphs" stroke="#222" stroke-width="0.18">Com</text>
<circle cx="450.36" cy="357.45" r="1.65" fill="none" stroke="#4a78b0" stroke-width="0.8"/>
<circle cx="460.35" cy="357.93" r="1.65" fill="none" stroke="#4a78b0" stroke-width="0.8"/>
<circle cx="474.78" cy="364.82" r="1.65" fill="none" stroke="#4a78b0" stroke-width="0.8"/>
<circle cx="482.55" cy="365.68" r="1.65" fill="none" stroke="#4a78b0" stroke-width="0.8"/>
<circle cx="465.90" cy="364.77" r="1.65" fill="none" stroke="#4a78b0" stroke-width="0.8"/>
<circle cx="471.45" cy="364.70" r="1.65" fill="none" stroke="#4a78b0" stroke-width="0.8"/>
<circle cx="481.44" cy="369.49" r="1.65" fill="none" stroke="#4a78b0" stroke-width="0.8"/>
<circle cx="488.10" cy="372.23" r="1.65" fill="none" stroke="#4a78b0" stroke-width="0.8"/>
<circle cx="486.99" cy="375.21" r="1.65" fill="none" stroke="#4a78b0" stroke-width="0.8"/>
<circle cx="486.99" cy="374.04" r="1.65" fill="none" stroke="#4a78b0" stroke-width="0.8"/>
<circle cx="488.10" cy="373.05" r="1.65" fill="none" stroke="#4a78b0" stroke-width="0.8"/>
<circle cx="492.54" cy="376.06" r="1.65" fill="none" stroke="#4a78b0" stroke-width="0.8"/>
<circle cx="486.99" cy="368.08" r="1.65" fill="none" stroke="#4a78b0" stroke-width="0.8"/>
<circle cx="488.10" cy="368.65" r="1.65" fill="none" stroke="#4a78b0" stroke-width="0.8"/>
<circle cx="489.21" cy="368.63" r="1.65" fill="none" stroke="#4a78b0" stroke-width="0.8"/>
<circle cx="493.65" cy="374.50" r="1.65" fill="none" stroke="#4a78b0" stroke-width="0.8"/>
<line x1="162.00" y1="435.00" x2="162.00" y2="506.80" stroke="#111" stroke-width="1.0"/>
<line x1="161.50" y1="506.30" x2="219.50" y2="506.30" stroke="#111" stroke-width="1.0"/>
<line x1="159.20" y1="506.30" x2="162.00" y2="506.30" stroke="#111" stroke-width="0.8"/>
<text x="156.80" y="508.50" font-size="6.3" text-anchor="end" fill="#222" stroke="#222" stroke-width="0.18">0</text>
<line x1="159.20" y1="494.77" x2="162.00" y2="494.77" stroke="#111" stroke-width="0.8"/>
<text x="156.80" y="496.97" font-size="6.3" text-anchor="end" fill="#222" stroke="#222" stroke-width="0.18">20</text>
<line x1="159.20" y1="483.24" x2="162.00" y2="483.24" stroke="#111" stroke-width="0.8"/>
<text x="156.80" y="485.44" font-size="6.3" text-anchor="end" fill="#222" stroke="#222" stroke-width="0.18">40</text>
<line x1="159.20" y1="471.71" x2="162.00" y2="471.71" stroke="#111" stroke-width="0.8"/>
<text x="156.80" y="473.91" font-size="6.3" text-anchor="end" fill="#222" stroke="#222" stroke-width="0.18">60</text>
<line x1="159.20" y1="460.18" x2="162.00" y2="460.18" stroke="#111" stroke-width="0.8"/>
<text x="156.80" y="462.38" font-size="6.3" text-anchor="end" fill="#222" stroke="#222" stroke-width="0.18">80</text>
<line x1="159.20" y1="448.65" x2="162.00" y2="448.65" stroke="#111" stroke-width="0.8"/>
<text x="156.80" y="450.85" font-size="6.3" text-anchor="end" fill="#222" stroke="#222" stroke-width="0.18">100</text>
<line x1="159.20" y1="437.12" x2="162.00" y2="437.12" stroke="#111" stroke-width="0.8"/>
<text x="156.80" y="439.32" font-size="6.3" text-anchor="end" fill="#222" stroke="#222" stroke-width="0.18">120</text>
<rect x="165.10" y="448.65" width="9.00" height="57.65" fill="#cbc9d0"/>
<line x1="169.60" y1="448.65" x2="169.60" y2="446.92" stroke="#333" stroke-width="0.9"/>
<line x1="167.30" y1="446.92" x2="171.90" y2="446.92" stroke="#333" stroke-width="0.9"/>
<line x1="169.60" y1="506.30" x2="169.60" y2="508.60" stroke="#111" stroke-width="0.8"/>
<rect x="179.30" y="461.04" width="9.20" height="45.26" fill="#36a434"/>
<line x1="183.90" y1="461.04" x2="183.90" y2="456.72" stroke="#333" stroke-width="0.9"/>
<line x1="181.60" y1="456.72" x2="186.20" y2="456.72" stroke="#333" stroke-width="0.9"/>
<line x1="183.90" y1="506.30" x2="183.90" y2="508.60" stroke="#111" stroke-width="0.8"/>
<rect x="193.10" y="463.93" width="9.60" height="42.37" fill="#f9b900"/>
<line x1="197.90" y1="463.93" x2="197.90" y2="462.20" stroke="#333" stroke-width="0.9"/>
<line x1="195.60" y1="462.20" x2="200.20" y2="462.20" stroke="#333" stroke-width="0.9"/>
<line x1="197.90" y1="506.30" x2="197.90" y2="508.60" stroke="#111" stroke-width="0.8"/>
<rect x="207.50" y="504.86" width="9.40" height="1.44" fill="#c60a2c"/>
<line x1="212.20" y1="504.86" x2="212.20" y2="503.13" stroke="#333" stroke-width="0.9"/>
<line x1="209.90" y1="503.13" x2="214.50" y2="503.13" stroke="#333" stroke-width="0.9"/>
<line x1="212.20" y1="506.30" x2="212.20" y2="508.60" stroke="#111" stroke-width="0.8"/>
<line x1="181.90" y1="451.80" x2="200.60" y2="451.80" stroke="#222" stroke-width="0.9"/>
<path d="M192.60 451.80 L192.60 446.10 L213.90 446.10 L213.90 496.80" stroke="#222" stroke-width="0.9" fill="none"/>
<text x="203.25" y="444.50" font-size="7.2" text-anchor="middle" fill="#222" font-weight="bold" stroke="#222" stroke-width="0.18">**</text>
<line x1="167.90" y1="515.40" x2="171.30" y2="515.40" stroke="#222" stroke-width="0.9"/>
<line x1="182.20" y1="515.40" x2="185.60" y2="515.40" stroke="#222" stroke-width="0.9"/>
<line x1="183.90" y1="513.70" x2="183.90" y2="517.10" stroke="#222" stroke-width="0.9"/>
<line x1="196.20" y1="515.40" x2="199.60" y2="515.40" stroke="#222" stroke-width="0.9"/>
<line x1="210.50" y1="515.40" x2="213.90" y2="515.40" stroke="#222" stroke-width="0.9"/>
<line x1="212.20" y1="513.70" x2="212.20" y2="517.10" stroke="#222" stroke-width="0.9"/>
<line x1="167.90" y1="525.60" x2="171.30" y2="525.60" stroke="#222" stroke-width="0.9"/>
<line x1="182.20" y1="525.60" x2="185.60" y2="525.60" stroke="#222" stroke-width="0.9"/>
<line x1="196.20" y1="525.60" x2="199.60" y2="525.60" stroke="#222" stroke-width="0.9"/>
<line x1="197.90" y1="523.90" x2="197.90" y2="527.30" stroke="#222" stroke-width="0.9"/>
<line x1="210.50" y1="525.60" x2="213.90" y2="525.60" stroke="#222" stroke-width="0.9"/>
<line x1="212.20" y1="523.90" x2="212.20" y2="527.30" stroke="#222" stroke-width="0.9"/>
<line x1="238.50" y1="435.00" x2="238.50" y2="506.80" stroke="#111" stroke-width="1.0"/>
<line x1="238.00" y1="506.30" x2="295.50" y2="506.30" stroke="#111" stroke-width="1.0"/>
<line x1="235.70" y1="506.30" x2="238.50" y2="506.30" stroke="#111" stroke-width="0.8"/>
<text x="233.30" y="508.50" font-size="6.3" text-anchor="end" fill="#222" stroke="#222" stroke-width="0.18">0</text>
<line x1="235.70" y1="494.77" x2="238.50" y2="494.77" stroke="#111" stroke-width="0.8"/>
<text x="233.30" y="496.97" font-size="6.3" text-anchor="end" fill="#222" stroke="#222" stroke-width="0.18">20</text>
<line x1="235.70" y1="483.24" x2="238.50" y2="483.24" stroke="#111" stroke-width="0.8"/>
<text x="233.30" y="485.44" font-size="6.3" text-anchor="end" fill="#222" stroke="#222" stroke-width="0.18">40</text>
<line x1="235.70" y1="471.71" x2="238.50" y2="471.71" stroke="#111" stroke-width="0.8"/>
<text x="233.30" y="473.91" font-size="6.3" text-anchor="end" fill="#222" stroke="#222" stroke-width="0.18">60</text>
<line x1="235.70" y1="460.18" x2="238.50" y2="460.18" stroke="#111" stroke-width="0.8"/>
<text x="233.30" y="462.38" font-size="6.3" text-anchor="end" fill="#222" stroke="#222" stroke-width="0.18">80</text>
<line x1="235.70" y1="448.65" x2="238.50" y2="448.65" stroke="#111" stroke-width="0.8"/>
<text x="233.30" y="450.85" font-size="6.3" text-anchor="end" fill="#222" stroke="#222" stroke-width="0.18">100</text>
<line x1="235.70" y1="437.12" x2="238.50" y2="437.12" stroke="#111" stroke-width="0.8"/>
<text x="233.30" y="439.32" font-size="6.3" text-anchor="end" fill="#222" stroke="#222" stroke-width="0.18">120</text>
<rect x="241.10" y="448.65" width="9.30" height="57.65" fill="#cbc9d0"/>
<line x1="245.75" y1="448.65" x2="245.75" y2="442.31" stroke="#333" stroke-width="0.9"/>
<line x1="243.45" y1="442.31" x2="248.05" y2="442.31" stroke="#333" stroke-width="0.9"/>
<line x1="245.75" y1="506.30" x2="245.75" y2="508.60" stroke="#111" stroke-width="0.8"/>
<rect x="255.30" y="462.20" width="9.50" height="44.10" fill="#36a434"/>
<line x1="260.05" y1="462.20" x2="260.05" y2="458.45" stroke="#333" stroke-width="0.9"/>
<line x1="257.75" y1="458.45" x2="262.35" y2="458.45" stroke="#333" stroke-width="0.9"/>
<line x1="260.05" y1="506.30" x2="260.05" y2="508.60" stroke="#111" stroke-width="0.8"/>
<rect x="269.60" y="464.22" width="9.40" height="42.08" fill="#f9b900"/>
<line x1="274.30" y1="464.22" x2="274.30" y2="454.99" stroke="#333" stroke-width="0.9"/>
<line x1="272.00" y1="454.99" x2="276.60" y2="454.99" stroke="#333" stroke-width="0.9"/>
<line x1="274.30" y1="506.30" x2="274.30" y2="508.60" stroke="#111" stroke-width="0.8"/>
<rect x="283.80" y="487.85" width="9.50" height="18.45" fill="#c60a2c"/>
<line x1="288.55" y1="487.85" x2="288.55" y2="482.09" stroke="#333" stroke-width="0.9"/>
<line x1="286.25" y1="482.09" x2="290.85" y2="482.09" stroke="#333" stroke-width="0.9"/>
<line x1="288.55" y1="506.30" x2="288.55" y2="508.60" stroke="#111" stroke-width="0.8"/>
<line x1="257.00" y1="451.50" x2="275.20" y2="451.50" stroke="#222" stroke-width="0.9"/>
<path d="M267.40 451.50 L267.40 445.40 L288.70 445.40 L288.70 475.20" stroke="#222" stroke-width="0.9" fill="none"/>
<text x="278.05" y="443.80" font-size="7.2" text-anchor="middle" fill="#222" font-weight="bold" stroke="#222" stroke-width="0.18">**</text>
<line x1="244.05" y1="515.40" x2="247.45" y2="515.40" stroke="#222" stroke-width="0.9"/>
<line x1="258.35" y1="515.40" x2="261.75" y2="515.40" stroke="#222" stroke-width="0.9"/>
<line x1="260.05" y1="513.70" x2="260.05" y2="517.10" stroke="#222" stroke-width="0.9"/>
<line x1="272.60" y1="515.40" x2="276.00" y2="515.40" stroke="#222" stroke-width="0.9"/>
<line x1="286.85" y1="515.40" x2="290.25" y2="515.40" stroke="#222" stroke-width="0.9"/>
<line x1="288.55" y1="513.70" x2="288.55" y2="517.10" stroke="#222" stroke-width="0.9"/>
<line x1="244.05" y1="525.60" x2="247.45" y2="525.60" stroke="#222" stroke-width="0.9"/>
<line x1="258.35" y1="525.60" x2="261.75" y2="525.60" stroke="#222" stroke-width="0.9"/>
<line x1="272.60" y1="525.60" x2="276.00" y2="525.60" stroke="#222" stroke-width="0.9"/>
<line x1="274.30" y1="523.90" x2="274.30" y2="527.30" stroke="#222" stroke-width="0.9"/>
<line x1="286.85" y1="525.60" x2="290.25" y2="525.60" stroke="#222" stroke-width="0.9"/>
<line x1="288.55" y1="523.90" x2="288.55" y2="527.30" stroke="#222" stroke-width="0.9"/>
<line x1="314.70" y1="435.00" x2="314.70" y2="506.80" stroke="#111" stroke-width="1.0"/>
<line x1="314.20" y1="506.30" x2="371.50" y2="506.30" stroke="#111" stroke-width="1.0"/>
<line x1="311.90" y1="506.30" x2="314.70" y2="506.30" stroke="#111" stroke-width="0.8"/>
<text x="309.50" y="508.50" font-size="6.3" text-anchor="end" fill="#222" stroke="#222" stroke-width="0.18">0</text>
<line x1="311.90" y1="494.77" x2="314.70" y2="494.77" stroke="#111" stroke-width="0.8"/>
<text x="309.50" y="496.97" font-size="6.3" text-anchor="end" fill="#222" stroke="#222" stroke-width="0.18">20</text>
<line x1="311.90" y1="483.24" x2="314.70" y2="483.24" stroke="#111" stroke-width="0.8"/>
<text x="309.50" y="485.44" font-size="6.3" text-anchor="end" fill="#222" stroke="#222" stroke-width="0.18">40</text>
<line x1="311.90" y1="471.71" x2="314.70" y2="471.71" stroke="#111" stroke-width="0.8"/>
<text x="309.50" y="473.91" font-size="6.3" text-anchor="end" fill="#222" stroke="#222" stroke-width="0.18">60</text>
<line x1="311.90" y1="460.18" x2="314.70" y2="460.18" stroke="#111" stroke-width="0.8"/>
<text x="309.50" y="462.38" font-size="6.3" text-anchor="end" fill="#222" stroke="#222" stroke-width="0.18">80</text>
<line x1="311.90" y1="448.65" x2="314.70" y2="448.65" stroke="#111" stroke-width="0.8"/>
<text x="309.50" y="450.85" font-size="6.3" text-anchor="end" fill="#222" stroke="#222" stroke-width="0.18">100</text>
<line x1="311.90" y1="437.12" x2="314.70" y2="437.12" stroke="#111" stroke-width="0.8"/>
<text x="309.50" y="439.32" font-size="6.3" text-anchor="end" fill="#222" stroke="#222" stroke-width="0.18">120</text>
<rect x="317.30" y="448.65" width="9.50" height="57.65" fill="#cbc9d0"/>
<line x1="322.05" y1="448.65" x2="322.05" y2="441.16" stroke="#333" stroke-width="0.9"/>
<line x1="319.75" y1="441.16" x2="324.35" y2="441.16" stroke="#333" stroke-width="0.9"/>
<line x1="322.05" y1="506.30" x2="322.05" y2="508.60" stroke="#111" stroke-width="0.8"/>
<rect x="331.50" y="458.16" width="9.50" height="48.14" fill="#36a434"/>
<line x1="336.25" y1="458.16" x2="336.25" y2="446.34" stroke="#333" stroke-width="0.9"/>
<line x1="333.95" y1="446.34" x2="338.55" y2="446.34" stroke="#333" stroke-width="0.9"/>
<line x1="336.25" y1="506.30" x2="336.25" y2="508.60" stroke="#111" stroke-width="0.8"/>
<rect x="345.80" y="463.93" width="9.20" height="42.37" fill="#f9b900"/>
<line x1="350.40" y1="463.93" x2="350.40" y2="459.60" stroke="#333" stroke-width="0.9"/>
<line x1="348.10" y1="459.60" x2="352.70" y2="459.60" stroke="#333" stroke-width="0.9"/>
<line x1="350.40" y1="506.30" x2="350.40" y2="508.60" stroke="#111" stroke-width="0.8"/>
<rect x="360.20" y="487.85" width="9.00" height="18.45" fill="#c60a2c"/>
<line x1="364.70" y1="487.85" x2="364.70" y2="484.39" stroke="#333" stroke-width="0.9"/>
<line x1="362.40" y1="484.39" x2="367.00" y2="484.39" stroke="#333" stroke-width="0.9"/>
<line x1="364.70" y1="506.30" x2="364.70" y2="508.60" stroke="#111" stroke-width="0.8"/>
<line x1="333.70" y1="440.20" x2="351.90" y2="440.20" stroke="#222" stroke-width="0.9"/>
<path d="M344.10 440.20 L344.10 434.50 L363.10 434.50 L363.10 480.00" stroke="#222" stroke-width="0.9" fill="none"/>
<text x="353.60" y="432.90" font-size="7.2" text-anchor="middle" fill="#222" font-weight="bold" stroke="#222" stroke-width="0.18">**</text>
<line x1="320.35" y1="515.40" x2="323.75" y2="515.40" stroke="#222" stroke-width="0.9"/>
<line x1="334.55" y1="515.40" x2="337.95" y2="515.40" stroke="#222" stroke-width="0.9"/>
<line x1="336.25" y1="513.70" x2="336.25" y2="517.10" stroke="#222" stroke-width="0.9"/>
<line x1="348.70" y1="515.40" x2="352.10" y2="515.40" stroke="#222" stroke-width="0.9"/>
<line x1="363.00" y1="515.40" x2="366.40" y2="515.40" stroke="#222" stroke-width="0.9"/>
<line x1="364.70" y1="513.70" x2="364.70" y2="517.10" stroke="#222" stroke-width="0.9"/>
<line x1="320.35" y1="525.60" x2="323.75" y2="525.60" stroke="#222" stroke-width="0.9"/>
<line x1="334.55" y1="525.60" x2="337.95" y2="525.60" stroke="#222" stroke-width="0.9"/>
<line x1="348.70" y1="525.60" x2="352.10" y2="525.60" stroke="#222" stroke-width="0.9"/>
<line x1="350.40" y1="523.90" x2="350.40" y2="527.30" stroke="#222" stroke-width="0.9"/>
<line x1="363.00" y1="525.60" x2="366.40" y2="525.60" stroke="#222" stroke-width="0.9"/>
<line x1="364.70" y1="523.90" x2="364.70" y2="527.30" stroke="#222" stroke-width="0.9"/>
<text x="138.80" y="471.00" font-size="6.0" text-anchor="middle" fill="#222" textLength="78.00" lengthAdjust="spacingAndGlyphs" transform="rotate(-90 138.80 471.00)" stroke="#222" stroke-width="0.18">Proliferation relative control %</text>
<text x="158.80" y="517.70" font-size="6.1" text-anchor="end" fill="#222" textLength="25.10" lengthAdjust="spacingAndGlyphs" stroke="#222" stroke-width="0.18">Selinexor</text>
<text x="158.80" y="528.60" font-size="6.1" text-anchor="end" fill="#222" textLength="35.90" lengthAdjust="spacingAndGlyphs" stroke="#222" stroke-width="0.18">Rocaglamide</text>
<text x="190.50" y="540.00" font-size="8.4" text-anchor="middle" fill="#2a2a2a" textLength="41.50" lengthAdjust="spacingAndGlyphs" stroke="#2a2a2a" stroke-width="0.35">Primary MM #1</text>
<text x="270.00" y="540.00" font-size="8.4" text-anchor="middle" fill="#2a2a2a" textLength="47.60" lengthAdjust="spacingAndGlyphs" stroke="#2a2a2a" stroke-width="0.35">Primary MM #2</text>
<text x="346.00" y="540.00" font-size="8.4" text-anchor="middle" fill="#2a2a2a" textLength="48.00" lengthAdjust="spacingAndGlyphs" stroke="#2a2a2a" stroke-width="0.35">Primary MM #3</text>
<rect x="0" y="0" width="520" height="1" fill="#585858"/><rect x="0" y="0" width="1.1" height="549" fill="#585858"/><rect x="518.7" y="0" width="1.3" height="549" fill="#404040"/><rect x="0" y="547.5" width="520" height="1.5" fill="#404040"/>
</svg>
</body></html>
